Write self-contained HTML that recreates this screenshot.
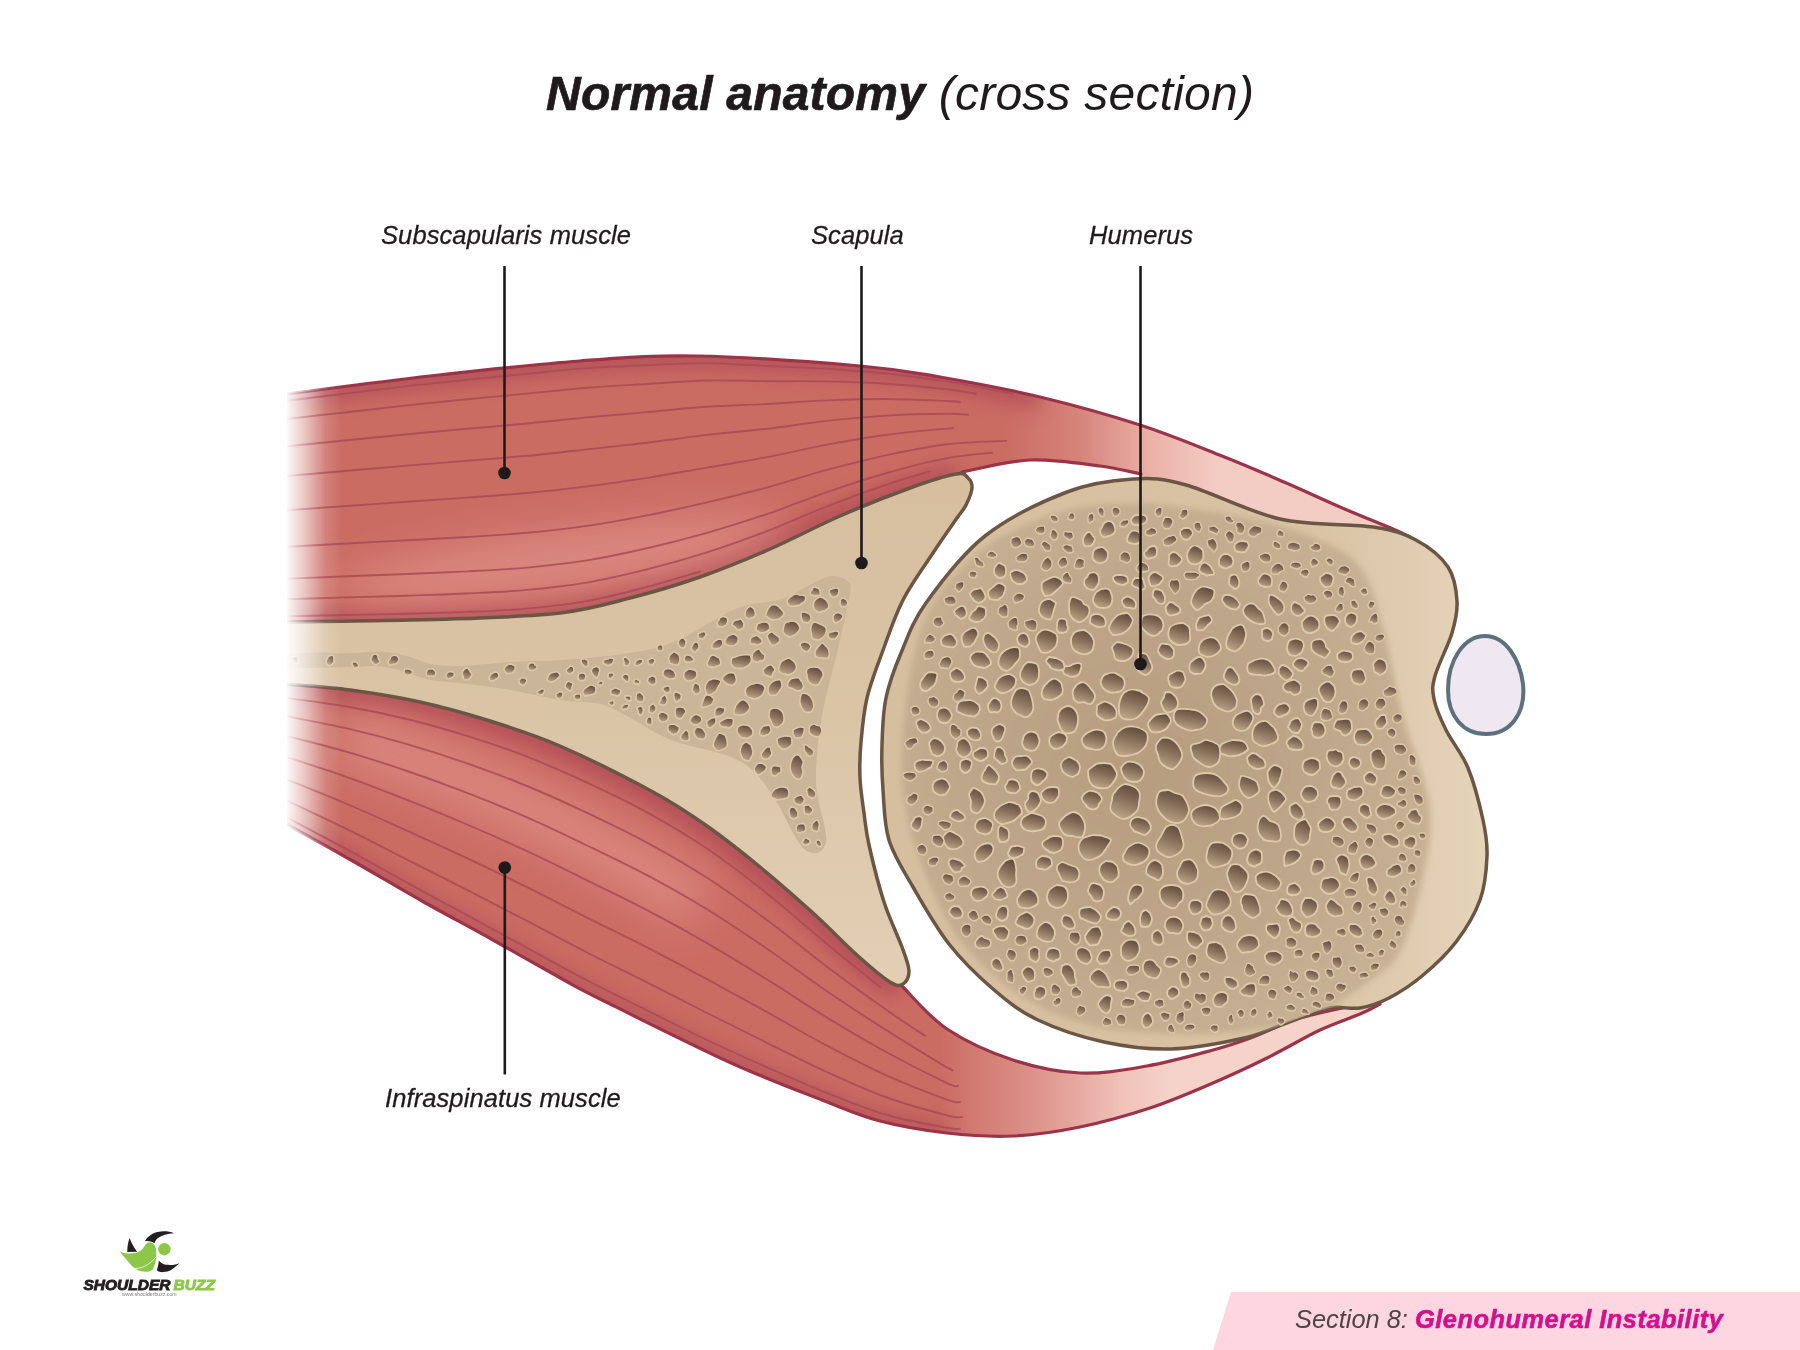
<!DOCTYPE html><html><head><meta charset="utf-8"><style>
html,body{margin:0;padding:0;background:#fff;width:1800px;height:1350px;overflow:hidden}
svg{display:block}
text{font-family:"Liberation Sans",sans-serif}
</style></head><body>
<svg width="1800" height="1350" viewBox="0 0 1800 1350">
<defs>
<linearGradient id="fade" x1="287" y1="0" x2="342" y2="0" gradientUnits="userSpaceOnUse">
<stop offset="0" stop-color="#fff" stop-opacity="0.04"/><stop offset="0.35" stop-color="#fff" stop-opacity="0.42"/><stop offset="0.7" stop-color="#fff" stop-opacity="0.85"/><stop offset="1" stop-color="#fff" stop-opacity="1"/></linearGradient>
<mask id="m" maskUnits="userSpaceOnUse" x="0" y="0" width="1800" height="1350"><rect x="287" y="0" width="1513" height="1350" fill="url(#fade)"/></mask>
<linearGradient id="gUp" x1="1005" y1="0" x2="1220" y2="0" gradientUnits="userSpaceOnUse">
<stop offset="0" stop-color="#cb6c63"/><stop offset="0.35" stop-color="#d6847b"/><stop offset="0.7" stop-color="#ebb4aa"/><stop offset="1" stop-color="#f3cdc4"/></linearGradient>
<linearGradient id="gLo" x1="940" y1="0" x2="1170" y2="0" gradientUnits="userSpaceOnUse">
<stop offset="0" stop-color="#cb6c63"/><stop offset="0.4" stop-color="#dc9189"/><stop offset="0.8" stop-color="#f1c3ba"/><stop offset="1" stop-color="#f5d2ca"/></linearGradient>
<linearGradient id="gScap" x1="0" y1="470" x2="0" y2="990" gradientUnits="userSpaceOnUse">
<stop offset="0" stop-color="#d6be9e"/><stop offset="0.45" stop-color="#dac4a6"/><stop offset="1" stop-color="#e2cfb5"/></linearGradient>
<linearGradient id="gHum" x1="900" y1="0" x2="1480" y2="0" gradientUnits="userSpaceOnUse">
<stop offset="0" stop-color="#d6bf9f"/><stop offset="0.72" stop-color="#d9c3a4"/><stop offset="1" stop-color="#e5d3ba"/></linearGradient>
<radialGradient id="gSp" cx="1140" cy="770" r="300" gradientUnits="userSpaceOnUse">
<stop offset="0" stop-color="#b69d80"/><stop offset="0.6" stop-color="#bea68a"/><stop offset="1" stop-color="#c7b194"/></radialGradient>
<linearGradient id="gH" x1="0.65" y1="0" x2="0.35" y2="1">
<stop offset="0" stop-color="#5f4a3a"/><stop offset="0.45" stop-color="#88705a"/><stop offset="1" stop-color="#bfa78a"/></linearGradient>
<filter id="b10" filterUnits="userSpaceOnUse" x="0" y="0" width="1800" height="1350"><feGaussianBlur stdDeviation="9"/></filter>
<filter id="b05" x="-2%" y="-2%" width="104%" height="104%"><feGaussianBlur stdDeviation="0.45"/></filter>
<filter id="b4" filterUnits="userSpaceOnUse" x="0" y="0" width="1800" height="1350"><feGaussianBlur stdDeviation="3"/></filter>
<filter id="b20" filterUnits="userSpaceOnUse" x="0" y="0" width="1800" height="1350"><feGaussianBlur stdDeviation="22"/></filter>
<clipPath id="cUp"><path d="M286.0,394.0 C310.0,391.0 381.0,381.5 430.0,376.0 C479.0,370.5 535.5,364.3 580.0,361.0 C624.5,357.7 650.3,355.2 697.0,356.0 C743.7,356.8 819.5,362.5 860.0,366.0 C900.5,369.5 910.0,371.8 940.0,377.0 C970.0,382.2 1006.7,389.0 1040.0,397.0 C1073.3,405.0 1109.7,415.2 1140.0,425.0 C1170.3,434.8 1198.0,446.5 1222.0,456.0 C1246.0,465.5 1263.2,473.0 1284.0,482.0 C1304.8,491.0 1328.8,502.2 1347.0,510.0 C1365.2,517.8 1382.5,524.5 1393.0,529.0 C1403.5,533.5 1407.2,535.7 1410.0,537.0 L1410.0,537.0 C1403.8,536.0 1394.7,533.3 1373.0,531.0 C1351.3,528.7 1311.2,529.8 1280.0,523.0 C1248.8,516.2 1209.2,497.2 1186.0,490.0 C1162.8,482.8 1148.5,481.7 1141.0,480.0 L1141.0,474.0 C1134.2,472.7 1118.5,468.3 1100.0,466.0 C1081.5,463.7 1053.0,459.0 1030.0,460.0 C1007.0,461.0 973.3,470.0 962.0,472.0 L956.0,474.0 C948.3,476.3 929.3,481.0 910.0,488.0 C890.7,495.0 863.3,505.8 840.0,516.0 C816.7,526.2 793.3,538.8 770.0,549.0 C746.7,559.2 723.3,568.8 700.0,577.0 C676.7,585.2 653.3,592.0 630.0,598.0 C606.7,604.0 590.0,609.5 560.0,613.0 C530.0,616.5 495.7,617.5 450.0,619.0 C404.3,620.5 313.3,621.5 286.0,622.0Z"/></clipPath>
<clipPath id="cLo"><path d="M286.0,684.0 C296.7,685.0 327.7,687.0 350.0,690.0 C372.3,693.0 396.7,696.8 420.0,702.0 C443.3,707.2 466.7,713.7 490.0,721.0 C513.3,728.3 532.8,734.2 560.0,746.0 C587.2,757.8 628.5,778.7 653.0,792.0 C677.5,805.3 689.2,813.5 707.0,826.0 C724.8,838.5 742.3,852.5 760.0,867.0 C777.7,881.5 796.7,898.2 813.0,913.0 C829.3,927.8 846.2,945.7 858.0,956.0 C869.8,966.3 876.7,970.0 884.0,975.0 C891.3,980.0 891.5,977.0 902.0,986.0 C912.5,995.0 928.5,1016.7 947.0,1029.0 C965.5,1041.3 990.8,1052.7 1013.0,1060.0 C1035.2,1067.3 1057.7,1072.0 1080.0,1073.0 C1102.3,1074.0 1124.8,1069.8 1147.0,1066.0 C1169.2,1062.2 1195.3,1054.8 1213.0,1050.0 C1230.7,1045.2 1238.5,1042.3 1253.0,1037.0 C1267.5,1031.7 1278.8,1024.2 1300.0,1018.0 C1321.2,1011.8 1366.7,1003.0 1380.0,1000.0 L1380.0,1004.0 C1376.7,1005.7 1370.0,1009.7 1360.0,1014.0 C1350.0,1018.3 1335.5,1022.7 1320.0,1030.0 C1304.5,1037.3 1284.8,1049.2 1267.0,1058.0 C1249.2,1066.8 1232.5,1074.7 1213.0,1083.0 C1193.5,1091.3 1172.2,1100.7 1150.0,1108.0 C1127.8,1115.3 1102.8,1122.3 1080.0,1127.0 C1057.2,1131.7 1035.2,1135.0 1013.0,1136.0 C990.8,1137.0 969.2,1135.5 947.0,1133.0 C924.8,1130.5 900.8,1126.5 880.0,1121.0 C859.2,1115.5 847.2,1109.8 822.0,1100.0 C796.8,1090.2 765.3,1078.5 729.0,1062.0 C692.7,1045.5 631.5,1014.7 604.0,1001.0 C576.5,987.3 582.5,990.2 564.0,980.0 C545.5,969.8 516.7,953.2 493.0,940.0 C469.3,926.8 445.7,914.3 422.0,901.0 C398.3,887.7 373.7,872.8 351.0,860.0 C328.3,847.2 296.8,830.0 286.0,824.0Z"/></clipPath>
<clipPath id="cHum"><path d="M1133.0,479.0 C1152.8,477.8 1161.5,478.3 1186.0,485.0 C1210.5,491.7 1248.8,512.0 1280.0,519.0 C1311.2,526.0 1350.3,523.5 1373.0,527.0 C1395.7,530.5 1403.5,533.3 1416.0,540.0 C1428.5,546.7 1441.2,556.8 1448.0,567.0 C1454.8,577.2 1456.3,590.0 1457.0,601.0 C1457.7,612.0 1455.7,620.5 1452.0,633.0 C1448.3,645.5 1438.0,665.0 1435.0,676.0 C1432.0,687.0 1432.2,690.0 1434.0,699.0 C1435.8,708.0 1440.3,718.5 1446.0,730.0 C1451.7,741.5 1461.8,753.0 1468.0,768.0 C1474.2,783.0 1479.8,805.3 1483.0,820.0 C1486.2,834.7 1487.5,842.7 1487.0,856.0 C1486.5,869.3 1485.2,885.7 1480.0,900.0 C1474.8,914.3 1465.7,929.3 1456.0,942.0 C1446.3,954.7 1433.2,966.7 1422.0,976.0 C1410.8,985.3 1399.3,992.7 1389.0,998.0 C1378.7,1003.3 1370.0,1006.3 1360.0,1008.0 C1350.0,1009.7 1340.8,1005.7 1329.0,1008.0 C1317.2,1010.3 1303.2,1017.0 1289.0,1022.0 C1274.8,1027.0 1263.7,1033.5 1244.0,1038.0 C1224.3,1042.5 1194.3,1048.3 1171.0,1049.0 C1147.7,1049.7 1126.2,1046.8 1104.0,1042.0 C1081.8,1037.2 1056.5,1028.8 1038.0,1020.0 C1019.5,1011.2 1007.8,1001.7 993.0,989.0 C978.2,976.3 962.3,961.0 949.0,944.0 C935.7,927.0 923.0,904.3 913.0,887.0 C903.0,869.7 894.0,856.2 889.0,840.0 C884.0,823.8 884.2,805.8 883.0,790.0 C881.8,774.2 881.5,760.3 882.0,745.0 C882.5,729.7 882.8,713.3 886.0,698.0 C889.2,682.7 894.3,668.8 901.0,653.0 C907.7,637.2 912.0,622.5 926.0,603.0 C940.0,583.5 961.5,554.5 985.0,536.0 C1008.5,517.5 1042.3,501.5 1067.0,492.0 C1091.7,482.5 1113.2,480.2 1133.0,479.0Z"/></clipPath>
<clipPath id="cScap"><path d="M286,622 C313.3,621.5 404.3,620.5 450.0,619.0 C495.7,617.5 530.0,616.5 560.0,613.0 C590.0,609.5 606.7,604.0 630.0,598.0 C653.3,592.0 676.7,585.2 700.0,577.0 C723.3,568.8 746.7,559.2 770.0,549.0 C793.3,538.8 816.7,526.2 840.0,516.0 C863.3,505.8 890.7,495.0 910.0,488.0 C929.3,481.0 946.3,475.7 956.0,474.0 C965.7,472.3 965.3,475.7 968.0,478.0 C970.7,480.3 972.3,483.5 972.0,488.0 C971.7,492.5 968.5,500.0 966.0,505.0 C963.5,510.0 962.5,510.0 957.0,518.0 C951.5,526.0 942.0,539.3 933.0,553.0 C924.0,566.7 911.5,583.3 903.0,600.0 C894.5,616.7 888.0,636.7 882.0,653.0 C876.0,669.3 870.5,683.2 867.0,698.0 C863.5,712.8 862.2,728.7 861.0,742.0 C859.8,755.3 859.5,766.2 860.0,778.0 C860.5,789.8 862.5,801.8 864.0,813.0 C865.5,824.2 865.7,830.2 869.0,845.0 C872.3,859.8 878.5,885.0 884.0,902.0 C889.5,919.0 897.8,935.5 902.0,947.0 C906.2,958.5 908.8,964.8 909.0,971.0 C909.2,977.2 906.2,982.2 903.0,984.0 C899.8,985.8 897.5,986.7 890.0,982.0 C882.5,977.3 870.8,967.5 858.0,956.0 C845.2,944.5 829.3,927.8 813.0,913.0 C796.7,898.2 777.7,881.5 760.0,867.0 C742.3,852.5 724.8,838.5 707.0,826.0 C689.2,813.5 677.5,805.3 653.0,792.0 C628.5,778.7 587.2,757.8 560.0,746.0 C532.8,734.2 513.3,728.3 490.0,721.0 C466.7,713.7 443.3,707.2 420.0,702.0 C396.7,696.8 372.3,693.0 350.0,690.0 C327.7,687.0 296.7,685.0 286.0,684.0Z"/></clipPath>
</defs>

<g mask="url(#m)">
<path d="M286.0,394.0 C310.0,391.0 381.0,381.5 430.0,376.0 C479.0,370.5 535.5,364.3 580.0,361.0 C624.5,357.7 650.3,355.2 697.0,356.0 C743.7,356.8 819.5,362.5 860.0,366.0 C900.5,369.5 910.0,371.8 940.0,377.0 C970.0,382.2 1006.7,389.0 1040.0,397.0 C1073.3,405.0 1109.7,415.2 1140.0,425.0 C1170.3,434.8 1198.0,446.5 1222.0,456.0 C1246.0,465.5 1263.2,473.0 1284.0,482.0 C1304.8,491.0 1328.8,502.2 1347.0,510.0 C1365.2,517.8 1382.5,524.5 1393.0,529.0 C1403.5,533.5 1407.2,535.7 1410.0,537.0 L1410.0,537.0 C1403.8,536.0 1394.7,533.3 1373.0,531.0 C1351.3,528.7 1311.2,529.8 1280.0,523.0 C1248.8,516.2 1209.2,497.2 1186.0,490.0 C1162.8,482.8 1148.5,481.7 1141.0,480.0 L1141.0,474.0 C1134.2,472.7 1118.5,468.3 1100.0,466.0 C1081.5,463.7 1053.0,459.0 1030.0,460.0 C1007.0,461.0 973.3,470.0 962.0,472.0 L956.0,474.0 C948.3,476.3 929.3,481.0 910.0,488.0 C890.7,495.0 863.3,505.8 840.0,516.0 C816.7,526.2 793.3,538.8 770.0,549.0 C746.7,559.2 723.3,568.8 700.0,577.0 C676.7,585.2 653.3,592.0 630.0,598.0 C606.7,604.0 590.0,609.5 560.0,613.0 C530.0,616.5 495.7,617.5 450.0,619.0 C404.3,620.5 313.3,621.5 286.0,622.0Z" fill="url(#gUp)"/>
<g clip-path="url(#cUp)">
<path d="M286,394 C310.0,391.0 381.0,381.5 430.0,376.0 C479.0,370.5 535.5,364.3 580.0,361.0 C624.5,357.7 650.3,355.2 697.0,356.0 C743.7,356.8 819.5,362.5 860.0,366.0 C900.5,369.5 910.0,371.8 940.0,377.0 C970.0,382.2 1023.3,393.7 1040.0,397.0" fill="none" stroke="#b24f58" stroke-width="26" filter="url(#b10)" opacity="0.8"/>
<path d="M956,475 C948.3,476.3 929.3,481.0 910.0,488.0 C890.7,495.0 863.3,505.8 840.0,516.0 C816.7,526.2 793.3,538.8 770.0,549.0 C746.7,559.2 723.3,568.8 700.0,577.0 C676.7,585.2 653.3,592.0 630.0,598.0 C606.7,604.0 590.0,609.5 560.0,613.0 C530.0,616.5 495.7,617.5 450.0,619.0 C404.3,620.5 313.3,621.5 286.0,622.0" fill="none" stroke="#b04c57" stroke-width="26" filter="url(#b10)" opacity="0.75"/>
<ellipse cx="560" cy="560" rx="230" ry="28" transform="rotate(-8 560 560)" fill="#dd8f87" filter="url(#b20)" opacity="0.9"/>
</g>
<path d="M286.0,684.0 C296.7,685.0 327.7,687.0 350.0,690.0 C372.3,693.0 396.7,696.8 420.0,702.0 C443.3,707.2 466.7,713.7 490.0,721.0 C513.3,728.3 532.8,734.2 560.0,746.0 C587.2,757.8 628.5,778.7 653.0,792.0 C677.5,805.3 689.2,813.5 707.0,826.0 C724.8,838.5 742.3,852.5 760.0,867.0 C777.7,881.5 796.7,898.2 813.0,913.0 C829.3,927.8 846.2,945.7 858.0,956.0 C869.8,966.3 876.7,970.0 884.0,975.0 C891.3,980.0 891.5,977.0 902.0,986.0 C912.5,995.0 928.5,1016.7 947.0,1029.0 C965.5,1041.3 990.8,1052.7 1013.0,1060.0 C1035.2,1067.3 1057.7,1072.0 1080.0,1073.0 C1102.3,1074.0 1124.8,1069.8 1147.0,1066.0 C1169.2,1062.2 1195.3,1054.8 1213.0,1050.0 C1230.7,1045.2 1238.5,1042.3 1253.0,1037.0 C1267.5,1031.7 1278.8,1024.2 1300.0,1018.0 C1321.2,1011.8 1366.7,1003.0 1380.0,1000.0 L1380.0,1004.0 C1376.7,1005.7 1370.0,1009.7 1360.0,1014.0 C1350.0,1018.3 1335.5,1022.7 1320.0,1030.0 C1304.5,1037.3 1284.8,1049.2 1267.0,1058.0 C1249.2,1066.8 1232.5,1074.7 1213.0,1083.0 C1193.5,1091.3 1172.2,1100.7 1150.0,1108.0 C1127.8,1115.3 1102.8,1122.3 1080.0,1127.0 C1057.2,1131.7 1035.2,1135.0 1013.0,1136.0 C990.8,1137.0 969.2,1135.5 947.0,1133.0 C924.8,1130.5 900.8,1126.5 880.0,1121.0 C859.2,1115.5 847.2,1109.8 822.0,1100.0 C796.8,1090.2 765.3,1078.5 729.0,1062.0 C692.7,1045.5 631.5,1014.7 604.0,1001.0 C576.5,987.3 582.5,990.2 564.0,980.0 C545.5,969.8 516.7,953.2 493.0,940.0 C469.3,926.8 445.7,914.3 422.0,901.0 C398.3,887.7 373.7,872.8 351.0,860.0 C328.3,847.2 296.8,830.0 286.0,824.0Z" fill="url(#gLo)"/>
<g clip-path="url(#cLo)">
<path d="M286,684 C296.7,685.0 327.7,687.0 350.0,690.0 C372.3,693.0 396.7,696.8 420.0,702.0 C443.3,707.2 466.7,713.7 490.0,721.0 C513.3,728.3 532.8,734.2 560.0,746.0 C587.2,757.8 628.5,778.7 653.0,792.0 C677.5,805.3 689.2,813.5 707.0,826.0 C724.8,838.5 742.3,852.5 760.0,867.0 C777.7,881.5 796.7,898.2 813.0,913.0 C829.3,927.8 846.2,945.7 858.0,956.0 C869.8,966.3 876.7,970.0 884.0,975.0 C891.3,980.0 899.0,984.2 902.0,986.0" fill="none" stroke="#b04c57" stroke-width="30" filter="url(#b10)" opacity="0.8"/>
<path d="M947,1133 C935.8,1131.0 900.8,1126.5 880.0,1121.0 C859.2,1115.5 847.2,1109.8 822.0,1100.0 C796.8,1090.2 765.3,1078.5 729.0,1062.0 C692.7,1045.5 631.5,1014.7 604.0,1001.0 C576.5,987.3 582.5,990.2 564.0,980.0 C545.5,969.8 516.7,953.2 493.0,940.0 C469.3,926.8 445.7,914.3 422.0,901.0 C398.3,887.7 373.7,872.8 351.0,860.0 C328.3,847.2 296.8,830.0 286.0,824.0" fill="none" stroke="#b24f58" stroke-width="22" filter="url(#b10)" opacity="0.7"/>
<path d="M340,735 C450,770 570,825 700,905" fill="none" stroke="#dc8c84" stroke-width="55" filter="url(#b20)" opacity="0.85"/>
</g>
</g>
<g mask="url(#m)" fill="none" stroke="#a94b56" stroke-width="1.9" stroke-linecap="round" opacity="0.85">
<path d="M287.0,400.7 C297.0,399.5 327.0,395.8 347.0,393.4 C367.0,391.0 387.0,388.4 407.0,386.1 C427.0,383.8 447.0,381.7 467.0,379.7 C487.0,377.6 507.0,375.7 527.0,373.8 C547.0,371.8 567.0,369.5 587.0,368.1 C607.0,366.7 627.0,366.0 647.0,365.2 C667.0,364.4 687.0,363.0 707.0,363.1 C727.0,363.3 747.0,365.1 767.0,366.0 C787.0,366.9 807.0,367.5 827.0,368.7 C847.0,370.0 867.0,371.4 887.0,373.5 C907.0,375.6 927.0,378.2 947.0,381.4 C967.0,384.5 996.5,390.7 1007.0,392.7 C1017.5,394.6 1009.5,393.1 1010.0,393.2"/>
<path d="M287.0,419.0 C297.0,417.8 327.0,414.4 347.0,412.2 C367.0,409.9 387.0,407.5 407.0,405.4 C427.0,403.2 447.0,401.3 467.0,399.3 C487.0,397.4 507.0,395.6 527.0,393.6 C547.0,391.7 567.0,389.4 587.0,387.8 C607.0,386.2 627.0,385.2 647.0,384.0 C667.0,382.7 687.0,381.0 707.0,380.5 C727.0,380.1 747.0,381.0 767.0,381.2 C787.0,381.3 807.0,380.9 827.0,381.4 C847.0,381.8 867.0,382.4 887.0,383.7 C907.0,385.0 932.2,387.6 947.0,389.2 C961.8,390.9 971.2,393.0 976.0,393.7"/>
<path d="M287.0,446.3 C297.0,445.3 327.0,442.3 347.0,440.3 C367.0,438.3 387.0,436.2 407.0,434.3 C427.0,432.4 447.0,430.6 467.0,428.8 C487.0,427.0 507.0,425.4 527.0,423.5 C547.0,421.6 567.0,419.3 587.0,417.4 C607.0,415.5 627.0,413.9 647.0,412.1 C667.0,410.3 687.0,408.0 707.0,406.7 C727.0,405.3 747.0,405.0 767.0,404.0 C787.0,402.9 807.0,401.2 827.0,400.4 C847.0,399.5 867.0,398.9 887.0,399.0 C907.0,399.1 934.8,400.5 947.0,401.0 C959.2,401.6 957.8,402.0 960.0,402.2"/>
<path d="M287.0,476.0 C297.0,475.1 327.0,472.5 347.0,470.8 C367.0,469.1 387.0,467.3 407.0,465.6 C427.0,463.9 447.0,462.4 467.0,460.8 C487.0,459.1 507.0,457.6 527.0,455.8 C547.0,453.9 567.0,451.6 587.0,449.4 C607.0,447.3 627.0,445.1 647.0,442.7 C667.0,440.2 687.0,437.3 707.0,434.9 C727.0,432.6 747.0,431.0 767.0,428.7 C787.0,426.3 807.0,423.1 827.0,420.9 C847.0,418.7 867.0,416.8 887.0,415.6 C907.0,414.4 933.5,413.9 947.0,413.8 C960.5,413.7 964.5,414.6 968.0,414.8"/>
<path d="M287.0,510.2 C297.0,509.5 327.0,507.4 347.0,506.0 C367.0,504.6 387.0,503.1 407.0,501.7 C427.0,500.4 447.0,499.1 467.0,497.6 C487.0,496.2 507.0,494.9 527.0,493.0 C547.0,491.2 567.0,489.0 587.0,486.4 C607.0,483.9 627.0,481.0 647.0,477.9 C667.0,474.7 687.0,471.0 707.0,467.6 C727.0,464.1 747.0,461.0 767.0,457.1 C787.0,453.3 807.0,448.4 827.0,444.6 C847.0,440.9 867.0,437.4 887.0,434.7 C907.0,432.1 936.2,429.6 947.0,428.6 C957.8,427.5 951.2,428.3 952.0,428.3"/>
<path d="M287.0,546.7 C297.0,546.2 327.0,544.6 347.0,543.5 C367.0,542.4 387.0,541.4 407.0,540.3 C427.0,539.2 447.0,538.2 467.0,537.0 C487.0,535.7 507.0,534.6 527.0,532.8 C547.0,530.9 567.0,528.8 587.0,525.9 C607.0,523.0 627.0,519.3 647.0,515.4 C667.0,511.5 687.0,507.0 707.0,502.4 C727.0,497.7 747.0,492.9 767.0,487.5 C787.0,482.1 807.0,475.3 827.0,469.9 C847.0,464.5 867.0,459.4 887.0,455.1 C907.0,450.9 927.2,446.7 947.0,444.3 C966.8,441.9 996.2,441.5 1006.0,440.9"/>
<path d="M287.0,578.6 C297.0,578.3 327.0,577.1 347.0,576.3 C367.0,575.6 387.0,574.8 407.0,574.0 C427.0,573.2 447.0,572.4 467.0,571.4 C487.0,570.3 507.0,569.4 527.0,567.6 C547.0,565.8 567.0,563.6 587.0,560.4 C607.0,557.2 627.0,552.9 647.0,548.3 C667.0,543.7 687.0,538.6 707.0,532.9 C727.0,527.2 747.0,520.9 767.0,514.1 C787.0,507.3 807.0,498.9 827.0,492.1 C847.0,485.2 867.0,478.6 887.0,473.0 C907.0,467.3 929.5,461.4 947.0,458.1 C964.5,454.7 984.5,453.7 992.0,452.8"/>
<path d="M287.0,599.2 C297.0,598.9 327.0,598.0 347.0,597.4 C367.0,596.9 387.0,596.4 407.0,595.7 C427.0,595.0 447.0,594.5 467.0,593.5 C487.0,592.5 507.0,591.8 527.0,589.9 C547.0,588.1 567.0,586.0 587.0,582.6 C607.0,579.1 627.0,574.4 647.0,569.4 C667.0,564.4 687.0,558.8 707.0,552.4 C727.0,546.1 747.0,538.9 767.0,531.2 C787.0,523.5 807.0,514.1 827.0,506.3 C847.0,498.5 869.8,490.3 887.0,484.5 C904.2,478.6 922.8,473.5 930.0,471.3"/>
<path d="M287.0,616.3 C297.0,616.1 327.0,615.4 347.0,615.0 C367.0,614.6 387.0,614.3 407.0,613.8 C427.0,613.2 447.0,612.8 467.0,611.9 C487.0,611.1 507.0,610.4 527.0,608.6 C547.0,606.8 567.0,604.6 587.0,601.1 C607.0,597.5 628.2,592.0 647.0,587.0 C665.8,582.1 691.2,574.1 700.0,571.5"/>
</g>
<g mask="url(#m)" fill="none" stroke="#a94b56" stroke-width="1.9" stroke-linecap="round" opacity="0.85">
<path d="M287.0,698.1 C297.0,699.5 327.0,703.0 347.0,706.5 C367.0,710.0 387.0,714.1 407.0,719.0 C427.0,723.9 447.0,729.6 467.0,735.9 C487.0,742.1 507.0,748.9 527.0,756.7 C547.0,764.5 567.0,773.4 587.0,782.6 C607.0,791.9 627.0,801.3 647.0,812.3 C667.0,823.3 687.0,835.0 707.0,848.5 C727.0,862.1 747.0,877.6 767.0,893.5 C787.0,909.4 808.2,928.3 827.0,943.9 C845.8,959.5 871.2,979.8 880.0,987.0"/>
<path d="M287.0,716.4 C297.0,718.4 327.0,723.8 347.0,728.4 C367.0,733.0 387.0,738.2 407.0,744.1 C427.0,749.9 447.0,756.3 467.0,763.3 C487.0,770.3 507.0,777.7 527.0,786.0 C547.0,794.2 567.0,803.4 587.0,812.9 C607.0,822.3 627.0,831.8 647.0,842.6 C667.0,853.4 687.0,864.9 707.0,877.8 C727.0,890.7 747.0,905.3 767.0,920.1 C787.0,934.9 807.0,951.7 827.0,966.7 C847.0,981.8 870.7,998.8 887.0,1010.3 C903.3,1021.8 918.7,1031.6 925.0,1035.8"/>
<path d="M287.0,736.1 C297.0,738.7 327.0,746.1 347.0,751.9 C367.0,757.7 387.0,764.2 407.0,771.0 C427.0,777.8 447.0,785.1 467.0,792.8 C487.0,800.5 507.0,808.7 527.0,817.4 C547.0,826.2 567.0,835.8 587.0,845.5 C607.0,855.1 627.0,864.6 647.0,875.2 C667.0,885.9 687.0,897.1 707.0,909.3 C727.0,921.6 747.0,935.1 767.0,948.7 C787.0,962.4 807.0,977.6 827.0,991.3 C847.0,1004.9 867.0,1017.9 887.0,1030.6 C907.0,1043.3 936.5,1061.2 947.0,1067.5 C957.5,1073.8 949.5,1068.3 950.0,1068.4"/>
<path d="M287.0,757.1 C297.0,760.5 327.0,770.0 347.0,777.1 C367.0,784.2 387.0,792.0 407.0,799.9 C427.0,807.8 447.0,815.9 467.0,824.5 C487.0,833.0 507.0,841.9 527.0,851.2 C547.0,860.5 567.0,870.5 587.0,880.4 C607.0,890.2 627.0,899.7 647.0,910.2 C667.0,920.6 687.0,931.6 707.0,943.1 C727.0,954.7 747.0,967.0 767.0,979.4 C787.0,991.8 807.0,1005.4 827.0,1017.6 C847.0,1029.8 867.0,1041.5 887.0,1052.5 C907.0,1063.4 935.2,1077.5 947.0,1083.1 C958.8,1088.6 956.2,1085.4 958.0,1085.8"/>
<path d="M287.0,779.6 C297.0,783.7 327.0,795.5 347.0,804.0 C367.0,812.5 387.0,821.7 407.0,830.7 C427.0,839.8 447.0,848.8 467.0,858.2 C487.0,867.6 507.0,877.3 527.0,887.2 C547.0,897.1 567.0,907.6 587.0,917.6 C607.0,927.6 627.0,937.2 647.0,947.4 C667.0,957.7 687.0,968.4 707.0,979.2 C727.0,990.0 747.0,1001.0 767.0,1012.1 C787.0,1023.2 807.0,1035.1 827.0,1045.7 C847.0,1056.3 867.0,1066.7 887.0,1075.7 C907.0,1084.7 934.8,1095.3 947.0,1099.7 C959.2,1104.1 957.8,1101.7 960.0,1102.1"/>
<path d="M287.0,800.7 C297.0,805.4 327.0,819.4 347.0,829.2 C367.0,839.0 387.0,849.5 407.0,859.6 C427.0,869.7 447.0,879.6 467.0,889.9 C487.0,900.1 507.0,910.5 527.0,920.9 C547.0,931.4 567.0,942.3 587.0,952.5 C607.0,962.8 627.0,972.3 647.0,982.4 C667.0,992.5 687.0,1002.9 707.0,1013.0 C727.0,1023.0 747.0,1032.9 767.0,1042.8 C787.0,1052.6 807.0,1062.9 827.0,1072.0 C847.0,1081.1 867.0,1090.3 887.0,1097.5 C907.0,1104.8 934.5,1112.1 947.0,1115.3 C959.5,1118.6 959.5,1116.8 962.0,1117.1"/>
<path d="M287.0,817.5 C297.0,822.8 327.0,838.5 347.0,849.4 C367.0,860.2 387.0,871.7 407.0,882.7 C427.0,893.7 447.0,904.3 467.0,915.2 C487.0,926.0 507.0,937.0 527.0,947.9 C547.0,958.8 567.0,970.0 587.0,980.4 C607.0,990.8 627.0,1000.4 647.0,1010.3 C667.0,1020.3 687.0,1030.5 707.0,1040.0 C727.0,1049.5 747.0,1058.5 767.0,1067.3 C787.0,1076.1 807.0,1085.1 827.0,1093.0 C847.0,1101.0 867.0,1109.2 887.0,1115.0 C907.0,1120.8 934.8,1125.5 947.0,1127.8 C959.2,1130.1 957.8,1128.5 960.0,1128.7"/>
</g>
<g mask="url(#m)" fill="none" stroke="#9b3449" stroke-width="3.2" stroke-linecap="round">
<path d="M286,394 C310.0,391.0 381.0,381.5 430.0,376.0 C479.0,370.5 535.5,364.3 580.0,361.0 C624.5,357.7 650.3,355.2 697.0,356.0 C743.7,356.8 819.5,362.5 860.0,366.0 C900.5,369.5 910.0,371.8 940.0,377.0 C970.0,382.2 1006.7,389.0 1040.0,397.0 C1073.3,405.0 1109.7,415.2 1140.0,425.0 C1170.3,434.8 1198.0,446.5 1222.0,456.0 C1246.0,465.5 1263.2,473.0 1284.0,482.0 C1304.8,491.0 1328.8,502.2 1347.0,510.0 C1365.2,517.8 1382.5,524.5 1393.0,529.0 C1403.5,533.5 1407.2,535.7 1410.0,537.0"/>
<path d="M1141,474 C1134.2,472.7 1118.5,468.3 1100.0,466.0 C1081.5,463.7 1053.0,459.0 1030.0,460.0 C1007.0,461.0 973.3,470.0 962.0,472.0"/>
<path d="M902,986 C909.5,993.2 928.5,1016.7 947.0,1029.0 C965.5,1041.3 990.8,1052.7 1013.0,1060.0 C1035.2,1067.3 1057.7,1072.0 1080.0,1073.0 C1102.3,1074.0 1124.8,1069.8 1147.0,1066.0 C1169.2,1062.2 1195.3,1054.8 1213.0,1050.0 C1230.7,1045.2 1238.5,1042.3 1253.0,1037.0 C1267.5,1031.7 1278.8,1024.2 1300.0,1018.0 C1321.2,1011.8 1366.7,1003.0 1380.0,1000.0"/>
<path d="M1380,1004 C1376.7,1005.7 1370.0,1009.7 1360.0,1014.0 C1350.0,1018.3 1335.5,1022.7 1320.0,1030.0 C1304.5,1037.3 1284.8,1049.2 1267.0,1058.0 C1249.2,1066.8 1232.5,1074.7 1213.0,1083.0 C1193.5,1091.3 1172.2,1100.7 1150.0,1108.0 C1127.8,1115.3 1102.8,1122.3 1080.0,1127.0 C1057.2,1131.7 1035.2,1135.0 1013.0,1136.0 C990.8,1137.0 969.2,1135.5 947.0,1133.0 C924.8,1130.5 900.8,1126.5 880.0,1121.0 C859.2,1115.5 847.2,1109.8 822.0,1100.0 C796.8,1090.2 765.3,1078.5 729.0,1062.0 C692.7,1045.5 631.5,1014.7 604.0,1001.0 C576.5,987.3 582.5,990.2 564.0,980.0 C545.5,969.8 516.7,953.2 493.0,940.0 C469.3,926.8 445.7,914.3 422.0,901.0 C398.3,887.7 373.7,872.8 351.0,860.0 C328.3,847.2 296.8,830.0 286.0,824.0"/>
</g>
<g mask="url(#m)">
<path d="M286,622 C313.3,621.5 404.3,620.5 450.0,619.0 C495.7,617.5 530.0,616.5 560.0,613.0 C590.0,609.5 606.7,604.0 630.0,598.0 C653.3,592.0 676.7,585.2 700.0,577.0 C723.3,568.8 746.7,559.2 770.0,549.0 C793.3,538.8 816.7,526.2 840.0,516.0 C863.3,505.8 890.7,495.0 910.0,488.0 C929.3,481.0 946.3,475.7 956.0,474.0 C965.7,472.3 965.3,475.7 968.0,478.0 C970.7,480.3 972.3,483.5 972.0,488.0 C971.7,492.5 968.5,500.0 966.0,505.0 C963.5,510.0 962.5,510.0 957.0,518.0 C951.5,526.0 942.0,539.3 933.0,553.0 C924.0,566.7 911.5,583.3 903.0,600.0 C894.5,616.7 888.0,636.7 882.0,653.0 C876.0,669.3 870.5,683.2 867.0,698.0 C863.5,712.8 862.2,728.7 861.0,742.0 C859.8,755.3 859.5,766.2 860.0,778.0 C860.5,789.8 862.5,801.8 864.0,813.0 C865.5,824.2 865.7,830.2 869.0,845.0 C872.3,859.8 878.5,885.0 884.0,902.0 C889.5,919.0 897.8,935.5 902.0,947.0 C906.2,958.5 908.8,964.8 909.0,971.0 C909.2,977.2 906.2,982.2 903.0,984.0 C899.8,985.8 897.5,986.7 890.0,982.0 C882.5,977.3 870.8,967.5 858.0,956.0 C845.2,944.5 829.3,927.8 813.0,913.0 C796.7,898.2 777.7,881.5 760.0,867.0 C742.3,852.5 724.8,838.5 707.0,826.0 C689.2,813.5 677.5,805.3 653.0,792.0 C628.5,778.7 587.2,757.8 560.0,746.0 C532.8,734.2 513.3,728.3 490.0,721.0 C466.7,713.7 443.3,707.2 420.0,702.0 C396.7,696.8 372.3,693.0 350.0,690.0 C327.7,687.0 296.7,685.0 286.0,684.0Z" fill="url(#gScap)"/>
<path d="M287.0,654.0 C297.5,651.7 333.7,653.3 350.0,653.0 C366.3,652.7 375.0,651.3 385.0,652.0 C395.0,652.7 402.3,655.0 410.0,657.0 C417.7,659.0 422.7,662.5 431.0,664.0 C439.3,665.5 446.7,666.3 460.0,666.0 C473.3,665.7 494.3,663.0 511.0,662.0 C527.7,661.0 542.7,661.2 560.0,660.0 C577.3,658.8 596.5,657.8 615.0,655.0 C633.5,652.2 650.5,650.8 671.0,643.0 C691.5,635.2 719.5,615.3 738.0,608.0 C756.5,600.7 767.2,604.2 782.0,599.0 C796.8,593.8 816.2,580.0 827.0,577.0 C837.8,574.0 843.2,578.3 847.0,581.0 C850.8,583.7 851.5,581.7 850.0,593.0 C848.5,604.3 842.7,628.5 838.0,649.0 C833.3,669.5 825.7,693.8 822.0,716.0 C818.3,738.2 815.3,761.0 816.0,782.0 C816.7,803.0 828.0,830.8 826.0,842.0 C824.0,853.2 813.2,857.2 804.0,849.0 C794.8,840.8 782.0,807.8 771.0,793.0 C760.0,778.2 754.7,768.8 738.0,760.0 C721.3,751.2 689.5,747.3 671.0,740.0 C652.5,732.7 638.8,722.0 627.0,716.0 C615.2,710.0 611.2,706.7 600.0,704.0 C588.8,701.3 574.8,702.3 560.0,700.0 C545.2,697.7 527.7,692.8 511.0,690.0 C494.3,687.2 473.3,684.7 460.0,683.0 C446.7,681.3 443.5,682.7 431.0,680.0 C418.5,677.3 398.5,669.2 385.0,667.0 C371.5,664.8 366.3,667.0 350.0,667.0 C333.7,667.0 297.5,669.2 287.0,667.0 C276.5,664.8 276.5,656.3 287.0,654.0Z" fill="#cab598"/>
<g fill="url(#gH)" stroke="#dcc9a9" stroke-width="1.6" filter="url(#b05)">
<path d="M811,712C809 712 807 713 805 712C803 711 802 708 801 706C800 704 799 702 800 700C800 697 801 694 803 693C805 693 808 694 810 696C811 697 812 700 813 701C813 703 814 705 814 707C813 709 812 711 811 712Z"/>
<path d="M755,772C754 771 754 769 754 768C755 767 756 765 757 764C758 763 760 763 762 763C763 764 766 765 766 766C767 767 766 770 765 771C764 772 763 772 762 773C761 774 760 775 758 775C757 775 756 773 755 772Z"/>
<path d="M744,668C741 669 737 668 735 668C733 667 732 665 731 664C731 662 731 659 732 658C733 657 736 657 738 656C739 656 740 655 742 655C744 655 748 654 750 655C751 656 752 660 751 662C750 665 746 667 744 668Z"/>
<path d="M764,759C763 759 761 757 761 755C761 753 763 751 764 750C765 748 766 748 767 747C768 747 770 747 770 747C771 748 771 749 771 750C771 751 772 752 772 754C771 755 770 757 769 758C768 759 765 760 764 759Z"/>
<path d="M624,680C624 679 623 679 623 679C623 678 622 677 622 676C623 675 624 675 625 674C626 674 627 674 628 675C628 675 629 676 629 677C629 678 629 680 629 680C629 681 627 682 626 682C626 682 625 680 624 680Z"/>
<path d="M794,801C793 801 794 799 794 798C795 798 796 797 797 796C798 796 800 795 801 795C802 796 803 796 803 797C804 798 805 800 804 801C804 802 802 804 801 805C799 805 797 804 796 804C795 803 794 802 794 801Z"/>
<path d="M812,638C811 637 812 633 811 632C811 630 810 629 811 627C811 626 812 623 814 622C816 622 818 623 820 624C822 625 825 626 826 628C827 630 826 633 825 635C824 637 821 639 819 640C817 640 813 639 812 638Z"/>
<path d="M778,745C777 743 777 740 777 739C778 738 780 737 781 737C782 737 783 736 785 736C786 736 790 736 791 737C792 738 792 742 792 744C791 746 789 747 788 748C786 749 784 750 782 749C781 748 779 746 778 745Z"/>
<path d="M800,779C799 780 796 779 794 777C792 775 791 772 790 769C790 765 791 761 792 759C793 757 796 754 798 755C800 755 802 759 803 761C804 763 802 766 802 767C802 769 803 770 803 772C803 773 802 778 800 779Z"/>
<path d="M796,818C795 818 795 819 793 819C792 818 790 818 790 816C789 815 789 813 789 811C789 810 790 808 791 807C792 807 794 807 795 808C796 809 797 811 798 812C798 814 798 815 798 816C798 817 797 817 796 818Z"/>
<path d="M697,738C696 737 695 735 694 733C694 732 695 729 696 728C697 727 699 727 701 728C703 728 704 731 705 732C706 733 706 735 706 736C705 738 705 738 704 739C703 739 702 740 701 739C700 739 698 739 697 738Z"/>
<path d="M623,710C623 709 621 709 621 708C621 707 623 706 623 705C624 705 625 704 626 704C627 704 628 704 629 705C629 706 628 707 628 708C628 708 627 709 627 709C626 709 626 709 625 709C625 709 624 710 623 710Z"/>
<path d="M680,719C679 719 677 718 676 717C675 716 675 714 675 712C675 711 675 709 676 708C676 707 679 707 680 707C681 707 683 707 684 708C685 709 686 711 686 712C686 713 684 714 684 715C683 717 682 719 680 719Z"/>
<path d="M803,650C802 650 801 648 801 647C800 646 800 644 800 644C801 643 803 642 804 642C805 642 806 642 808 643C809 643 810 645 811 646C811 647 810 648 810 649C809 650 808 652 807 652C806 652 804 651 803 650Z"/>
<path d="M785,674C783 674 780 673 779 671C778 669 780 664 781 662C783 660 786 659 788 658C789 658 791 659 792 660C793 661 794 661 795 663C796 664 797 668 796 669C796 671 793 673 791 674C789 675 787 675 785 674Z"/>
<path d="M639,714C638 714 638 713 638 712C638 712 638 712 638 711C638 710 637 709 637 708C638 707 640 706 641 706C641 706 642 707 643 708C643 709 644 711 643 712C643 713 642 715 641 715C640 716 639 715 639 714Z"/>
<path d="M610,665C609 666 607 665 606 665C605 664 604 664 603 663C603 662 603 660 604 660C605 659 607 659 608 659C609 659 609 658 610 658C611 658 613 658 614 659C614 660 613 662 613 663C612 664 611 665 610 665Z"/>
<path d="M762,642C762 644 758 645 757 645C756 645 755 644 754 644C753 644 752 645 751 644C750 644 750 642 750 641C750 640 750 639 751 638C752 637 753 636 755 636C756 635 758 636 759 637C761 638 763 641 762 642Z"/>
<path d="M718,687C717 689 717 691 715 692C713 694 709 695 707 695C706 694 705 689 705 687C705 684 707 683 708 681C709 680 710 680 712 679C713 679 714 678 716 679C717 679 720 680 721 681C721 683 719 685 718 687Z"/>
<path d="M790,606C788 605 787 602 787 600C788 599 791 596 793 595C795 594 798 594 799 595C801 595 804 595 805 596C806 597 806 599 805 601C804 602 801 604 800 605C798 605 797 606 795 606C794 606 791 607 790 606Z"/>
<path d="M783,799C781 799 779 800 777 800C775 799 771 797 771 796C770 794 773 791 775 789C777 788 779 787 781 787C783 787 785 787 787 788C788 789 789 791 789 793C789 794 789 796 788 797C787 799 785 798 783 799Z"/>
<path d="M749,761C747 761 745 761 743 759C742 758 741 755 740 752C740 750 741 747 742 745C743 743 745 742 747 742C748 743 750 744 751 745C752 747 752 749 753 751C753 753 753 754 752 756C751 758 750 760 749 761Z"/>
<path d="M773,673C773 674 772 676 772 677C771 677 769 676 768 676C766 676 765 675 764 674C763 673 763 671 763 670C763 669 765 668 766 667C767 666 770 664 771 665C772 665 774 668 775 669C775 670 774 672 773 673Z"/>
<path d="M724,713C723 714 721 716 720 716C718 717 715 717 715 716C714 715 715 712 715 710C716 709 716 708 717 708C718 707 719 707 719 707C720 707 720 707 721 707C722 708 724 708 725 708C725 709 725 712 724 713Z"/>
<path d="M743,628C742 629 739 630 738 630C737 630 736 628 735 627C734 626 732 626 732 625C732 624 733 622 734 621C735 620 736 620 737 620C738 620 740 619 741 619C742 620 743 622 744 623C744 625 744 627 743 628Z"/>
<path d="M595,693C594 694 592 695 590 695C588 695 586 696 585 696C584 695 582 692 583 691C583 689 586 688 587 687C588 686 589 685 591 685C592 685 593 685 594 686C595 686 596 687 596 689C596 690 596 692 595 693Z"/>
<path d="M472,675C471 676 470 678 469 679C468 680 466 680 465 680C464 680 463 678 463 676C462 675 462 672 463 671C464 669 466 668 467 668C468 668 469 670 470 671C470 672 470 672 471 673C471 673 472 674 472 675Z"/>
<path d="M699,648C698 649 698 650 697 650C697 651 696 652 695 652C694 652 692 651 692 650C691 649 691 647 692 646C692 645 693 644 694 643C695 642 697 642 698 643C698 643 699 645 699 646C699 647 699 648 699 648Z"/>
<path d="M746,695C745 693 745 690 746 688C747 687 750 684 753 684C755 683 759 683 761 684C763 684 765 687 765 688C765 690 764 692 763 694C762 696 760 697 758 698C756 699 753 699 751 698C749 698 747 697 746 695Z"/>
<path d="M766,632C764 633 762 633 760 633C759 632 757 631 756 630C756 629 756 627 757 625C757 624 759 623 760 623C761 622 762 622 764 622C765 622 767 622 768 623C769 624 770 626 770 628C770 629 768 631 766 632Z"/>
<path d="M659,703C659 702 660 701 661 700C661 699 661 699 661 698C662 697 664 695 665 695C666 696 667 698 667 699C668 700 667 701 667 702C667 703 666 704 665 705C664 705 663 705 662 705C661 705 659 704 659 703Z"/>
<path d="M611,694C611 693 610 692 611 691C611 690 612 689 613 689C614 688 615 688 615 688C616 688 617 688 618 689C619 689 621 690 621 692C621 693 619 695 618 696C617 696 615 695 614 695C613 695 612 695 611 694Z"/>
<path d="M672,734C671 734 670 733 670 732C669 732 668 731 668 729C667 728 668 726 669 725C670 724 673 724 674 724C676 725 678 726 679 727C680 728 679 731 678 732C678 733 676 734 675 734C674 735 673 735 672 734Z"/>
<path d="M680,660C680 661 679 664 678 665C676 665 673 665 672 664C670 664 669 662 669 660C668 659 669 658 669 657C669 657 669 656 670 655C671 654 673 652 674 652C676 652 678 654 679 655C680 657 680 658 680 660Z"/>
<path d="M815,831C813 831 812 830 812 829C811 828 812 826 812 824C813 823 814 822 815 821C816 820 817 820 818 820C818 821 818 822 819 823C819 824 820 825 819 826C819 828 819 830 818 831C817 832 816 832 815 831Z"/>
<path d="M496,679C495 680 493 681 492 681C491 681 489 680 489 679C489 678 489 677 490 676C490 675 491 675 491 674C492 674 493 673 493 673C494 672 496 672 497 672C498 673 499 674 499 676C499 677 497 679 496 679Z"/>
<path d="M830,594C830 593 829 593 829 592C829 591 830 589 832 589C833 588 835 588 837 588C838 588 839 590 839 591C839 592 838 594 838 595C837 596 836 597 834 597C833 598 831 597 831 596C830 596 831 595 830 594Z"/>
<path d="M707,664C707 662 708 661 709 659C709 658 710 656 712 655C713 655 716 656 717 657C719 657 720 659 720 660C721 661 721 664 720 665C719 666 716 666 715 667C713 667 711 668 710 667C708 667 707 665 707 664Z"/>
<path d="M547,680C547 679 547 678 548 677C548 675 550 674 551 673C553 673 556 671 557 672C558 672 560 674 560 675C560 677 558 678 557 679C556 680 556 681 554 681C553 682 552 682 551 682C549 682 548 681 547 680Z"/>
<path d="M771,721C770 719 769 718 769 716C769 714 769 710 771 709C773 708 777 708 779 709C781 710 782 711 783 713C784 715 784 717 784 719C784 721 783 724 781 725C780 727 776 728 774 727C772 726 772 723 771 721Z"/>
<path d="M328,665C327 665 326 663 326 662C326 661 326 660 327 659C327 658 328 657 329 656C330 656 331 655 332 655C333 655 334 657 334 658C334 659 334 661 334 662C333 663 332 665 331 665C330 666 329 666 328 665Z"/>
<path d="M693,680C691 681 689 681 687 681C686 681 685 679 684 678C684 677 683 675 684 674C684 673 685 671 687 670C688 669 690 669 691 669C693 670 695 670 696 671C697 672 697 674 697 676C696 677 695 679 693 680Z"/>
<path d="M592,673C591 672 591 670 592 669C592 668 594 667 595 667C596 666 598 667 599 668C600 669 600 671 599 673C599 674 599 675 598 676C598 677 597 678 596 678C595 678 595 676 594 676C593 675 592 674 592 673Z"/>
<path d="M789,637C787 636 784 634 783 632C783 630 783 628 784 626C784 624 786 622 788 622C790 621 794 621 796 622C798 623 800 627 800 628C800 630 798 632 797 633C796 634 796 635 794 635C793 636 791 637 789 637Z"/>
<path d="M781,772C781 773 779 773 778 774C777 774 777 776 776 776C775 776 773 776 772 775C771 774 771 772 771 770C771 769 772 766 773 766C774 765 776 766 777 766C779 766 780 767 781 767C781 768 781 771 781 772Z"/>
<path d="M727,645C726 645 724 643 725 641C725 640 727 637 728 636C730 635 732 634 734 634C736 635 737 636 738 637C738 638 739 640 738 641C738 642 737 644 735 645C734 646 733 646 731 646C730 646 728 646 727 645Z"/>
<path d="M408,675C407 675 405 675 405 674C404 674 404 672 404 672C404 671 404 670 405 669C406 669 407 669 408 669C409 669 410 669 411 670C411 670 413 671 413 671C413 672 412 673 412 674C411 674 410 675 408 675Z"/>
<path d="M809,682C807 680 807 677 807 675C806 673 806 671 807 669C808 668 811 667 813 667C815 667 818 667 819 668C821 669 823 672 823 674C824 676 822 678 821 680C820 682 819 685 817 685C815 686 811 684 809 682Z"/>
<path d="M769,641C768 639 767 637 767 636C768 634 770 632 772 632C773 632 775 635 776 635C777 636 778 636 779 637C779 638 780 639 780 640C780 642 778 643 777 644C776 645 773 646 772 645C770 645 770 642 769 641Z"/>
<path d="M841,620C840 621 839 622 838 622C837 623 835 623 834 622C834 622 833 620 833 619C833 618 833 617 833 616C834 615 835 613 836 613C837 612 839 613 840 613C841 614 843 614 843 616C843 617 842 619 841 620Z"/>
<path d="M353,666C352 665 352 664 352 664C352 663 353 662 353 662C354 662 355 662 356 662C357 663 358 663 358 664C359 664 359 666 358 667C358 667 357 668 356 668C355 668 354 668 354 668C353 668 353 667 353 666Z"/>
<path d="M572,687C572 688 572 689 572 690C571 690 570 691 570 691C569 691 568 690 568 690C567 689 566 688 565 687C565 685 566 683 567 682C568 681 569 681 570 682C571 682 572 683 573 683C573 684 573 686 572 687Z"/>
<path d="M519,683C519 682 519 680 519 680C520 679 521 678 522 678C522 678 524 677 524 678C525 678 526 679 527 680C527 681 526 682 526 683C526 684 525 684 524 685C524 685 523 686 522 685C521 685 520 684 519 683Z"/>
<path d="M639,702C638 702 637 701 636 700C636 699 636 698 636 697C636 695 637 693 638 693C639 692 641 693 642 694C643 695 644 696 644 697C644 698 644 700 644 700C644 701 642 702 641 702C640 702 639 702 639 702Z"/>
<path d="M766,616C765 614 767 611 768 609C769 607 771 605 772 605C774 604 776 605 778 606C779 607 780 608 781 609C782 610 784 613 784 614C783 616 781 618 779 619C777 620 774 620 772 620C770 619 767 617 766 616Z"/>
<path d="M793,689C792 688 789 688 788 687C787 685 788 682 789 681C790 679 792 678 794 678C796 677 798 678 799 678C800 679 801 681 802 682C803 684 804 687 803 688C803 690 799 691 798 691C796 691 795 690 793 689Z"/>
<path d="M806,753C805 752 804 751 804 749C804 748 804 745 805 745C806 744 808 746 809 747C810 747 811 748 812 749C813 750 814 751 814 752C814 753 813 755 813 755C812 756 810 757 809 756C808 756 806 754 806 753Z"/>
<path d="M814,609C813 607 813 604 814 602C815 600 818 597 820 597C822 597 825 599 826 600C828 602 829 604 829 606C829 607 828 609 826 610C825 611 824 611 823 611C821 612 820 613 818 612C817 612 815 610 814 609Z"/>
<path d="M712,648C711 647 712 644 713 643C714 642 714 642 715 641C716 641 717 640 718 639C719 639 721 639 722 640C722 640 723 642 723 644C723 645 721 647 720 648C719 648 717 649 715 649C714 649 712 648 712 648Z"/>
<path d="M822,845C821 846 820 847 819 847C819 847 818 846 817 845C817 844 816 844 816 843C816 842 816 842 816 841C816 840 817 840 818 840C818 840 820 840 820 841C821 841 821 842 821 843C822 844 822 845 822 845Z"/>
<path d="M698,638C698 637 698 636 698 635C698 634 699 633 700 633C700 632 701 632 702 632C703 632 704 631 705 632C705 632 706 633 706 634C706 635 705 637 704 638C704 639 702 639 701 639C700 639 699 638 698 638Z"/>
<path d="M295,663C294 663 294 662 293 662C293 661 293 660 292 660C292 659 292 658 293 657C294 657 295 656 296 656C297 656 297 657 298 658C298 659 298 659 298 660C298 661 299 662 298 663C298 663 296 664 295 663Z"/>
<path d="M639,665C638 666 637 666 637 666C636 666 635 666 635 665C634 664 634 663 635 663C635 662 636 661 637 660C638 660 639 659 640 659C641 659 643 660 643 661C643 662 642 663 641 664C640 664 640 665 639 665Z"/>
<path d="M570,674C569 674 568 674 567 673C567 673 566 671 566 670C566 670 567 669 568 668C569 668 569 667 570 666C571 666 572 666 573 667C574 668 574 669 574 670C574 671 574 672 573 672C572 673 571 674 570 674Z"/>
<path d="M679,700C679 701 677 702 676 702C675 701 674 699 674 697C673 696 674 694 674 693C675 692 676 692 677 692C677 692 678 693 679 693C680 694 681 694 681 695C682 696 681 697 681 698C681 699 680 700 679 700Z"/>
<path d="M822,658C820 658 818 658 816 657C815 656 815 653 815 651C816 650 817 648 818 647C819 646 821 643 822 643C824 643 825 646 827 647C828 648 829 650 829 652C830 654 829 657 828 658C826 659 824 658 822 658Z"/>
<path d="M744,738C742 738 740 737 739 735C738 734 737 733 737 731C737 730 737 728 738 727C739 726 743 724 745 725C747 725 750 726 751 728C753 729 753 731 753 733C753 734 752 736 750 737C749 738 746 739 744 738Z"/>
<path d="M701,706C701 705 702 703 703 701C703 700 703 699 704 698C704 697 706 695 707 695C708 695 710 695 711 696C712 697 714 698 714 699C714 701 712 704 711 705C709 706 707 707 705 707C704 708 701 707 701 706Z"/>
<path d="M716,750C715 749 714 747 713 746C713 744 714 741 715 739C716 737 718 734 719 733C721 733 723 734 725 735C726 736 726 738 727 740C727 742 728 745 727 746C726 748 723 750 721 750C720 751 717 751 716 750Z"/>
<path d="M656,679C656 680 656 682 656 683C655 684 653 685 652 685C650 685 649 683 648 682C647 681 647 680 648 679C648 678 649 677 650 677C651 676 651 676 652 676C653 676 654 676 655 677C655 677 656 678 656 679Z"/>
<path d="M650,665C649 665 649 664 648 663C648 662 648 661 648 660C649 660 649 659 650 659C651 659 652 658 652 658C653 658 654 659 655 660C655 660 655 662 654 663C654 663 653 664 653 665C652 665 651 665 650 665Z"/>
<path d="M635,684C634 683 634 682 634 682C634 681 634 680 634 680C635 679 636 679 636 679C637 679 638 679 638 680C639 680 640 681 640 682C640 682 640 683 639 684C639 684 638 684 637 684C637 684 635 684 635 684Z"/>
<path d="M656,710C655 712 654 712 653 713C653 713 652 713 651 713C650 713 649 712 649 712C649 711 649 710 649 709C649 708 649 707 650 706C651 705 652 704 653 704C654 704 655 706 656 707C656 708 656 709 656 710Z"/>
<path d="M802,832C801 832 801 833 800 833C799 832 797 833 797 832C796 831 796 828 796 827C797 826 798 824 799 824C801 824 803 823 804 824C805 825 806 827 806 829C806 830 805 831 804 832C803 832 803 832 802 832Z"/>
<path d="M793,734C793 732 793 731 793 730C794 729 796 728 797 728C798 727 799 727 800 727C802 727 804 727 804 728C805 729 804 731 804 732C803 734 803 736 802 737C800 738 797 738 795 738C794 737 794 735 793 734Z"/>
<path d="M675,678C674 679 672 679 671 679C669 680 668 679 667 678C666 678 665 677 664 676C663 675 662 674 663 673C663 671 664 670 665 669C667 669 669 668 671 669C672 670 675 671 675 673C676 674 676 677 675 678Z"/>
<path d="M770,695C768 694 768 691 768 689C768 687 770 684 771 683C773 681 775 680 777 680C779 679 781 680 781 681C782 683 782 685 782 686C782 687 781 689 780 690C779 692 778 694 776 695C774 695 771 696 770 695Z"/>
<path d="M745,714C743 715 741 715 739 715C737 715 734 715 734 713C733 712 734 710 735 708C735 707 736 705 737 704C738 702 741 700 742 700C744 699 746 701 747 702C749 704 750 706 750 708C749 710 747 713 745 714Z"/>
<path d="M625,698C625 698 625 697 625 696C626 696 627 696 627 696C628 696 628 696 629 696C630 696 631 697 631 697C631 698 631 700 631 700C630 701 629 701 628 701C628 700 627 700 627 700C626 699 625 699 625 698Z"/>
<path d="M722,627C721 627 719 627 718 626C718 626 717 624 717 623C717 622 718 621 719 620C719 619 720 617 722 617C723 616 726 617 727 618C728 619 728 622 727 623C727 625 725 626 724 626C723 627 723 627 722 627Z"/>
<path d="M446,676C446 675 446 674 447 673C447 673 448 672 449 672C450 671 451 672 452 672C453 672 454 673 454 673C455 674 454 675 454 676C453 677 452 678 451 678C450 679 448 679 448 679C447 679 446 677 446 676Z"/>
<path d="M428,676C427 676 426 675 426 674C426 673 426 672 427 671C427 670 428 669 429 669C431 669 432 669 433 669C434 670 436 672 436 673C436 674 435 676 434 676C433 677 432 676 431 676C430 676 429 677 428 676Z"/>
<path d="M371,661C371 660 371 659 371 658C372 657 372 655 373 655C374 654 376 654 377 655C378 655 378 657 378 658C379 660 380 661 380 662C379 663 377 665 376 665C375 665 374 664 373 663C372 662 371 661 371 661Z"/>
<path d="M627,666C626 666 625 666 624 665C624 664 624 663 624 662C624 661 623 660 623 659C623 658 625 657 625 657C626 657 627 658 628 659C629 660 630 661 630 662C630 663 629 664 629 665C628 666 627 666 627 666Z"/>
<path d="M808,796C807 795 807 794 807 792C807 791 806 790 807 789C808 788 809 787 810 787C812 788 813 789 814 790C815 791 816 793 816 794C816 795 816 796 815 797C814 798 813 799 812 798C811 798 809 797 808 796Z"/>
<path d="M649,725C648 725 648 725 647 724C646 723 646 722 646 722C646 721 646 720 647 719C647 718 648 717 649 717C650 716 651 718 652 718C652 719 652 720 652 721C652 722 653 724 652 724C652 725 650 725 649 725Z"/>
<path d="M727,684C725 683 723 681 722 679C722 678 724 676 725 675C726 674 727 674 728 673C730 673 732 672 734 673C735 674 736 676 736 678C737 679 736 681 736 682C735 683 734 685 733 685C731 686 729 685 727 684Z"/>
<path d="M611,679C610 679 609 679 608 678C608 678 608 677 608 676C608 675 608 675 608 674C608 674 609 673 610 673C610 673 612 672 612 673C613 673 614 674 614 675C614 675 613 676 613 677C612 677 612 678 611 679Z"/>
<path d="M528,666C528 665 529 664 530 663C531 663 533 663 534 663C535 664 535 664 535 665C536 665 537 665 537 666C537 667 537 667 537 668C536 669 535 670 534 670C533 671 530 670 529 670C528 669 528 667 528 666Z"/>
<path d="M766,735C765 736 765 736 764 736C762 736 760 735 760 735C759 734 760 732 760 730C761 729 762 727 763 726C765 726 768 725 769 725C770 726 771 729 771 731C771 732 769 733 769 734C768 735 767 735 766 735Z"/>
<path d="M806,814C805 814 804 812 804 811C804 809 804 808 804 806C805 805 807 805 808 805C809 805 810 806 811 807C811 808 812 808 813 809C813 809 813 811 812 812C812 813 811 813 810 814C809 814 807 815 806 814Z"/>
<path d="M556,697C556 696 556 695 556 694C557 693 558 693 559 692C560 692 561 692 562 692C562 693 563 693 563 694C564 694 563 695 563 695C562 696 562 697 562 698C561 698 559 699 559 699C558 699 557 698 556 697Z"/>
<path d="M683,648C682 648 681 648 680 647C679 646 678 645 678 643C678 642 679 640 680 639C681 638 682 638 683 638C684 638 685 640 686 641C686 641 686 643 686 643C686 644 686 645 685 646C685 647 684 648 683 648Z"/>
<path d="M692,690C692 689 693 687 693 686C694 685 694 683 695 683C696 683 698 684 699 685C699 685 700 687 700 688C700 689 701 691 700 692C700 693 699 693 698 694C697 694 696 694 695 694C694 693 693 691 692 690Z"/>
<path d="M609,704C608 703 609 702 609 702C609 701 610 701 611 701C612 701 613 700 613 700C614 701 614 702 614 702C615 703 614 704 614 704C613 705 613 705 612 706C611 706 611 705 610 705C610 704 609 704 609 704Z"/>
<path d="M543,694C542 695 541 695 540 695C539 695 538 694 538 694C537 693 537 691 538 691C538 690 539 690 540 690C540 689 541 689 541 689C542 689 544 689 544 689C545 690 544 692 544 692C544 693 543 694 543 694Z"/>
<path d="M764,660C763 661 761 661 760 661C758 662 757 663 756 662C754 662 753 661 752 659C752 658 752 654 753 653C754 651 757 649 759 649C760 649 761 652 762 653C763 654 764 654 765 655C765 657 765 659 764 660Z"/>
<path d="M716,722C716 723 715 724 714 725C713 726 712 728 710 728C709 728 707 727 707 725C706 724 707 722 707 721C708 720 709 720 710 719C711 719 711 718 712 718C713 718 715 717 716 718C716 718 716 721 716 722Z"/>
<path d="M831,639C830 639 829 638 828 637C828 636 828 634 829 633C829 632 831 632 832 632C834 631 834 631 836 631C837 631 839 632 839 633C839 634 838 636 837 637C837 638 835 639 834 639C833 639 832 640 831 639Z"/>
<path d="M751,618C750 619 748 619 747 618C746 618 745 616 745 614C745 613 745 612 746 610C747 609 748 607 749 607C750 606 752 607 753 608C755 609 755 611 755 612C756 613 755 615 755 616C754 617 753 618 751 618Z"/>
<path d="M682,740C681 739 680 737 681 736C681 734 682 734 683 733C684 732 685 730 686 730C687 730 688 732 689 733C689 734 689 735 689 736C689 737 690 738 689 739C689 740 688 741 686 741C685 741 683 741 682 740Z"/>
<path d="M504,669C504 668 505 667 506 666C507 665 508 665 509 664C511 664 512 664 513 665C514 665 515 666 515 666C515 667 516 668 515 669C515 671 513 672 512 673C510 673 507 674 506 673C505 672 504 671 504 669Z"/>
<path d="M577,700C576 700 575 700 575 699C574 699 574 698 574 697C574 697 574 696 574 695C575 695 576 694 577 694C577 694 579 694 580 694C581 695 581 696 581 697C581 697 581 699 580 699C579 700 578 700 577 700Z"/>
<path d="M697,725C695 725 693 725 692 724C691 723 690 722 690 721C689 720 691 719 691 718C692 717 692 716 693 716C694 715 696 714 698 715C699 715 700 716 701 717C702 718 702 720 702 721C701 723 698 724 697 725Z"/>
<path d="M579,680C578 679 577 678 578 677C578 676 578 675 579 674C580 673 581 673 582 673C583 673 584 673 585 674C585 674 586 675 586 676C586 677 585 679 585 680C584 680 582 681 581 681C580 681 579 680 579 680Z"/>
<path d="M693,661C692 662 691 662 690 662C689 662 687 663 686 662C685 662 684 660 684 659C684 658 685 657 685 656C686 656 686 655 687 655C688 655 690 655 691 656C692 657 693 658 694 659C694 660 693 661 693 661Z"/>
<path d="M601,685C601 686 599 686 599 685C598 685 597 684 598 683C598 683 598 682 599 682C599 681 600 681 601 681C602 681 602 681 603 682C603 682 603 682 603 683C603 683 603 684 603 684C603 685 602 685 601 685Z"/>
<path d="M663,690C662 689 663 688 664 687C665 687 666 686 667 686C668 686 669 686 670 687C670 687 670 688 670 689C671 690 670 691 670 692C669 692 668 693 667 693C666 693 665 692 665 692C664 691 663 690 663 690Z"/>
<path d="M661,722C660 721 659 720 659 719C658 718 658 716 658 715C659 714 660 713 661 712C662 712 664 712 665 713C666 713 667 714 668 715C668 716 669 718 668 719C668 720 666 721 665 722C664 722 663 722 661 722Z"/>
<path d="M815,596C814 596 812 595 811 595C810 594 810 593 810 592C810 591 811 591 812 590C812 589 813 587 814 587C815 587 817 588 818 588C819 589 820 590 820 591C820 592 821 594 820 595C819 595 816 596 815 596Z"/>
<path d="M802,843C802 842 803 841 803 841C804 840 804 838 805 838C806 838 808 838 808 839C809 839 810 840 810 841C810 842 810 843 810 843C809 844 808 844 807 845C806 845 805 845 804 845C803 844 803 844 802 843Z"/>
<path d="M388,662C388 661 389 660 390 659C390 658 391 656 392 656C393 655 396 655 397 656C398 657 399 658 399 659C399 661 398 662 397 663C397 664 395 664 394 664C393 665 391 665 390 665C389 665 388 663 388 662Z"/>
<path d="M822,731C822 733 820 736 818 737C816 737 813 736 812 735C810 734 809 732 809 730C809 729 809 727 810 726C811 725 813 724 814 724C815 724 816 725 816 725C817 726 819 725 820 726C821 727 822 730 822 731Z"/>
<path d="M811,619C811 620 809 622 808 623C807 623 804 622 803 622C802 621 802 619 801 617C801 616 801 615 801 614C801 613 802 612 803 612C804 612 806 612 807 613C808 613 810 614 810 615C811 616 811 618 811 619Z"/>
<path d="M726,727C724 727 723 727 722 727C721 726 719 724 719 723C719 722 721 721 723 720C724 719 725 719 727 718C728 718 732 718 733 719C734 720 733 723 733 725C732 726 731 727 729 728C728 728 727 728 726 727Z"/>
<path d="M663,649C663 650 662 651 661 651C661 651 660 651 659 651C659 651 658 651 657 650C657 649 656 647 657 647C657 646 659 645 659 645C660 644 661 645 662 645C662 646 663 646 663 647C663 648 663 649 663 649Z"/>
<path d="M845,607C845 607 844 607 843 607C842 607 841 607 841 606C840 605 840 604 840 603C840 601 840 600 841 599C842 598 844 598 845 599C846 599 847 601 848 602C848 603 848 604 847 605C847 606 846 606 845 607Z"/>
<path d="M588,665C588 666 587 667 586 667C585 667 584 666 583 665C582 664 581 662 581 661C581 660 582 659 583 659C583 658 585 659 585 659C586 659 587 660 588 661C588 661 588 662 588 663C588 664 589 664 588 665Z"/>
</g>
<path d="M286,622 C313.3,621.5 404.3,620.5 450.0,619.0 C495.7,617.5 530.0,616.5 560.0,613.0 C590.0,609.5 606.7,604.0 630.0,598.0 C653.3,592.0 676.7,585.2 700.0,577.0 C723.3,568.8 746.7,559.2 770.0,549.0 C793.3,538.8 816.7,526.2 840.0,516.0 C863.3,505.8 890.7,495.0 910.0,488.0 C929.3,481.0 946.3,475.7 956.0,474.0 C965.7,472.3 965.3,475.7 968.0,478.0 C970.7,480.3 972.3,483.5 972.0,488.0 C971.7,492.5 968.5,500.0 966.0,505.0 C963.5,510.0 962.5,510.0 957.0,518.0 C951.5,526.0 942.0,539.3 933.0,553.0 C924.0,566.7 911.5,583.3 903.0,600.0 C894.5,616.7 888.0,636.7 882.0,653.0 C876.0,669.3 870.5,683.2 867.0,698.0 C863.5,712.8 862.2,728.7 861.0,742.0 C859.8,755.3 859.5,766.2 860.0,778.0 C860.5,789.8 862.5,801.8 864.0,813.0 C865.5,824.2 865.7,830.2 869.0,845.0 C872.3,859.8 878.5,885.0 884.0,902.0 C889.5,919.0 897.8,935.5 902.0,947.0 C906.2,958.5 908.8,964.8 909.0,971.0 C909.2,977.2 906.2,982.2 903.0,984.0 C899.8,985.8 897.5,986.7 890.0,982.0 C882.5,977.3 870.8,967.5 858.0,956.0 C845.2,944.5 829.3,927.8 813.0,913.0 C796.7,898.2 777.7,881.5 760.0,867.0 C742.3,852.5 724.8,838.5 707.0,826.0 C689.2,813.5 677.5,805.3 653.0,792.0 C628.5,778.7 587.2,757.8 560.0,746.0 C532.8,734.2 513.3,728.3 490.0,721.0 C466.7,713.7 443.3,707.2 420.0,702.0 C396.7,696.8 372.3,693.0 350.0,690.0 C327.7,687.0 296.7,685.0 286.0,684.0" fill="none" stroke="#6b5545" stroke-width="3.5"/>
</g>
<path d="M1133.0,479.0 C1152.8,477.8 1161.5,478.3 1186.0,485.0 C1210.5,491.7 1248.8,512.0 1280.0,519.0 C1311.2,526.0 1350.3,523.5 1373.0,527.0 C1395.7,530.5 1403.5,533.3 1416.0,540.0 C1428.5,546.7 1441.2,556.8 1448.0,567.0 C1454.8,577.2 1456.3,590.0 1457.0,601.0 C1457.7,612.0 1455.7,620.5 1452.0,633.0 C1448.3,645.5 1438.0,665.0 1435.0,676.0 C1432.0,687.0 1432.2,690.0 1434.0,699.0 C1435.8,708.0 1440.3,718.5 1446.0,730.0 C1451.7,741.5 1461.8,753.0 1468.0,768.0 C1474.2,783.0 1479.8,805.3 1483.0,820.0 C1486.2,834.7 1487.5,842.7 1487.0,856.0 C1486.5,869.3 1485.2,885.7 1480.0,900.0 C1474.8,914.3 1465.7,929.3 1456.0,942.0 C1446.3,954.7 1433.2,966.7 1422.0,976.0 C1410.8,985.3 1399.3,992.7 1389.0,998.0 C1378.7,1003.3 1370.0,1006.3 1360.0,1008.0 C1350.0,1009.7 1340.8,1005.7 1329.0,1008.0 C1317.2,1010.3 1303.2,1017.0 1289.0,1022.0 C1274.8,1027.0 1263.7,1033.5 1244.0,1038.0 C1224.3,1042.5 1194.3,1048.3 1171.0,1049.0 C1147.7,1049.7 1126.2,1046.8 1104.0,1042.0 C1081.8,1037.2 1056.5,1028.8 1038.0,1020.0 C1019.5,1011.2 1007.8,1001.7 993.0,989.0 C978.2,976.3 962.3,961.0 949.0,944.0 C935.7,927.0 923.0,904.3 913.0,887.0 C903.0,869.7 894.0,856.2 889.0,840.0 C884.0,823.8 884.2,805.8 883.0,790.0 C881.8,774.2 881.5,760.3 882.0,745.0 C882.5,729.7 882.8,713.3 886.0,698.0 C889.2,682.7 894.3,668.8 901.0,653.0 C907.7,637.2 912.0,622.5 926.0,603.0 C940.0,583.5 961.5,554.5 985.0,536.0 C1008.5,517.5 1042.3,501.5 1067.0,492.0 C1091.7,482.5 1113.2,480.2 1133.0,479.0Z" fill="url(#gHum)"/>
<path d="M1133.0,479.0 C1152.8,477.8 1161.5,478.3 1186.0,485.0 C1210.5,491.7 1248.8,512.0 1280.0,519.0 C1311.2,526.0 1350.3,523.5 1373.0,527.0 C1395.7,530.5 1403.5,533.3 1416.0,540.0 C1428.5,546.7 1441.2,556.8 1448.0,567.0 C1454.8,577.2 1456.3,590.0 1457.0,601.0 C1457.7,612.0 1455.7,620.5 1452.0,633.0 C1448.3,645.5 1438.0,665.0 1435.0,676.0 C1432.0,687.0 1432.2,690.0 1434.0,699.0 C1435.8,708.0 1440.3,718.5 1446.0,730.0 C1451.7,741.5 1461.8,753.0 1468.0,768.0 C1474.2,783.0 1479.8,805.3 1483.0,820.0 C1486.2,834.7 1487.5,842.7 1487.0,856.0 C1486.5,869.3 1485.2,885.7 1480.0,900.0 C1474.8,914.3 1465.7,929.3 1456.0,942.0 C1446.3,954.7 1433.2,966.7 1422.0,976.0 C1410.8,985.3 1399.3,992.7 1389.0,998.0 C1378.7,1003.3 1370.0,1006.3 1360.0,1008.0 C1350.0,1009.7 1340.8,1005.7 1329.0,1008.0 C1317.2,1010.3 1303.2,1017.0 1289.0,1022.0 C1274.8,1027.0 1263.7,1033.5 1244.0,1038.0 C1224.3,1042.5 1194.3,1048.3 1171.0,1049.0 C1147.7,1049.7 1126.2,1046.8 1104.0,1042.0 C1081.8,1037.2 1056.5,1028.8 1038.0,1020.0 C1019.5,1011.2 1007.8,1001.7 993.0,989.0 C978.2,976.3 962.3,961.0 949.0,944.0 C935.7,927.0 923.0,904.3 913.0,887.0 C903.0,869.7 894.0,856.2 889.0,840.0 C884.0,823.8 884.2,805.8 883.0,790.0 C881.8,774.2 881.5,760.3 882.0,745.0 C882.5,729.7 882.8,713.3 886.0,698.0 C889.2,682.7 894.3,668.8 901.0,653.0 C907.7,637.2 912.0,622.5 926.0,603.0 C940.0,583.5 961.5,554.5 985.0,536.0 C1008.5,517.5 1042.3,501.5 1067.0,492.0 C1091.7,482.5 1113.2,480.2 1133.0,479.0Z" fill="none" stroke="#6b5545" stroke-width="3.5"/>
<g clip-path="url(#cHum)"><path d="M905.0,713.0 C908.7,684.7 913.3,646.3 925.0,620.0 C936.7,593.7 954.2,572.5 975.0,555.0 C995.8,537.5 1024.0,523.7 1050.0,515.0 C1076.0,506.3 1101.0,503.0 1131.0,503.0 C1161.0,503.0 1199.8,509.3 1230.0,515.0 C1260.2,520.7 1290.2,528.2 1312.0,537.0 C1333.8,545.8 1349.0,552.2 1361.0,568.0 C1373.0,583.8 1377.2,607.8 1384.0,632.0 C1390.8,656.2 1394.5,684.5 1402.0,713.0 C1409.5,741.5 1425.2,777.3 1429.0,803.0 C1432.8,828.7 1429.5,842.8 1425.0,867.0 C1420.5,891.2 1411.0,929.2 1402.0,948.0 C1393.0,966.8 1386.0,968.7 1371.0,980.0 C1356.0,991.3 1332.2,1007.7 1312.0,1016.0 C1291.8,1024.3 1272.7,1027.0 1250.0,1030.0 C1227.3,1033.0 1202.7,1034.8 1176.0,1034.0 C1149.3,1033.2 1116.0,1031.5 1090.0,1025.0 C1064.0,1018.5 1041.7,1009.2 1020.0,995.0 C998.3,980.8 976.7,962.5 960.0,940.0 C943.3,917.5 929.5,885.0 920.0,860.0 C910.5,835.0 905.5,814.5 903.0,790.0 C900.5,765.5 901.3,741.3 905.0,713.0Z" fill="url(#gSp)" filter="url(#b4)"/></g>
<g fill="url(#gH)" stroke="#dcc9a9" stroke-width="1.8" filter="url(#b05)">
<path d="M1114,533C1113 535 1111 535 1109 536C1107 536 1105 538 1103 537C1102 536 1100 533 1100 532C1100 530 1101 528 1102 527C1103 525 1104 522 1106 522C1107 521 1110 521 1112 522C1113 523 1115 526 1115 528C1116 529 1115 532 1114 533Z"/>
<path d="M1377,815C1376 813 1375 810 1377 808C1378 806 1382 804 1385 804C1388 804 1391 805 1393 807C1395 808 1396 810 1396 812C1396 813 1394 815 1392 816C1391 817 1389 818 1387 818C1386 819 1383 819 1382 819C1380 818 1378 817 1377 815Z"/>
<path d="M930,730C929 731 928 732 927 732C925 733 922 733 920 731C919 730 917 728 917 726C916 725 916 722 917 721C918 720 920 719 921 719C923 720 925 721 927 722C928 723 930 724 930 726C931 727 931 729 930 730Z"/>
<path d="M1172,525C1171 526 1171 527 1170 528C1169 529 1166 529 1165 529C1164 528 1162 526 1162 525C1162 524 1162 522 1163 521C1164 520 1164 518 1165 517C1167 517 1169 517 1171 518C1172 519 1173 521 1173 522C1173 523 1172 524 1172 525Z" stroke-width="1.3"/>
<path d="M1221,648C1221 650 1217 654 1215 655C1212 657 1209 657 1207 657C1204 656 1202 655 1200 654C1199 652 1198 649 1199 647C1199 645 1200 643 1201 642C1202 640 1204 639 1207 638C1209 637 1214 637 1216 639C1218 640 1221 645 1221 648Z"/>
<path d="M1405,777C1404 778 1403 778 1402 779C1401 779 1400 780 1399 780C1398 780 1397 778 1397 777C1397 776 1398 775 1398 774C1399 773 1399 771 1400 770C1401 770 1403 769 1404 770C1405 770 1407 772 1407 774C1407 775 1406 776 1405 777Z" stroke-width="1.3"/>
<path d="M1023,682C1022 680 1020 678 1020 676C1020 674 1020 671 1022 669C1023 666 1026 663 1028 662C1031 662 1035 663 1037 664C1039 666 1039 670 1039 673C1039 676 1039 679 1037 681C1036 683 1032 685 1029 685C1027 685 1025 683 1023 682Z"/>
<path d="M1163,627C1163 629 1162 631 1160 632C1159 634 1156 636 1154 636C1152 636 1149 635 1147 633C1145 631 1142 629 1141 626C1141 623 1141 618 1143 616C1146 614 1152 614 1155 615C1158 615 1161 618 1162 620C1163 622 1164 625 1163 627Z"/>
<path d="M913,715C912 714 911 713 911 711C911 710 911 709 911 708C912 707 913 706 915 706C916 706 917 707 918 707C919 708 920 709 920 710C920 712 920 713 919 714C918 714 917 715 916 715C915 716 913 715 913 715Z" stroke-width="1.3"/>
<path d="M1100,856C1097 858 1090 861 1087 860C1083 859 1080 854 1079 851C1078 847 1079 842 1082 839C1084 837 1090 836 1093 835C1097 835 1100 835 1102 836C1105 837 1110 838 1111 840C1111 843 1107 846 1106 849C1104 851 1103 854 1100 856Z"/>
<path d="M1176,1021C1175 1020 1176 1019 1176 1017C1176 1016 1177 1015 1177 1014C1178 1013 1179 1012 1181 1012C1182 1011 1184 1012 1184 1013C1185 1014 1184 1016 1184 1017C1184 1018 1185 1020 1184 1021C1183 1022 1181 1024 1180 1024C1178 1024 1177 1022 1176 1021Z" stroke-width="1.3"/>
<path d="M1359,710C1358 709 1358 708 1358 707C1358 705 1358 704 1359 702C1359 701 1361 700 1362 699C1363 699 1365 698 1366 699C1367 700 1369 701 1369 703C1369 704 1368 707 1367 708C1366 709 1364 710 1363 711C1362 711 1360 710 1359 710Z" stroke-width="1.3"/>
<path d="M1221,866C1218 867 1215 868 1213 867C1210 866 1208 864 1207 861C1206 859 1206 856 1207 853C1207 850 1209 845 1212 843C1214 842 1220 842 1223 843C1227 845 1231 848 1232 851C1233 855 1231 860 1229 862C1228 865 1223 865 1221 866Z"/>
<path d="M1337,612C1336 612 1335 610 1335 609C1336 608 1336 607 1337 606C1338 605 1339 603 1340 603C1341 603 1342 603 1343 604C1343 604 1343 605 1343 606C1344 607 1343 609 1343 610C1342 611 1341 611 1340 612C1339 612 1337 613 1337 612Z" stroke-width="1.3"/>
<path d="M1346,782C1346 784 1343 787 1342 788C1340 789 1338 789 1336 788C1334 788 1332 787 1331 785C1330 784 1331 780 1332 778C1332 776 1334 774 1335 773C1336 772 1339 771 1340 772C1341 772 1342 774 1343 776C1344 777 1346 780 1346 782Z"/>
<path d="M1093,649C1092 651 1089 654 1086 654C1083 655 1077 653 1075 651C1072 649 1071 644 1071 640C1071 637 1073 634 1075 632C1077 631 1080 630 1083 630C1085 630 1088 632 1090 634C1092 636 1093 638 1094 641C1094 643 1094 646 1093 649Z"/>
<path d="M1222,963C1220 964 1217 962 1215 961C1213 960 1208 958 1207 955C1206 953 1207 947 1208 944C1210 942 1214 942 1216 942C1218 943 1220 944 1222 945C1223 947 1224 948 1225 950C1226 953 1227 956 1227 958C1226 960 1224 963 1222 963Z"/>
<path d="M1219,752C1218 750 1220 746 1222 744C1225 742 1229 741 1233 740C1236 740 1242 740 1244 742C1246 743 1248 747 1248 749C1247 751 1244 753 1241 754C1239 756 1237 755 1235 756C1232 756 1230 757 1228 756C1225 755 1220 754 1219 752Z"/>
<path d="M1099,563C1097 563 1094 561 1093 559C1092 557 1093 552 1094 550C1096 548 1100 547 1102 547C1104 547 1106 550 1107 551C1108 552 1108 554 1108 555C1108 556 1108 558 1107 559C1107 560 1106 561 1104 562C1103 562 1101 564 1099 563Z"/>
<path d="M1274,788C1273 788 1271 785 1270 784C1269 782 1268 781 1268 778C1268 776 1267 773 1268 771C1269 769 1272 766 1274 765C1276 765 1281 767 1282 769C1283 771 1281 776 1280 779C1280 781 1279 782 1278 784C1277 785 1275 788 1274 788Z"/>
<path d="M1291,567C1290 566 1290 565 1291 564C1291 563 1293 562 1294 562C1295 562 1296 562 1297 562C1298 562 1299 563 1300 563C1301 564 1302 566 1301 567C1300 568 1298 569 1297 569C1295 569 1294 568 1293 568C1292 567 1291 567 1291 567Z" stroke-width="1.3"/>
<path d="M1228,790C1228 793 1224 795 1221 796C1218 797 1214 796 1209 795C1205 794 1197 792 1195 789C1192 786 1193 779 1195 776C1197 774 1203 773 1207 773C1211 773 1215 774 1218 776C1220 777 1222 780 1224 782C1226 784 1229 788 1228 790Z"/>
<path d="M1157,807C1155 802 1157 795 1159 792C1161 790 1166 790 1168 790C1171 790 1172 792 1175 793C1177 794 1180 793 1183 796C1185 799 1189 806 1189 810C1189 814 1185 821 1181 822C1178 824 1171 823 1167 820C1163 817 1158 811 1157 807Z"/>
<path d="M1052,564C1052 565 1052 567 1051 568C1050 569 1048 571 1046 571C1045 571 1042 569 1041 568C1040 567 1042 564 1042 563C1043 561 1044 561 1044 560C1045 559 1047 557 1048 557C1049 557 1050 559 1051 560C1052 561 1052 562 1052 564Z" stroke-width="1.3"/>
<path d="M1227,648C1226 646 1226 642 1227 639C1227 637 1228 636 1229 634C1231 632 1231 629 1233 628C1235 626 1240 624 1242 625C1244 626 1246 631 1246 634C1246 637 1245 640 1244 643C1242 646 1239 650 1236 651C1234 652 1229 650 1227 648Z"/>
<path d="M950,817C950 815 951 813 952 812C953 811 955 810 957 810C958 810 959 811 960 812C961 813 962 813 963 814C964 815 966 817 965 818C965 819 962 821 960 821C958 822 956 821 954 820C952 819 951 818 950 817Z"/>
<path d="M1039,958C1039 959 1037 962 1036 962C1034 962 1032 960 1030 959C1029 957 1029 955 1029 953C1029 952 1029 950 1030 949C1031 948 1033 947 1035 947C1036 947 1039 949 1039 950C1040 951 1039 953 1039 954C1039 956 1040 957 1039 958Z"/>
<path d="M932,687C931 688 929 690 927 691C926 691 923 691 922 690C921 689 920 687 920 685C920 683 921 680 923 678C924 676 927 673 929 672C932 672 936 672 937 674C938 675 936 680 936 682C935 684 934 686 932 687Z"/>
<path d="M1030,908C1027 909 1022 908 1020 907C1018 906 1017 902 1017 900C1017 898 1019 896 1020 894C1021 893 1023 890 1025 890C1027 889 1030 889 1032 890C1034 891 1036 893 1037 895C1038 897 1039 900 1038 903C1037 905 1033 907 1030 908Z"/>
<path d="M1303,649C1303 651 1300 654 1298 655C1296 656 1292 656 1290 655C1288 653 1287 650 1287 648C1287 646 1288 643 1289 641C1290 640 1292 639 1294 639C1296 638 1297 639 1298 639C1300 640 1302 640 1303 642C1304 643 1304 647 1303 649Z"/>
<path d="M956,750C956 748 957 747 957 746C957 745 957 743 958 741C959 740 962 738 964 738C966 739 969 741 970 744C971 746 972 750 971 752C970 754 967 757 965 757C963 758 960 756 959 755C957 754 957 751 956 750Z"/>
<path d="M1157,585C1155 586 1153 587 1151 586C1150 585 1149 582 1149 580C1148 579 1149 576 1150 575C1151 573 1153 572 1155 572C1156 572 1158 573 1159 574C1161 575 1163 576 1163 578C1164 579 1162 581 1161 582C1160 584 1159 585 1157 585Z"/>
<path d="M1100,874C1099 871 1099 868 1100 866C1101 864 1104 862 1106 861C1109 861 1112 861 1114 863C1116 864 1118 867 1118 869C1119 872 1119 875 1118 877C1116 879 1114 882 1112 882C1109 883 1106 881 1104 880C1102 878 1101 876 1100 874Z"/>
<path d="M1011,822C1008 823 1003 825 1001 824C998 823 994 819 994 816C994 813 996 809 999 807C1001 805 1006 803 1009 802C1012 802 1017 804 1019 805C1021 807 1022 811 1022 813C1021 815 1018 817 1016 819C1015 820 1014 821 1011 822Z"/>
<path d="M1331,978C1330 978 1329 978 1328 977C1327 977 1327 976 1327 975C1326 975 1326 974 1326 973C1326 972 1325 970 1326 970C1327 969 1328 968 1329 969C1331 969 1333 970 1333 972C1334 973 1334 975 1334 976C1333 977 1332 978 1331 978Z" stroke-width="1.3"/>
<path d="M1113,743C1113 739 1116 735 1118 732C1120 730 1123 728 1126 727C1130 726 1133 726 1136 727C1140 728 1145 730 1147 733C1148 736 1148 741 1146 745C1144 749 1139 753 1135 754C1130 756 1122 757 1118 755C1115 753 1113 746 1113 743Z"/>
<path d="M1344,893C1344 892 1344 890 1345 890C1346 889 1348 888 1350 888C1351 888 1353 889 1354 889C1355 890 1357 891 1357 892C1357 893 1356 895 1355 896C1354 897 1352 897 1350 897C1349 897 1347 897 1346 897C1345 896 1344 895 1344 893Z" stroke-width="1.3"/>
<path d="M961,619C960 619 958 617 957 616C956 615 955 615 955 614C955 613 954 612 954 611C955 610 956 609 957 608C959 607 961 605 963 606C964 606 966 609 966 610C967 612 967 614 966 616C965 617 963 619 961 619Z"/>
<path d="M1282,960C1281 961 1280 962 1279 963C1277 963 1276 965 1274 965C1273 965 1270 964 1268 963C1267 962 1265 960 1265 958C1264 956 1266 953 1268 952C1269 951 1274 951 1276 951C1278 952 1281 953 1282 955C1283 956 1282 959 1282 960Z"/>
<path d="M1046,778C1045 779 1045 780 1043 781C1042 782 1040 785 1038 785C1036 786 1033 783 1032 782C1031 780 1031 778 1031 776C1031 774 1032 771 1033 770C1035 769 1039 768 1041 769C1043 769 1046 771 1047 773C1048 774 1047 777 1046 778Z"/>
<path d="M1381,710C1379 710 1377 709 1376 708C1376 707 1375 705 1375 704C1375 703 1376 701 1377 700C1377 699 1379 698 1380 698C1382 698 1384 698 1384 699C1385 700 1386 702 1386 704C1386 705 1385 706 1384 707C1383 708 1382 710 1381 710Z" stroke-width="1.3"/>
<path d="M1362,684C1360 685 1359 685 1358 684C1356 684 1354 683 1353 682C1352 680 1351 678 1351 676C1351 674 1352 671 1354 670C1356 669 1359 669 1361 669C1363 670 1365 673 1365 675C1366 677 1366 680 1365 681C1364 683 1363 684 1362 684Z"/>
<path d="M1210,976C1210 978 1209 980 1208 981C1207 982 1205 981 1204 981C1203 981 1203 980 1202 979C1201 978 1199 976 1199 975C1199 974 1201 972 1202 972C1203 971 1204 972 1205 972C1206 972 1207 971 1208 972C1209 972 1210 975 1210 976Z" stroke-width="1.3"/>
<path d="M962,916C962 917 960 918 958 918C957 919 955 918 954 918C952 917 951 916 950 914C949 913 949 911 950 909C951 908 952 907 954 906C955 906 958 906 959 907C960 908 962 909 962 911C963 912 963 914 962 916Z"/>
<path d="M1270,841C1267 841 1265 841 1263 839C1261 837 1258 833 1258 830C1257 827 1258 823 1259 820C1260 818 1263 815 1264 816C1266 816 1268 819 1270 821C1273 822 1277 822 1279 826C1280 829 1282 837 1280 840C1279 843 1273 841 1270 841Z"/>
<path d="M1279,934C1278 936 1276 938 1274 938C1273 938 1271 936 1269 934C1268 933 1267 932 1266 930C1266 928 1266 926 1267 925C1268 924 1271 924 1272 924C1274 924 1277 923 1278 924C1279 925 1280 928 1280 929C1280 931 1279 933 1279 934Z"/>
<path d="M1304,845C1302 845 1299 845 1298 843C1296 842 1294 838 1294 835C1294 832 1294 827 1296 824C1298 822 1303 819 1305 819C1307 820 1310 826 1311 828C1311 831 1310 833 1310 836C1310 838 1310 840 1309 841C1308 843 1306 844 1304 845Z"/>
<path d="M1222,913C1219 914 1214 915 1212 914C1209 912 1207 908 1206 906C1206 903 1208 900 1209 897C1210 895 1212 891 1215 890C1217 889 1222 890 1225 891C1227 892 1229 896 1230 898C1231 901 1231 905 1229 907C1228 909 1225 911 1222 913Z"/>
<path d="M960,847C958 848 958 849 956 849C954 849 950 850 948 848C946 846 943 841 943 838C943 835 947 832 950 831C952 831 956 834 958 835C960 836 961 837 962 839C963 840 964 843 963 844C963 846 961 846 960 847Z"/>
<path d="M1169,682C1168 680 1168 677 1169 675C1171 674 1174 672 1176 671C1178 670 1181 671 1183 672C1184 673 1184 675 1185 677C1185 678 1186 679 1185 681C1184 683 1183 686 1181 687C1179 688 1174 688 1172 687C1170 686 1169 684 1169 682Z"/>
<path d="M1046,802C1044 801 1041 797 1041 794C1041 792 1045 789 1047 788C1049 787 1051 787 1053 787C1055 787 1057 787 1058 788C1059 789 1059 791 1059 792C1059 794 1059 796 1058 797C1057 799 1056 801 1054 802C1052 803 1048 803 1046 802Z"/>
<path d="M1356,831C1355 832 1353 832 1351 832C1349 831 1347 830 1346 829C1344 827 1343 825 1342 823C1342 821 1343 819 1344 818C1345 817 1347 817 1349 817C1351 818 1353 819 1354 821C1356 822 1357 825 1358 826C1358 828 1357 831 1356 831Z"/>
<path d="M1262,746C1259 745 1254 743 1253 740C1252 736 1252 731 1254 727C1256 724 1260 721 1264 721C1267 720 1270 724 1272 726C1274 727 1275 729 1276 731C1277 734 1279 737 1278 739C1277 741 1274 743 1271 744C1269 745 1265 747 1262 746Z"/>
<path d="M1245,572C1244 572 1242 571 1242 570C1241 569 1241 566 1241 565C1242 563 1244 562 1245 562C1246 561 1248 561 1249 562C1250 562 1250 564 1250 565C1250 566 1250 567 1250 568C1249 569 1249 570 1248 571C1247 571 1246 572 1245 572Z" stroke-width="1.3"/>
<path d="M933,789C932 787 933 784 934 782C935 781 938 779 940 779C942 778 945 779 946 780C948 781 949 784 950 786C950 787 949 790 948 791C947 793 945 795 943 795C941 796 939 795 937 794C935 793 933 791 933 789Z"/>
<path d="M996,784C994 785 991 784 989 784C986 783 983 782 982 780C981 778 982 775 983 773C983 772 984 771 985 770C986 768 987 765 989 765C990 765 993 768 995 770C996 771 998 774 999 776C999 779 998 782 996 784Z"/>
<path d="M1156,556C1155 557 1153 558 1151 558C1150 559 1147 559 1146 558C1145 557 1144 555 1144 553C1144 552 1146 551 1147 550C1148 548 1149 547 1150 547C1151 546 1153 546 1155 546C1156 547 1157 549 1157 551C1157 552 1157 555 1156 556Z"/>
<path d="M1249,535C1248 534 1248 531 1249 530C1250 528 1252 527 1253 526C1254 525 1256 526 1257 526C1259 527 1260 527 1261 527C1262 528 1262 530 1262 531C1262 532 1260 534 1258 534C1257 535 1255 537 1254 537C1252 537 1250 536 1249 535Z" stroke-width="1.3"/>
<path d="M1085,826C1085 829 1084 835 1082 837C1079 838 1075 837 1072 836C1069 836 1066 836 1064 834C1062 832 1059 827 1059 824C1059 821 1063 818 1065 816C1068 814 1071 812 1073 812C1076 812 1079 814 1081 816C1083 819 1085 822 1085 826Z"/>
<path d="M1150,997C1150 998 1149 1000 1148 1001C1147 1001 1144 1001 1143 1001C1141 1000 1140 1000 1139 998C1138 997 1136 995 1136 994C1137 993 1139 992 1141 991C1142 991 1144 990 1145 991C1147 991 1149 992 1150 993C1151 994 1151 996 1150 997Z"/>
<path d="M1398,754C1397 754 1396 753 1395 752C1394 751 1395 750 1394 749C1394 748 1394 747 1394 746C1395 745 1397 744 1398 744C1400 744 1403 744 1404 745C1405 746 1407 748 1407 750C1407 751 1405 753 1404 754C1402 755 1400 755 1398 754Z" stroke-width="1.3"/>
<path d="M923,811C923 810 923 809 923 808C924 807 925 806 926 805C928 805 929 805 930 806C931 806 933 807 933 808C933 809 933 811 933 812C932 813 930 814 929 815C928 815 926 815 925 814C924 813 923 812 923 811Z" stroke-width="1.3"/>
<path d="M1426,836C1426 836 1426 838 1425 838C1425 839 1423 839 1422 839C1421 839 1420 838 1420 838C1419 837 1419 836 1419 835C1419 835 1419 834 1420 833C1421 833 1422 833 1423 833C1423 833 1424 833 1425 834C1425 834 1426 835 1426 836Z" stroke-width="1.3"/>
<path d="M1183,848C1182 852 1175 856 1171 857C1167 858 1164 856 1161 854C1158 852 1156 849 1156 846C1156 843 1159 839 1161 836C1163 833 1164 829 1166 827C1169 825 1173 824 1176 826C1179 827 1180 830 1181 834C1182 838 1185 844 1183 848Z"/>
<path d="M1122,1006C1121 1005 1121 1003 1122 1001C1122 1000 1125 999 1126 998C1128 998 1129 998 1131 999C1132 999 1134 999 1135 1000C1135 1002 1135 1004 1134 1005C1133 1006 1131 1006 1130 1007C1128 1007 1127 1007 1126 1007C1125 1007 1123 1007 1122 1006Z" stroke-width="1.3"/>
<path d="M1124,819C1119 819 1113 814 1111 811C1109 808 1111 804 1112 800C1112 797 1112 794 1115 792C1117 789 1121 785 1125 784C1129 784 1136 787 1138 790C1141 793 1140 798 1139 802C1139 805 1139 809 1136 812C1133 815 1128 819 1124 819Z"/>
<path d="M1271,1018C1270 1019 1269 1019 1268 1019C1268 1018 1267 1017 1267 1016C1266 1015 1267 1013 1268 1013C1268 1012 1269 1011 1270 1011C1271 1011 1271 1012 1272 1013C1272 1013 1273 1014 1273 1015C1273 1016 1273 1017 1273 1017C1272 1018 1272 1018 1271 1018Z" stroke-width="1.3"/>
<path d="M1073,520C1072 520 1071 520 1070 520C1069 519 1068 519 1068 519C1068 518 1068 517 1068 517C1068 516 1068 515 1069 515C1069 514 1070 513 1071 513C1072 512 1073 513 1074 514C1074 514 1075 516 1075 517C1075 518 1074 519 1073 520Z" stroke-width="1.3"/>
<path d="M1128,582C1127 584 1124 584 1123 585C1121 585 1119 584 1118 584C1116 583 1115 582 1114 581C1113 580 1113 578 1113 577C1114 576 1116 575 1117 575C1118 575 1119 575 1121 575C1123 575 1126 576 1127 577C1128 578 1128 581 1128 582Z"/>
<path d="M1422,818C1422 820 1420 823 1419 824C1417 824 1413 823 1411 822C1409 820 1407 818 1407 817C1406 815 1408 814 1409 813C1410 811 1410 811 1411 810C1413 810 1415 809 1416 809C1418 810 1418 812 1419 814C1420 815 1422 817 1422 818Z"/>
<path d="M1109,919C1107 919 1106 917 1106 915C1106 914 1107 912 1109 910C1110 909 1112 907 1114 907C1115 907 1118 908 1119 909C1120 910 1121 912 1121 914C1121 916 1119 918 1118 919C1117 920 1115 920 1113 920C1111 920 1110 920 1109 919Z"/>
<path d="M1016,874C1016 877 1017 881 1016 883C1015 886 1010 888 1007 887C1005 887 1001 884 1000 881C998 879 997 874 998 871C999 868 1002 864 1004 862C1006 860 1011 858 1013 859C1015 860 1016 866 1016 868C1017 871 1016 871 1016 874Z"/>
<path d="M1364,869C1362 868 1360 865 1360 863C1359 861 1360 858 1361 857C1362 855 1365 854 1367 854C1369 854 1371 856 1373 857C1374 859 1376 861 1376 863C1376 864 1375 866 1373 867C1372 868 1371 868 1369 869C1368 869 1365 870 1364 869Z"/>
<path d="M1077,997C1076 997 1074 998 1073 997C1072 996 1071 994 1071 992C1071 991 1072 989 1073 988C1074 987 1075 986 1077 987C1078 987 1078 988 1079 989C1080 990 1082 991 1082 992C1082 993 1081 996 1080 996C1079 997 1078 996 1077 997Z" stroke-width="1.3"/>
<path d="M1100,940C1099 942 1099 943 1098 944C1097 945 1096 945 1094 945C1093 945 1090 946 1089 945C1087 943 1085 939 1085 936C1086 934 1089 930 1091 928C1094 927 1097 926 1099 927C1100 928 1102 932 1102 934C1102 936 1101 938 1100 940Z"/>
<path d="M1353,935C1351 934 1349 931 1349 930C1348 928 1349 925 1350 924C1351 924 1353 924 1355 924C1356 924 1358 925 1359 926C1360 927 1361 928 1362 929C1362 931 1363 933 1363 934C1362 935 1361 937 1359 937C1357 937 1354 936 1353 935Z"/>
<path d="M1179,903C1178 905 1177 908 1174 908C1172 909 1168 907 1165 905C1163 903 1160 899 1160 896C1159 893 1160 889 1162 888C1164 886 1167 885 1171 885C1174 885 1179 886 1181 888C1183 890 1184 895 1183 898C1183 900 1181 902 1179 903Z"/>
<path d="M1170,967C1168 967 1165 966 1165 965C1164 964 1164 962 1165 960C1165 959 1166 958 1167 957C1168 957 1170 956 1171 957C1173 957 1175 957 1176 958C1178 959 1179 961 1179 962C1179 963 1176 964 1175 965C1173 966 1172 967 1170 967Z"/>
<path d="M1377,728C1376 727 1375 724 1375 723C1375 721 1377 719 1378 718C1379 717 1380 716 1381 715C1382 715 1384 715 1385 715C1386 716 1386 717 1386 718C1387 719 1387 721 1387 723C1386 725 1384 727 1383 728C1381 729 1378 729 1377 728Z"/>
<path d="M1248,952C1246 952 1243 954 1241 952C1240 951 1237 947 1237 945C1237 942 1240 939 1242 937C1244 936 1246 935 1249 935C1251 935 1254 935 1256 937C1258 939 1259 943 1259 945C1258 948 1255 950 1253 951C1251 952 1250 952 1248 952Z"/>
<path d="M1097,586C1096 588 1095 590 1093 590C1091 590 1087 589 1086 587C1084 586 1084 583 1084 581C1084 579 1086 578 1087 577C1088 576 1088 573 1090 573C1092 572 1096 572 1097 574C1099 575 1099 579 1099 581C1099 583 1098 585 1097 586Z"/>
<path d="M1245,552C1243 552 1241 553 1239 552C1238 552 1235 551 1235 550C1234 548 1234 546 1235 544C1236 543 1239 541 1241 541C1243 541 1245 541 1247 542C1248 542 1248 544 1249 545C1249 546 1248 547 1248 548C1247 549 1246 551 1245 552Z"/>
<path d="M934,866C933 866 931 866 930 866C929 865 928 863 928 862C928 861 929 860 929 859C930 859 931 858 933 857C934 857 936 857 937 857C938 858 939 859 939 860C939 861 938 862 937 863C937 864 936 866 934 866Z" stroke-width="1.3"/>
<path d="M1091,960C1091 962 1089 963 1087 964C1086 964 1083 963 1081 962C1080 962 1079 960 1078 959C1077 957 1076 955 1076 954C1076 952 1077 949 1079 948C1081 947 1085 948 1087 949C1089 950 1091 953 1091 955C1092 956 1092 959 1091 960Z"/>
<path d="M1188,884C1185 884 1182 883 1180 881C1178 879 1177 875 1177 873C1177 870 1179 868 1180 866C1181 864 1182 860 1185 860C1187 859 1191 859 1193 861C1195 863 1197 867 1198 870C1198 873 1198 878 1196 880C1195 882 1191 883 1188 884Z"/>
<path d="M1020,715C1018 714 1016 714 1015 712C1013 710 1011 707 1011 703C1011 699 1014 692 1016 690C1019 687 1025 688 1028 690C1030 691 1031 696 1032 699C1033 703 1034 707 1033 710C1032 713 1029 716 1027 717C1024 718 1022 716 1020 715Z"/>
<path d="M1306,714C1305 713 1304 711 1304 709C1303 707 1304 704 1305 702C1306 701 1309 699 1311 699C1313 698 1316 698 1317 699C1318 700 1318 703 1318 705C1318 707 1317 709 1316 711C1315 712 1314 715 1312 716C1310 716 1308 715 1306 714Z"/>
<path d="M1351,639C1351 638 1352 637 1352 636C1353 635 1354 634 1355 633C1357 632 1360 631 1361 631C1363 632 1365 634 1366 635C1366 637 1365 639 1363 641C1362 642 1360 643 1358 644C1356 644 1353 644 1352 643C1351 643 1351 641 1351 639Z"/>
<path d="M1402,871C1402 872 1400 874 1398 875C1397 876 1395 877 1393 877C1391 877 1388 876 1387 875C1386 874 1387 871 1387 870C1388 868 1390 868 1391 867C1392 866 1392 865 1394 865C1396 864 1399 864 1400 865C1401 866 1402 869 1402 871Z"/>
<path d="M1212,1031C1211 1030 1210 1029 1210 1028C1210 1027 1212 1025 1213 1025C1214 1024 1215 1025 1215 1025C1216 1025 1217 1025 1217 1025C1218 1025 1218 1026 1218 1027C1218 1028 1219 1029 1218 1030C1218 1031 1217 1032 1216 1032C1215 1033 1213 1032 1212 1031Z" stroke-width="1.3"/>
<path d="M1015,664C1013 667 1010 670 1007 671C1005 671 1001 669 1000 667C998 665 998 662 999 659C999 657 1001 654 1003 652C1005 650 1007 649 1010 648C1013 647 1017 647 1019 648C1020 650 1020 654 1020 657C1019 660 1017 662 1015 664Z"/>
<path d="M1305,601C1304 600 1304 598 1304 597C1305 596 1307 595 1308 594C1309 594 1310 595 1311 595C1312 595 1313 594 1314 595C1315 596 1317 597 1317 599C1317 600 1315 603 1313 603C1312 604 1309 604 1308 603C1307 603 1306 602 1305 601Z" stroke-width="1.3"/>
<path d="M1386,758C1386 760 1386 766 1384 768C1382 770 1377 769 1375 768C1373 767 1372 763 1371 760C1371 758 1370 755 1371 753C1372 751 1374 750 1376 749C1377 748 1379 749 1381 749C1382 750 1382 751 1383 753C1384 754 1386 755 1386 758Z"/>
<path d="M1266,890C1263 889 1259 886 1257 884C1256 881 1255 878 1256 876C1257 874 1261 872 1263 872C1266 871 1269 872 1271 873C1273 874 1275 875 1277 877C1278 878 1281 881 1281 883C1281 885 1279 889 1277 890C1274 891 1269 891 1266 890Z"/>
<path d="M1308,774C1306 773 1303 772 1303 769C1302 767 1303 763 1304 761C1306 760 1309 758 1312 758C1314 758 1317 759 1319 761C1320 763 1320 766 1320 768C1320 769 1318 771 1317 772C1316 774 1314 774 1313 775C1311 775 1309 775 1308 774Z"/>
<path d="M1175,594C1173 593 1172 591 1171 589C1170 588 1169 586 1169 585C1169 583 1170 581 1171 580C1172 579 1173 580 1174 580C1176 580 1177 579 1178 580C1179 581 1180 583 1180 585C1180 587 1180 589 1179 590C1178 592 1176 594 1175 594Z" stroke-width="1.3"/>
<path d="M973,599C972 598 970 595 970 594C970 592 972 591 973 590C975 589 976 589 977 589C978 589 980 588 981 588C982 589 983 591 984 592C985 594 986 597 985 599C984 600 981 603 979 603C977 603 974 601 973 599Z"/>
<path d="M984,566C984 567 982 567 981 567C979 567 977 566 976 565C975 564 975 562 975 561C975 560 974 559 974 558C975 557 977 557 977 557C978 557 979 559 980 560C981 561 982 561 983 562C984 563 984 565 984 566Z" stroke-width="1.3"/>
<path d="M931,751C930 750 930 749 930 748C930 746 929 745 929 743C930 741 932 739 934 738C936 738 939 739 941 741C943 743 945 746 945 748C945 751 943 754 941 755C939 757 935 756 934 755C932 755 931 752 931 751Z"/>
<path d="M1330,652C1329 653 1327 657 1325 658C1323 658 1321 656 1318 655C1316 654 1313 652 1312 650C1311 648 1311 643 1312 642C1313 640 1318 639 1320 639C1322 639 1324 641 1325 643C1326 644 1326 645 1326 647C1327 648 1330 650 1330 652Z"/>
<path d="M1004,734C1003 736 1003 738 1001 740C1000 741 998 742 996 741C995 741 994 739 993 737C992 735 991 732 992 730C992 728 995 726 997 725C998 724 1000 724 1002 725C1003 725 1005 727 1005 728C1006 730 1004 732 1004 734Z"/>
<path d="M982,900C980 901 976 901 974 900C973 899 972 897 971 895C971 894 971 891 972 890C973 888 976 887 978 887C980 886 983 887 984 887C986 888 988 889 988 891C989 892 988 894 987 896C986 897 984 899 982 900Z"/>
<path d="M1162,764C1159 762 1159 758 1158 755C1157 752 1155 749 1156 746C1156 744 1160 739 1162 738C1165 737 1169 738 1171 739C1174 741 1176 742 1178 745C1180 748 1183 753 1182 757C1181 761 1177 767 1173 769C1170 770 1164 766 1162 764Z"/>
<path d="M1120,560C1120 558 1120 556 1120 555C1121 554 1122 553 1123 552C1124 552 1125 551 1126 552C1128 552 1130 554 1130 556C1131 557 1131 560 1130 561C1130 562 1128 562 1127 563C1126 563 1125 562 1124 562C1123 561 1121 561 1120 560Z" stroke-width="1.3"/>
<path d="M1288,549C1287 548 1287 546 1288 544C1289 543 1291 542 1293 542C1294 542 1296 543 1297 543C1298 544 1300 544 1300 545C1300 546 1301 548 1300 549C1299 550 1296 551 1295 551C1294 551 1293 551 1292 550C1290 550 1288 550 1288 549Z" stroke-width="1.3"/>
<path d="M1242,890C1240 892 1236 893 1234 891C1232 890 1231 885 1229 882C1228 879 1227 876 1227 873C1228 870 1229 867 1231 865C1233 864 1237 864 1240 865C1242 867 1247 870 1248 874C1249 877 1247 882 1246 884C1245 887 1244 889 1242 890Z"/>
<path d="M979,712C979 714 977 715 975 716C974 717 971 716 970 716C968 716 968 716 965 715C963 714 958 713 957 711C956 709 957 704 959 702C961 700 967 700 970 700C974 701 977 703 979 705C980 707 980 710 979 712Z"/>
<path d="M1037,625C1037 626 1037 629 1036 630C1034 631 1031 631 1029 630C1027 629 1026 627 1025 626C1025 624 1024 622 1025 621C1026 620 1028 621 1029 620C1031 620 1031 619 1032 619C1033 620 1035 620 1036 621C1037 622 1037 623 1037 625Z" stroke-width="1.3"/>
<path d="M1351,972C1350 972 1350 971 1349 970C1349 969 1348 967 1349 967C1349 966 1351 966 1352 966C1353 966 1354 966 1355 966C1355 967 1356 968 1357 968C1357 969 1356 970 1356 971C1356 971 1355 973 1355 973C1354 973 1352 973 1351 972Z" stroke-width="1.3"/>
<path d="M1185,729C1182 728 1176 725 1175 722C1173 719 1173 713 1176 710C1178 708 1184 709 1187 709C1191 710 1194 709 1198 711C1201 712 1206 717 1207 719C1208 722 1205 726 1203 728C1200 730 1197 730 1195 730C1192 731 1189 731 1185 729Z"/>
<path d="M1423,803C1423 804 1420 805 1418 805C1417 804 1415 802 1415 801C1414 799 1414 799 1414 798C1414 797 1413 795 1414 794C1414 794 1416 794 1417 794C1418 794 1419 794 1420 795C1421 796 1422 796 1423 798C1423 799 1424 802 1423 803Z" stroke-width="1.3"/>
<path d="M1281,547C1281 548 1280 549 1279 549C1278 549 1276 549 1275 548C1274 548 1273 546 1273 545C1272 545 1273 544 1273 543C1273 543 1274 542 1274 541C1275 541 1277 541 1277 542C1278 542 1279 543 1280 544C1280 544 1281 546 1281 547Z" stroke-width="1.3"/>
<path d="M1353,657C1353 659 1352 660 1350 661C1349 662 1347 662 1346 662C1344 662 1341 662 1340 661C1338 660 1337 658 1337 656C1337 655 1338 653 1340 652C1341 651 1344 650 1346 651C1348 651 1351 652 1352 653C1353 654 1353 656 1353 657Z"/>
<path d="M1174,933C1172 933 1170 934 1168 932C1167 931 1164 927 1165 925C1165 922 1167 919 1169 918C1171 916 1174 917 1176 917C1178 918 1179 918 1181 920C1182 922 1184 925 1183 927C1183 929 1181 932 1180 933C1178 934 1176 934 1174 933Z"/>
<path d="M1125,960C1123 959 1122 957 1121 955C1121 953 1121 949 1121 947C1122 945 1124 942 1126 941C1128 940 1131 939 1134 940C1136 940 1138 942 1139 945C1140 947 1140 952 1138 954C1137 957 1134 959 1132 960C1130 961 1127 961 1125 960Z"/>
<path d="M1292,1011C1291 1011 1290 1011 1290 1011C1289 1010 1287 1010 1286 1009C1286 1008 1286 1006 1286 1006C1287 1005 1290 1004 1291 1004C1292 1004 1293 1005 1294 1006C1295 1007 1296 1007 1296 1008C1296 1009 1295 1010 1295 1010C1294 1011 1293 1011 1292 1011Z" stroke-width="1.3"/>
<path d="M1007,617C1006 617 1004 617 1002 617C1001 616 999 615 998 613C998 612 998 609 999 608C999 607 1001 606 1002 606C1003 605 1005 604 1006 605C1007 605 1008 608 1008 609C1008 610 1008 611 1008 613C1008 614 1008 616 1007 617Z" stroke-width="1.3"/>
<path d="M1313,915C1311 916 1308 918 1306 917C1304 916 1302 912 1301 910C1301 907 1301 905 1302 903C1303 901 1304 899 1305 898C1307 898 1309 898 1311 898C1313 899 1316 901 1317 902C1318 904 1318 908 1317 910C1316 912 1315 914 1313 915Z"/>
<path d="M978,862C977 861 975 859 975 857C974 855 975 851 977 849C978 847 982 844 984 844C986 843 990 843 991 844C993 846 994 849 993 851C993 853 990 856 989 857C987 859 986 860 984 861C982 861 980 862 978 862Z"/>
<path d="M1120,510C1120 511 1120 512 1120 513C1119 514 1118 516 1117 516C1116 517 1114 516 1113 515C1112 514 1112 511 1112 510C1112 509 1114 507 1115 507C1116 507 1117 507 1118 508C1118 508 1119 508 1119 509C1119 509 1120 510 1120 510Z" stroke-width="1.3"/>
<path d="M1313,874C1312 873 1311 870 1311 869C1311 867 1312 866 1312 865C1313 864 1313 862 1313 861C1314 860 1316 859 1317 859C1319 859 1322 859 1323 861C1324 862 1325 866 1324 868C1324 870 1321 872 1319 873C1318 874 1315 875 1313 874Z"/>
<path d="M1321,583C1320 582 1320 579 1320 578C1320 577 1321 576 1323 575C1324 574 1325 573 1326 573C1328 573 1331 574 1332 575C1333 576 1334 579 1333 581C1333 583 1332 585 1331 586C1329 587 1327 587 1325 587C1324 586 1322 585 1321 583Z"/>
<path d="M1275,672C1274 673 1271 675 1268 675C1266 676 1264 676 1261 675C1257 675 1251 675 1249 673C1247 671 1247 667 1248 664C1249 662 1253 661 1255 660C1258 659 1262 658 1265 659C1268 659 1271 662 1272 664C1274 667 1276 670 1275 672Z"/>
<path d="M1050,905C1048 903 1047 900 1047 897C1047 895 1048 892 1049 890C1051 888 1054 886 1057 885C1059 885 1063 886 1065 887C1067 889 1068 892 1068 895C1068 898 1067 902 1065 904C1064 906 1060 908 1057 908C1055 908 1051 906 1050 905Z"/>
<path d="M978,813C976 814 972 812 971 810C970 808 971 804 971 802C971 799 969 797 969 794C970 792 972 788 974 788C976 788 979 791 981 792C983 794 984 797 985 800C985 802 984 805 983 807C981 809 980 813 978 813Z"/>
<path d="M1206,826C1203 827 1200 826 1197 825C1195 824 1193 821 1192 819C1191 816 1191 812 1193 810C1195 808 1201 805 1205 805C1209 805 1215 807 1217 810C1219 812 1220 816 1220 818C1219 821 1217 823 1214 824C1212 826 1209 826 1206 826Z"/>
<path d="M1402,893C1401 892 1400 891 1400 890C1400 889 1401 888 1401 888C1402 887 1403 886 1404 886C1404 887 1406 888 1407 889C1407 890 1407 891 1407 892C1407 893 1407 894 1407 895C1406 895 1405 895 1404 895C1403 894 1402 894 1402 893Z" stroke-width="1.3"/>
<path d="M1110,987C1109 988 1105 987 1103 987C1101 987 1098 987 1096 986C1094 984 1090 981 1090 979C1089 976 1091 974 1093 972C1094 971 1097 969 1099 969C1101 970 1104 972 1106 974C1107 976 1108 978 1109 980C1110 982 1111 986 1110 987Z"/>
<path d="M1091,704C1090 705 1086 703 1084 702C1082 702 1079 704 1077 702C1075 701 1073 698 1073 695C1072 693 1073 689 1075 687C1076 685 1080 682 1083 682C1086 683 1089 686 1091 689C1093 691 1095 694 1095 696C1095 699 1093 703 1091 704Z"/>
<path d="M1364,649C1364 648 1365 646 1366 644C1367 643 1368 641 1370 641C1371 641 1373 643 1374 644C1375 646 1375 647 1375 649C1375 650 1375 652 1374 653C1374 654 1372 654 1370 654C1369 654 1368 654 1367 653C1366 652 1364 651 1364 649Z" stroke-width="1.3"/>
<path d="M1324,951C1323 950 1323 949 1323 948C1323 946 1322 944 1322 943C1323 942 1325 941 1327 941C1328 940 1330 941 1331 942C1332 943 1332 945 1332 946C1332 947 1332 949 1331 950C1330 951 1329 953 1327 954C1326 954 1324 952 1324 951Z" stroke-width="1.3"/>
<path d="M1073,777C1071 777 1069 776 1067 775C1066 774 1064 773 1063 772C1062 770 1060 766 1061 764C1062 761 1066 758 1069 757C1071 757 1075 760 1077 761C1079 763 1080 766 1080 768C1080 770 1079 772 1078 774C1077 775 1074 776 1073 777Z"/>
<path d="M1296,750C1294 750 1292 750 1291 749C1290 749 1288 748 1288 746C1287 745 1286 743 1287 741C1288 740 1291 737 1293 736C1296 736 1299 738 1300 739C1302 741 1303 742 1303 744C1304 745 1303 748 1302 749C1301 750 1298 750 1296 750Z"/>
<path d="M1287,589C1287 590 1285 592 1284 592C1282 592 1280 591 1279 590C1279 589 1279 587 1279 586C1280 585 1280 584 1281 583C1281 582 1282 581 1283 581C1284 581 1285 582 1286 582C1287 583 1287 584 1288 585C1288 586 1288 588 1287 589Z" stroke-width="1.3"/>
<path d="M1381,937C1381 938 1380 938 1379 939C1378 939 1377 940 1376 940C1375 939 1373 939 1373 937C1372 936 1372 934 1373 933C1374 931 1375 930 1377 929C1378 929 1380 929 1381 929C1382 930 1383 932 1383 933C1383 934 1382 936 1381 937Z" stroke-width="1.3"/>
<path d="M1097,607C1096 606 1093 603 1093 600C1093 598 1095 592 1098 591C1100 589 1106 588 1108 589C1111 590 1111 594 1112 596C1112 598 1113 599 1112 601C1112 602 1111 605 1110 606C1109 607 1106 608 1104 608C1102 608 1099 608 1097 607Z"/>
<path d="M1123,633C1121 635 1116 635 1113 635C1111 634 1109 630 1109 628C1109 626 1111 623 1112 621C1114 619 1115 617 1118 615C1120 614 1125 613 1127 613C1130 614 1132 618 1133 620C1133 622 1131 625 1130 627C1128 630 1126 632 1123 633Z"/>
<path d="M1319,738C1317 738 1314 737 1313 736C1312 735 1312 733 1312 731C1311 730 1311 728 1312 727C1312 725 1313 723 1315 722C1317 722 1320 722 1322 723C1323 724 1325 726 1325 728C1326 730 1325 733 1324 735C1323 736 1320 738 1319 738Z"/>
<path d="M1248,996C1246 995 1245 996 1243 995C1242 994 1239 992 1240 991C1240 989 1243 988 1244 987C1245 986 1246 984 1248 984C1250 983 1254 983 1255 984C1256 986 1256 989 1256 991C1256 993 1254 995 1253 996C1251 997 1249 996 1248 996Z"/>
<path d="M1144,710C1142 713 1138 718 1134 719C1130 720 1123 720 1121 717C1118 715 1119 708 1119 704C1120 700 1122 694 1125 692C1128 690 1133 689 1136 690C1139 690 1141 691 1143 693C1145 694 1149 696 1149 699C1149 702 1147 706 1144 710Z"/>
<path d="M992,828C992 830 991 832 989 833C988 834 985 835 984 834C982 834 980 833 978 832C977 831 975 828 975 827C975 825 976 822 978 820C980 819 983 818 985 818C988 819 991 821 992 822C993 824 993 827 992 828Z"/>
<path d="M1352,607C1351 607 1351 605 1351 604C1351 603 1350 602 1351 601C1351 601 1353 600 1354 600C1355 600 1356 601 1356 602C1357 603 1357 603 1358 604C1358 605 1359 606 1358 607C1358 608 1357 609 1356 609C1355 609 1353 608 1352 607Z" stroke-width="1.3"/>
<path d="M1104,892C1104 895 1103 898 1102 900C1100 901 1097 902 1095 901C1093 901 1092 898 1091 896C1090 895 1088 893 1088 891C1088 889 1090 885 1091 884C1092 883 1095 883 1097 884C1099 884 1101 885 1102 887C1103 888 1104 890 1104 892Z"/>
<path d="M1038,533C1037 533 1035 531 1035 530C1035 530 1037 528 1037 527C1038 527 1039 527 1041 526C1042 526 1043 526 1044 526C1045 527 1045 529 1045 530C1045 531 1045 533 1044 533C1043 534 1041 534 1040 534C1039 534 1039 534 1038 533Z" stroke-width="1.3"/>
<path d="M1179,564C1178 566 1176 566 1174 566C1172 567 1169 566 1169 565C1168 564 1169 561 1169 560C1169 558 1169 556 1169 555C1170 554 1172 552 1173 552C1175 552 1177 553 1178 554C1179 556 1182 557 1182 559C1182 560 1181 563 1179 564Z"/>
<path d="M1054,749C1053 748 1050 746 1050 745C1049 743 1049 739 1050 737C1052 735 1054 734 1056 733C1058 732 1060 732 1062 733C1064 733 1066 735 1067 737C1067 739 1066 743 1065 744C1064 746 1062 747 1060 748C1058 749 1056 749 1054 749Z"/>
<path d="M1347,625C1346 624 1345 622 1345 621C1345 620 1345 617 1346 616C1347 614 1349 613 1350 613C1352 612 1353 613 1355 614C1356 614 1357 616 1357 617C1357 619 1357 621 1356 623C1355 625 1352 626 1351 627C1349 627 1348 626 1347 625Z"/>
<path d="M1226,1003C1225 1004 1223 1006 1221 1007C1220 1007 1217 1007 1215 1006C1214 1005 1213 1002 1213 1000C1213 998 1215 995 1216 994C1218 992 1221 992 1222 992C1224 992 1226 993 1227 994C1228 995 1228 996 1228 998C1228 999 1228 1002 1226 1003Z"/>
<path d="M1137,665C1137 663 1137 662 1138 660C1138 659 1138 655 1139 654C1141 653 1144 653 1146 654C1148 655 1149 658 1150 661C1151 663 1153 666 1152 669C1151 671 1149 674 1146 675C1144 675 1140 673 1139 671C1137 670 1137 667 1137 665Z"/>
<path d="M1208,625C1206 627 1205 629 1203 630C1202 630 1199 631 1197 630C1196 629 1196 626 1196 624C1197 622 1198 619 1199 618C1200 617 1202 617 1204 616C1206 616 1208 615 1209 615C1210 616 1212 618 1212 620C1212 622 1209 624 1208 625Z"/>
<path d="M1183,539C1182 538 1181 537 1181 536C1180 535 1180 533 1180 531C1181 530 1182 529 1184 528C1186 528 1188 528 1189 528C1191 529 1193 532 1193 533C1193 535 1191 536 1190 538C1189 539 1188 539 1187 540C1186 540 1184 540 1183 539Z"/>
<path d="M1238,1014C1238 1014 1237 1013 1237 1012C1238 1011 1239 1010 1240 1009C1240 1009 1242 1010 1243 1010C1244 1011 1244 1012 1244 1012C1244 1013 1245 1014 1244 1015C1244 1016 1243 1017 1242 1018C1241 1018 1240 1017 1239 1017C1238 1016 1238 1015 1238 1014Z" stroke-width="1.3"/>
<path d="M1242,793C1240 790 1239 787 1239 785C1239 782 1240 778 1241 776C1243 775 1247 777 1250 778C1252 779 1255 780 1257 782C1258 785 1260 789 1259 791C1259 793 1256 794 1254 796C1252 797 1250 798 1248 798C1246 797 1243 795 1242 793Z"/>
<path d="M1131,520C1131 518 1133 517 1134 516C1136 515 1138 515 1139 515C1141 514 1143 515 1144 515C1146 516 1147 518 1147 519C1147 520 1146 522 1145 523C1143 524 1142 524 1140 525C1138 525 1135 525 1134 525C1132 524 1131 521 1131 520Z"/>
<path d="M992,558C991 558 990 558 989 557C988 557 987 556 987 555C987 554 988 552 989 552C990 551 991 551 992 551C993 551 994 552 995 553C996 553 996 554 997 555C997 556 996 557 995 557C995 558 993 558 992 558Z" stroke-width="1.3"/>
<path d="M1018,945C1017 945 1015 942 1015 941C1015 939 1016 937 1017 936C1019 935 1020 935 1021 935C1023 935 1024 936 1025 936C1026 937 1027 939 1027 940C1028 941 1027 942 1026 943C1025 944 1024 944 1023 945C1022 945 1019 946 1018 945Z" stroke-width="1.3"/>
<path d="M1302,671C1301 671 1298 671 1297 669C1295 668 1293 666 1293 664C1293 663 1295 660 1297 659C1299 658 1302 658 1304 659C1306 660 1308 661 1308 662C1309 664 1308 665 1307 666C1307 667 1306 667 1305 668C1305 669 1304 670 1302 671Z"/>
<path d="M1271,586C1269 587 1266 587 1265 587C1263 587 1262 586 1260 585C1259 584 1258 582 1258 581C1258 580 1259 578 1260 577C1261 576 1262 574 1263 574C1265 573 1267 574 1269 575C1270 575 1272 578 1272 580C1272 581 1272 585 1271 586Z"/>
<path d="M1105,1013C1104 1013 1102 1011 1101 1010C1100 1008 1098 1006 1098 1004C1098 1002 1100 1000 1102 998C1103 997 1105 996 1106 995C1108 995 1111 996 1112 998C1112 999 1111 1002 1111 1004C1111 1007 1111 1009 1110 1010C1109 1012 1107 1014 1105 1013Z"/>
<path d="M1045,596C1044 595 1043 593 1042 591C1042 589 1041 586 1042 583C1043 581 1046 580 1048 579C1050 578 1054 576 1056 577C1058 577 1062 580 1063 583C1063 585 1058 589 1056 591C1054 593 1053 594 1051 595C1049 596 1047 596 1045 596Z"/>
<path d="M1300,692C1299 694 1296 695 1294 695C1293 695 1292 693 1290 692C1289 692 1288 693 1287 692C1285 691 1283 689 1283 687C1283 685 1285 683 1287 682C1289 681 1292 679 1295 680C1297 681 1300 683 1301 685C1301 687 1301 691 1300 692Z"/>
<path d="M1411,873C1410 873 1409 874 1408 873C1407 873 1407 871 1407 869C1407 868 1408 867 1408 866C1409 865 1410 863 1411 863C1412 863 1414 864 1415 865C1416 866 1416 869 1416 870C1416 871 1414 873 1413 873C1413 874 1412 873 1411 873Z" stroke-width="1.3"/>
<path d="M1041,652C1040 651 1039 648 1038 646C1037 643 1035 640 1036 637C1037 634 1041 630 1043 630C1046 629 1048 630 1051 631C1053 632 1057 633 1057 636C1058 638 1057 643 1056 646C1054 649 1051 651 1049 652C1046 653 1043 653 1041 652Z"/>
<path d="M950,720C949 722 947 723 946 723C944 723 941 723 940 722C938 720 937 718 937 716C937 715 937 713 938 711C938 710 940 708 942 708C944 707 947 708 948 709C950 710 951 713 952 715C952 717 951 719 950 720Z"/>
<path d="M1318,994C1318 994 1317 995 1316 995C1315 996 1314 996 1313 996C1312 996 1310 995 1310 994C1309 993 1310 991 1310 990C1311 989 1311 987 1312 986C1313 986 1315 987 1316 988C1317 988 1318 990 1318 991C1318 992 1319 993 1318 994Z" stroke-width="1.3"/>
<path d="M1190,945C1188 943 1187 940 1187 938C1187 936 1187 933 1188 932C1189 931 1192 932 1194 932C1196 933 1199 934 1200 935C1201 937 1203 939 1203 941C1203 943 1201 944 1200 945C1199 946 1198 948 1196 948C1194 948 1191 946 1190 945Z"/>
<path d="M991,664C990 665 987 667 985 668C983 668 980 667 978 667C976 666 974 666 973 664C971 662 970 659 970 657C971 655 973 653 975 652C977 651 981 652 983 652C985 653 987 655 988 657C990 658 991 662 991 664Z"/>
<path d="M1332,842C1332 840 1332 838 1333 837C1333 836 1336 836 1337 836C1338 836 1339 837 1340 837C1341 838 1343 838 1343 839C1344 840 1345 843 1344 844C1344 845 1341 847 1340 847C1338 847 1337 846 1335 845C1334 844 1333 843 1332 842Z" stroke-width="1.3"/>
<path d="M1061,1003C1060 1004 1059 1005 1058 1005C1057 1006 1057 1006 1056 1006C1055 1006 1054 1006 1054 1005C1053 1004 1053 1003 1053 1002C1053 1001 1054 1000 1055 1000C1055 999 1056 998 1057 998C1058 997 1060 998 1061 999C1061 1000 1061 1002 1061 1003Z" stroke-width="1.3"/>
<path d="M1003,969C1003 970 1000 971 999 971C997 971 996 970 994 969C993 968 992 967 992 966C991 964 991 963 992 961C993 960 994 958 996 958C997 958 999 959 1000 960C1001 961 1001 962 1002 964C1002 965 1004 967 1003 969Z"/>
<path d="M1346,875C1345 875 1341 873 1340 872C1339 870 1339 867 1338 865C1337 863 1336 861 1336 859C1337 857 1339 855 1340 855C1342 854 1345 855 1346 856C1348 857 1349 860 1349 862C1350 864 1349 866 1349 868C1348 870 1348 874 1346 875Z"/>
<path d="M1158,977C1156 979 1152 978 1150 977C1147 977 1145 974 1144 972C1142 970 1143 967 1143 965C1144 962 1146 960 1148 960C1150 959 1152 960 1154 961C1155 962 1156 963 1157 965C1158 966 1161 968 1161 970C1161 972 1159 976 1158 977Z"/>
<path d="M1028,750C1026 750 1024 748 1023 746C1022 744 1022 741 1023 739C1023 737 1025 734 1027 733C1029 732 1031 731 1033 732C1035 732 1038 734 1038 736C1039 738 1040 741 1039 743C1039 746 1037 748 1035 750C1033 751 1030 751 1028 750Z"/>
<path d="M1244,912C1242 910 1242 908 1242 906C1241 904 1240 902 1241 900C1241 898 1243 895 1245 894C1247 894 1252 894 1255 896C1257 898 1258 901 1259 904C1260 907 1261 910 1260 913C1259 915 1255 918 1253 918C1250 918 1246 914 1244 912Z"/>
<path d="M1374,895C1372 895 1369 892 1368 890C1367 889 1368 887 1368 886C1368 885 1367 884 1367 883C1367 882 1366 879 1367 878C1368 877 1370 877 1372 878C1373 878 1375 881 1376 883C1377 885 1378 888 1378 890C1377 892 1375 895 1374 895Z"/>
<path d="M1142,1021C1142 1019 1143 1016 1144 1015C1145 1014 1147 1013 1148 1013C1150 1013 1151 1015 1152 1017C1152 1018 1153 1020 1153 1021C1153 1023 1152 1024 1151 1025C1150 1026 1150 1027 1149 1027C1147 1028 1145 1028 1144 1027C1143 1026 1142 1023 1142 1021Z"/>
<path d="M1025,562C1024 562 1022 562 1021 562C1019 562 1018 562 1017 561C1016 561 1016 559 1016 557C1017 556 1018 555 1020 554C1021 553 1023 553 1024 553C1025 553 1027 554 1027 554C1028 555 1028 557 1028 558C1028 559 1026 561 1025 562Z" stroke-width="1.3"/>
<path d="M1092,749C1090 749 1086 748 1084 746C1083 744 1081 741 1082 739C1082 736 1085 735 1087 733C1089 732 1092 730 1094 730C1097 729 1102 730 1104 732C1106 734 1107 739 1106 741C1106 744 1104 747 1101 749C1099 750 1095 750 1092 749Z"/>
<path d="M1215,705C1213 703 1212 698 1211 695C1211 692 1212 689 1214 687C1216 685 1220 684 1223 684C1226 685 1229 688 1232 691C1234 693 1236 697 1237 700C1237 704 1236 708 1234 709C1232 711 1228 712 1225 711C1222 710 1217 708 1215 705Z"/>
<path d="M1268,641C1266 641 1264 641 1263 639C1262 638 1262 637 1262 635C1262 634 1262 632 1262 630C1263 629 1265 628 1267 628C1268 628 1270 629 1271 630C1272 631 1273 633 1273 634C1273 636 1272 638 1272 639C1271 640 1269 641 1268 641Z"/>
<path d="M1086,1011C1085 1012 1085 1013 1083 1014C1082 1015 1080 1016 1079 1016C1078 1016 1077 1014 1076 1012C1076 1011 1077 1009 1077 1008C1078 1007 1079 1006 1079 1005C1080 1005 1081 1005 1082 1006C1083 1006 1084 1006 1085 1007C1085 1008 1086 1009 1086 1011Z" stroke-width="1.3"/>
<path d="M1252,707C1251 704 1251 701 1251 699C1252 697 1254 695 1256 694C1258 694 1261 695 1262 697C1263 699 1264 702 1264 704C1264 706 1262 706 1261 708C1261 710 1261 712 1260 713C1259 714 1256 715 1255 713C1253 712 1252 709 1252 707Z"/>
<path d="M1033,925C1032 927 1030 928 1028 929C1026 929 1023 928 1022 927C1020 927 1017 925 1016 924C1015 923 1016 920 1017 919C1017 917 1019 916 1020 915C1022 914 1025 912 1027 912C1030 913 1033 916 1034 918C1035 920 1034 923 1033 925Z"/>
<path d="M1237,609C1236 610 1233 609 1232 609C1230 609 1229 608 1228 607C1227 607 1226 606 1225 605C1224 603 1222 601 1222 600C1222 598 1224 595 1226 595C1228 594 1232 596 1234 597C1237 599 1239 602 1240 604C1240 606 1238 608 1237 609Z"/>
<path d="M1292,915C1290 916 1286 917 1284 916C1282 916 1279 914 1278 912C1277 911 1276 908 1276 907C1277 905 1278 905 1279 903C1279 902 1280 900 1281 899C1283 899 1286 899 1288 901C1290 902 1291 905 1292 907C1293 909 1293 913 1292 915Z"/>
<path d="M1164,603C1163 604 1160 604 1158 603C1157 603 1156 600 1155 599C1154 598 1154 597 1153 597C1153 596 1152 594 1153 593C1153 592 1154 590 1155 589C1157 589 1160 590 1162 591C1163 592 1164 595 1165 597C1165 599 1165 602 1164 603Z"/>
<path d="M1082,568C1081 569 1080 569 1079 569C1078 569 1075 569 1075 568C1074 567 1074 565 1075 563C1075 561 1077 559 1078 558C1080 558 1083 559 1084 560C1085 561 1084 563 1084 564C1084 565 1085 566 1084 567C1084 567 1083 568 1082 568Z" stroke-width="1.3"/>
<path d="M1024,583C1024 583 1023 584 1022 584C1020 584 1019 584 1017 584C1016 583 1013 582 1012 580C1011 578 1010 575 1010 573C1011 572 1014 570 1016 570C1019 570 1022 572 1024 573C1026 575 1027 578 1027 579C1027 581 1025 582 1024 583Z"/>
<path d="M1001,708C1001 710 999 712 998 712C997 713 995 712 994 712C993 712 991 713 990 712C989 711 988 709 988 707C988 705 989 703 990 702C991 700 993 698 995 698C996 698 999 700 1000 701C1001 703 1002 706 1001 708Z"/>
<path d="M1050,536C1050 535 1050 534 1051 533C1051 532 1051 530 1052 530C1053 529 1054 529 1055 530C1056 531 1057 532 1058 534C1058 535 1058 537 1057 538C1057 540 1055 540 1054 540C1054 540 1052 540 1052 539C1051 538 1051 537 1050 536Z" stroke-width="1.3"/>
<path d="M1066,552C1065 551 1063 549 1063 548C1062 547 1064 545 1065 545C1067 544 1068 545 1069 545C1070 546 1071 546 1072 546C1072 547 1072 548 1073 549C1073 550 1073 552 1073 552C1072 553 1070 553 1069 553C1068 553 1067 552 1066 552Z" stroke-width="1.3"/>
<path d="M1130,904C1129 903 1128 900 1128 898C1128 897 1129 895 1129 893C1130 890 1131 887 1133 886C1134 885 1137 884 1139 885C1141 885 1143 887 1143 890C1143 892 1141 895 1139 897C1138 899 1137 899 1135 900C1134 901 1132 904 1130 904Z"/>
<path d="M1303,955C1303 956 1301 957 1301 957C1300 957 1299 957 1298 957C1298 957 1296 957 1295 957C1295 956 1294 954 1294 953C1294 952 1295 950 1296 950C1297 949 1299 949 1300 949C1302 950 1303 951 1303 952C1304 953 1304 955 1303 955Z" stroke-width="1.3"/>
<path d="M997,918C996 917 996 915 996 914C997 912 997 911 998 909C999 908 1001 906 1002 906C1004 906 1006 906 1007 907C1008 909 1008 911 1008 912C1008 914 1008 916 1007 918C1006 919 1003 921 1002 921C1000 921 998 919 997 918Z"/>
<path d="M1052,865C1051 866 1049 868 1047 869C1045 870 1043 870 1042 869C1040 869 1038 869 1037 868C1036 867 1036 865 1036 864C1036 862 1036 861 1037 860C1038 858 1040 857 1042 856C1044 856 1048 856 1050 858C1052 859 1052 863 1052 865Z"/>
<path d="M1011,544C1011 543 1011 540 1011 539C1012 538 1014 537 1015 537C1017 536 1019 537 1020 538C1021 540 1022 542 1022 544C1021 545 1019 547 1018 547C1018 548 1017 548 1016 548C1015 548 1014 548 1013 547C1012 547 1012 545 1011 544Z" stroke-width="1.3"/>
<path d="M1247,844C1246 845 1245 848 1243 848C1241 849 1238 849 1236 847C1234 846 1232 843 1232 841C1232 839 1232 837 1234 835C1235 834 1237 834 1239 833C1241 833 1243 833 1244 834C1246 835 1247 837 1248 839C1248 840 1247 842 1247 844Z"/>
<path d="M1382,956C1381 957 1379 956 1378 956C1378 955 1378 954 1378 953C1378 952 1378 951 1379 951C1379 950 1381 949 1382 949C1383 949 1384 950 1385 951C1385 951 1384 952 1384 953C1384 953 1384 954 1384 954C1384 955 1383 956 1382 956Z" stroke-width="1.3"/>
<path d="M1117,660C1115 659 1114 656 1114 654C1113 651 1112 649 1112 647C1113 646 1115 643 1117 642C1119 642 1122 643 1125 644C1128 645 1132 647 1133 649C1134 651 1133 655 1131 657C1130 659 1127 660 1125 661C1122 661 1118 661 1117 660Z"/>
<path d="M1335,696C1334 698 1332 701 1330 702C1328 703 1326 702 1324 701C1323 700 1322 698 1321 696C1320 694 1318 691 1319 688C1320 686 1323 683 1326 682C1328 681 1331 682 1332 684C1334 685 1335 687 1335 689C1336 691 1335 694 1335 696Z"/>
<path d="M1327,758C1326 756 1327 753 1328 751C1330 750 1332 750 1334 750C1335 749 1337 750 1338 751C1339 751 1342 752 1343 754C1343 756 1344 759 1343 761C1342 763 1340 765 1338 766C1336 767 1333 766 1331 765C1329 763 1327 760 1327 758Z"/>
<path d="M996,652C995 653 991 652 989 650C987 649 985 646 984 643C983 641 983 637 984 636C984 634 987 633 988 633C990 633 992 635 993 636C994 637 995 637 996 639C997 640 999 642 999 645C999 647 998 651 996 652Z"/>
<path d="M1263,985C1262 985 1260 985 1259 984C1259 984 1258 981 1259 980C1259 979 1261 977 1262 976C1263 975 1265 975 1266 975C1268 975 1270 977 1270 978C1270 980 1270 983 1269 984C1268 985 1266 985 1265 985C1264 985 1263 985 1263 985Z" stroke-width="1.3"/>
<path d="M1355,586C1355 587 1352 587 1351 586C1350 586 1350 585 1349 584C1348 583 1346 583 1345 582C1345 581 1346 579 1347 578C1347 577 1349 577 1350 577C1352 578 1353 578 1354 579C1355 580 1355 581 1355 583C1355 584 1356 586 1355 586Z" stroke-width="1.3"/>
<path d="M1136,587C1135 587 1132 586 1132 584C1131 583 1133 582 1133 580C1134 579 1135 578 1136 578C1138 578 1140 578 1142 578C1143 579 1144 582 1144 583C1145 585 1146 587 1145 588C1145 589 1142 590 1141 590C1139 589 1138 588 1136 587Z"/>
<path d="M1321,549C1320 550 1319 551 1317 551C1316 552 1315 551 1314 551C1312 550 1311 550 1311 549C1310 549 1310 547 1310 546C1310 546 1312 546 1313 545C1314 545 1314 543 1315 543C1317 543 1319 544 1320 545C1321 546 1321 548 1321 549Z" stroke-width="1.3"/>
<path d="M1090,922C1088 922 1087 921 1085 920C1084 919 1080 919 1080 917C1079 915 1079 911 1080 909C1082 908 1087 907 1090 907C1092 908 1095 909 1097 911C1099 913 1101 915 1101 917C1101 919 1099 922 1097 923C1095 924 1092 923 1090 922Z"/>
<path d="M932,658C931 658 930 659 929 659C928 659 926 659 925 659C924 658 924 656 924 655C924 653 926 651 927 651C928 650 930 650 932 650C933 651 934 652 934 653C935 654 934 655 934 656C934 657 932 657 932 658Z" stroke-width="1.3"/>
<path d="M1052,941C1050 942 1046 942 1044 941C1042 941 1042 940 1040 939C1039 938 1037 938 1037 936C1036 934 1037 931 1038 928C1039 926 1043 923 1045 922C1048 922 1051 924 1052 926C1054 928 1055 931 1055 933C1055 936 1053 940 1052 941Z"/>
<path d="M1202,909C1202 911 1200 912 1199 913C1197 914 1195 915 1193 914C1192 914 1190 912 1190 910C1189 909 1189 907 1189 906C1189 904 1190 902 1191 901C1192 900 1195 900 1197 900C1198 900 1201 902 1202 903C1202 905 1203 907 1202 909Z"/>
<path d="M933,622C933 621 933 620 934 619C935 618 936 617 937 617C939 617 940 617 941 617C942 617 942 619 942 620C943 621 944 622 944 623C943 624 942 627 940 627C939 628 936 626 935 626C934 625 933 623 933 622Z" stroke-width="1.3"/>
<path d="M1385,899C1384 898 1384 896 1385 895C1385 894 1386 893 1387 892C1388 891 1389 890 1390 890C1391 891 1393 892 1394 894C1395 896 1396 898 1396 900C1396 902 1395 904 1393 904C1392 905 1390 904 1388 903C1387 902 1385 901 1385 899Z"/>
<path d="M1359,767C1358 768 1356 769 1355 769C1353 769 1352 768 1351 767C1350 766 1349 765 1349 763C1349 762 1349 760 1350 759C1351 758 1352 757 1354 757C1355 757 1357 758 1359 759C1360 760 1361 762 1361 763C1361 765 1360 766 1359 767Z"/>
<path d="M1247,618C1245 616 1243 612 1243 610C1244 607 1246 605 1248 604C1250 603 1252 603 1254 604C1256 605 1257 607 1258 608C1260 610 1262 611 1263 613C1264 616 1266 622 1265 623C1264 625 1258 624 1255 623C1252 622 1249 620 1247 618Z"/>
<path d="M982,620C981 622 977 622 975 622C973 622 970 620 969 618C969 617 971 614 972 612C973 611 974 611 975 610C976 609 977 606 979 606C981 606 983 607 985 608C986 609 986 612 986 614C986 616 984 619 982 620Z"/>
<path d="M995,688C994 686 996 683 997 681C998 679 1000 677 1002 676C1004 675 1007 674 1009 674C1012 675 1015 677 1016 679C1016 681 1016 685 1014 687C1013 689 1011 690 1009 691C1007 692 1004 694 1002 693C999 693 996 690 995 688Z"/>
<path d="M1209,531C1209 530 1208 528 1209 527C1210 527 1212 526 1213 526C1214 526 1215 526 1216 527C1217 528 1219 529 1219 530C1219 531 1218 533 1217 534C1216 534 1215 534 1214 533C1213 533 1213 533 1212 532C1211 532 1210 532 1209 531Z" stroke-width="1.3"/>
<path d="M951,884C950 885 948 885 947 884C946 884 945 883 944 882C944 881 943 880 942 878C942 877 943 875 944 874C945 874 947 873 948 874C949 874 952 875 953 876C953 877 954 879 954 881C953 882 952 883 951 884Z" stroke-width="1.3"/>
<path d="M1164,1021C1163 1020 1162 1019 1161 1017C1161 1016 1160 1014 1160 1014C1161 1013 1163 1012 1164 1012C1165 1012 1166 1012 1167 1013C1168 1013 1169 1013 1170 1014C1170 1015 1170 1016 1170 1017C1170 1018 1169 1019 1168 1020C1167 1021 1165 1021 1164 1021Z" stroke-width="1.3"/>
<path d="M906,746C905 745 904 744 905 743C905 741 908 740 909 739C911 738 915 737 916 738C917 738 918 741 918 742C918 743 915 744 914 745C913 746 913 748 912 748C911 749 909 749 908 749C907 748 906 747 906 746Z" stroke-width="1.3"/>
<path d="M1209,767C1206 767 1203 765 1200 763C1198 761 1195 760 1193 757C1192 754 1190 748 1191 746C1192 743 1197 744 1199 743C1202 742 1204 739 1207 740C1210 741 1218 743 1219 746C1221 750 1220 758 1219 761C1217 765 1212 767 1209 767Z"/>
<path d="M962,868C961 868 962 871 961 871C959 872 956 873 954 872C952 871 950 867 949 865C948 863 949 859 951 859C952 858 956 859 958 860C959 860 961 861 962 862C963 863 965 865 965 866C965 867 962 867 962 868Z"/>
<path d="M1063,881C1061 880 1060 876 1059 874C1058 872 1056 869 1057 867C1057 865 1060 863 1062 862C1064 862 1067 864 1070 865C1072 866 1076 866 1077 868C1079 870 1080 874 1079 876C1079 879 1076 882 1073 882C1070 883 1066 882 1063 881Z"/>
<path d="M1200,532C1199 532 1198 532 1197 531C1196 531 1195 530 1194 528C1194 527 1194 525 1194 524C1195 523 1196 522 1197 522C1198 522 1200 522 1200 523C1201 524 1201 525 1201 526C1202 527 1202 528 1201 529C1201 530 1201 531 1200 532Z" stroke-width="1.3"/>
<path d="M1352,800C1350 800 1348 799 1347 797C1347 796 1346 793 1347 792C1347 790 1349 789 1350 789C1351 788 1352 788 1354 787C1356 787 1360 786 1361 787C1363 788 1364 792 1363 794C1363 796 1359 798 1358 799C1356 800 1354 801 1352 800Z"/>
<path d="M1279,808C1278 809 1275 812 1274 812C1272 811 1270 806 1269 803C1268 800 1268 796 1269 793C1270 791 1273 790 1275 790C1277 789 1279 791 1281 792C1283 794 1286 797 1286 799C1286 801 1283 803 1282 805C1281 806 1281 806 1279 808Z"/>
<path d="M932,841C932 839 932 837 933 836C933 835 935 835 936 835C938 835 939 835 940 835C941 836 943 838 944 840C944 842 943 845 942 846C941 847 938 847 937 846C936 846 935 845 934 844C933 843 932 842 932 841Z" stroke-width="1.3"/>
<path d="M957,642C957 644 956 646 954 647C953 648 950 647 948 647C946 647 944 646 942 645C941 644 941 642 941 640C941 639 943 637 944 636C946 635 948 634 950 634C952 634 954 636 955 638C956 639 957 641 957 642Z"/>
<path d="M996,576C994 575 994 573 994 571C994 570 994 568 995 567C996 566 997 563 999 563C1001 563 1003 565 1005 566C1006 568 1006 570 1006 571C1006 573 1006 575 1005 576C1004 577 1002 578 1000 578C999 578 997 577 996 576Z"/>
<path d="M1320,1009C1320 1009 1318 1008 1317 1008C1316 1008 1316 1008 1315 1007C1314 1007 1313 1006 1312 1006C1312 1005 1312 1003 1312 1003C1313 1002 1314 1001 1315 1001C1316 1001 1318 1002 1319 1002C1320 1003 1322 1005 1322 1006C1322 1007 1321 1008 1320 1009Z" stroke-width="1.3"/>
<path d="M1065,733C1062 732 1060 727 1059 724C1058 722 1057 719 1058 717C1058 714 1059 711 1061 709C1063 708 1065 706 1068 706C1070 706 1074 708 1075 710C1077 712 1078 716 1078 719C1078 723 1077 728 1075 731C1073 733 1067 734 1065 733Z"/>
<path d="M1327,628C1326 626 1325 625 1325 624C1324 622 1324 618 1325 617C1326 615 1330 615 1332 615C1333 615 1335 615 1336 616C1338 617 1339 619 1340 621C1340 622 1338 625 1337 627C1336 628 1333 631 1332 631C1330 631 1328 629 1327 628Z"/>
<path d="M1123,991C1121 991 1118 990 1117 990C1115 989 1114 987 1114 985C1114 984 1115 982 1116 981C1118 980 1121 980 1123 980C1124 980 1126 981 1127 982C1128 983 1128 984 1128 985C1128 986 1128 988 1127 989C1126 990 1124 991 1123 991Z"/>
<path d="M1303,799C1302 798 1301 795 1301 793C1302 791 1303 788 1305 787C1306 786 1309 786 1311 786C1313 787 1315 787 1316 789C1318 790 1318 793 1318 795C1318 796 1316 798 1315 800C1313 801 1311 802 1309 802C1307 802 1304 801 1303 799Z"/>
<path d="M956,702C955 701 953 699 953 698C953 696 954 695 954 694C955 693 956 693 957 692C957 691 959 689 960 689C961 689 964 691 965 692C965 693 965 695 964 697C964 698 963 699 961 700C960 701 958 702 956 702Z" stroke-width="1.3"/>
<path d="M1308,575C1308 576 1307 577 1307 577C1306 577 1305 577 1304 577C1303 576 1303 576 1302 575C1301 575 1300 574 1300 573C1300 572 1301 571 1302 570C1303 570 1305 569 1306 569C1307 569 1309 570 1309 572C1310 573 1309 574 1308 575Z" stroke-width="1.3"/>
<path d="M1024,978C1023 976 1022 974 1022 973C1022 971 1023 969 1025 968C1026 967 1029 966 1030 967C1032 967 1033 969 1034 970C1035 971 1035 973 1035 975C1035 976 1035 979 1034 980C1032 981 1029 982 1028 982C1026 981 1025 979 1024 978Z"/>
<path d="M1176,997C1175 998 1173 999 1171 999C1170 999 1169 997 1168 996C1167 995 1167 994 1167 993C1167 991 1168 989 1170 988C1171 987 1173 986 1175 987C1176 987 1177 988 1178 989C1179 990 1179 991 1179 993C1179 994 1178 996 1176 997Z"/>
<path d="M1214,552C1213 552 1212 550 1211 549C1210 548 1209 547 1208 546C1208 545 1207 542 1207 541C1207 540 1210 539 1211 539C1212 538 1214 539 1215 540C1216 541 1216 542 1217 544C1217 545 1217 547 1217 548C1216 549 1215 552 1214 552Z" stroke-width="1.3"/>
<path d="M1204,574C1202 574 1200 572 1199 570C1199 569 1200 567 1200 566C1201 565 1202 563 1203 563C1205 562 1208 564 1209 565C1211 566 1211 567 1212 569C1213 570 1215 573 1214 574C1214 575 1211 575 1209 575C1207 576 1205 575 1204 574Z"/>
<path d="M918,831C917 831 914 830 913 829C912 828 911 826 911 825C911 823 912 822 913 821C914 819 915 817 916 817C918 816 921 816 922 818C923 819 922 822 922 823C922 825 922 826 921 827C921 828 919 830 918 831Z"/>
<path d="M1285,636C1284 636 1281 635 1280 634C1279 633 1278 631 1278 629C1278 628 1279 626 1280 625C1281 624 1281 624 1282 623C1283 623 1285 622 1286 623C1287 623 1288 625 1289 626C1289 628 1289 630 1289 632C1288 633 1287 635 1285 636Z" stroke-width="1.3"/>
<path d="M1288,713C1287 714 1286 715 1284 715C1283 716 1280 717 1278 717C1277 716 1274 714 1274 712C1274 710 1276 707 1277 706C1278 705 1280 704 1281 704C1283 703 1285 703 1287 704C1288 705 1290 707 1290 708C1290 710 1289 712 1288 713Z"/>
<path d="M1333,965C1332 964 1332 962 1332 961C1332 959 1332 958 1333 957C1334 957 1335 957 1336 957C1337 957 1339 956 1340 957C1341 958 1342 960 1342 961C1343 963 1342 964 1342 965C1341 966 1340 969 1338 969C1337 969 1334 966 1333 965Z" stroke-width="1.3"/>
<path d="M1072,677C1070 677 1066 675 1064 674C1063 672 1063 669 1064 667C1065 666 1068 666 1070 666C1072 665 1072 664 1074 664C1076 663 1079 663 1081 664C1082 665 1081 668 1081 669C1080 671 1080 673 1079 674C1078 675 1075 677 1072 677Z"/>
<path d="M1013,858C1011 858 1009 856 1008 854C1008 852 1010 849 1011 847C1012 846 1015 846 1016 846C1017 845 1018 846 1019 846C1021 847 1023 847 1024 848C1024 849 1024 853 1023 854C1022 855 1019 856 1018 857C1016 857 1014 859 1013 858Z"/>
<path d="M1352,854C1351 854 1349 853 1348 852C1348 851 1347 849 1348 848C1348 846 1349 845 1350 844C1352 843 1354 841 1355 841C1356 841 1358 844 1358 845C1359 847 1358 848 1357 850C1357 851 1357 852 1356 853C1355 854 1353 854 1352 854Z" stroke-width="1.3"/>
<path d="M926,770C924 771 921 772 919 772C918 772 916 770 915 769C915 767 914 765 915 763C915 762 919 760 921 760C923 759 924 760 926 760C928 760 932 760 933 761C934 762 932 765 931 767C930 768 927 769 926 770Z"/>
<path d="M949,901C947 901 947 900 946 900C945 899 945 899 945 898C944 897 944 896 945 895C945 894 947 893 948 893C949 892 951 893 952 894C953 894 955 896 955 897C955 898 954 900 953 900C952 901 950 901 949 901Z" stroke-width="1.3"/>
<path d="M1229,584C1229 583 1229 582 1229 581C1230 579 1229 577 1230 576C1231 575 1234 574 1236 575C1237 575 1238 578 1239 580C1239 582 1240 584 1239 585C1239 587 1237 588 1236 589C1235 589 1233 588 1232 587C1231 587 1230 585 1229 584Z"/>
<path d="M1375,834C1375 835 1373 834 1371 834C1370 833 1370 832 1369 831C1368 830 1367 829 1366 828C1366 827 1366 824 1366 824C1367 823 1369 824 1371 824C1372 824 1374 825 1375 826C1376 827 1377 829 1377 830C1377 832 1376 833 1375 834Z" stroke-width="1.3"/>
<path d="M1237,684C1236 685 1233 685 1231 684C1228 683 1225 680 1224 678C1223 675 1225 672 1226 670C1227 668 1228 668 1229 667C1230 667 1232 668 1233 668C1234 669 1234 671 1236 672C1237 674 1239 676 1239 678C1240 680 1239 683 1237 684Z"/>
<path d="M1036,831C1034 831 1032 832 1030 831C1028 831 1024 830 1023 828C1021 826 1020 822 1022 819C1023 817 1028 814 1032 813C1035 813 1039 815 1042 816C1044 817 1046 820 1046 822C1046 824 1045 827 1043 829C1042 830 1039 830 1036 831Z"/>
<path d="M1365,950C1365 951 1364 953 1362 953C1361 953 1358 953 1357 952C1356 951 1355 949 1355 948C1354 947 1354 946 1355 945C1355 944 1356 944 1357 944C1358 944 1360 944 1361 944C1362 945 1363 945 1363 946C1364 947 1365 949 1365 950Z" stroke-width="1.3"/>
<path d="M1194,674C1192 673 1190 672 1190 671C1189 669 1189 664 1191 662C1193 660 1197 657 1200 657C1202 657 1204 660 1205 662C1206 664 1206 666 1205 668C1204 670 1203 672 1202 673C1200 674 1199 674 1197 674C1196 674 1195 674 1194 674Z"/>
<path d="M957,590C956 590 956 589 955 588C955 587 955 585 956 584C956 583 958 583 959 582C960 582 962 581 963 582C964 582 964 584 964 585C964 586 963 588 962 589C961 590 960 592 959 592C958 592 957 591 957 590Z" stroke-width="1.3"/>
<path d="M1074,928C1073 929 1071 929 1069 929C1068 929 1066 928 1065 927C1063 926 1062 925 1062 923C1061 922 1061 921 1062 919C1062 918 1063 916 1065 915C1066 915 1070 916 1072 918C1073 919 1074 922 1075 924C1075 926 1075 927 1074 928Z"/>
<path d="M1246,730C1243 731 1239 731 1237 730C1235 729 1233 726 1233 724C1232 722 1233 720 1234 718C1235 716 1237 714 1240 713C1242 712 1246 710 1248 711C1250 711 1253 715 1253 717C1254 719 1252 722 1251 724C1250 726 1248 729 1246 730Z"/>
<path d="M1282,613C1281 614 1279 615 1278 615C1276 614 1275 612 1273 610C1272 608 1269 605 1269 603C1268 600 1269 595 1270 595C1272 594 1277 597 1279 599C1281 600 1282 602 1283 603C1284 605 1285 607 1284 609C1284 610 1284 612 1282 613Z"/>
<path d="M1195,964C1195 965 1193 966 1192 967C1191 967 1189 967 1189 967C1188 966 1187 965 1187 964C1187 962 1186 960 1187 959C1187 957 1189 954 1191 954C1192 953 1195 954 1196 955C1197 956 1197 958 1197 959C1197 961 1196 962 1195 964Z" stroke-width="1.3"/>
<path d="M1312,981C1310 981 1308 980 1307 979C1306 977 1305 975 1305 974C1305 972 1307 970 1308 970C1309 969 1311 970 1313 970C1314 971 1315 971 1316 971C1317 972 1319 973 1319 975C1320 976 1319 979 1318 980C1317 981 1314 982 1312 981Z"/>
<path d="M1124,687C1123 690 1120 692 1117 692C1114 693 1109 693 1107 691C1104 690 1102 687 1101 684C1100 682 1101 680 1102 678C1103 676 1105 674 1107 674C1109 673 1112 672 1115 673C1117 674 1121 676 1123 678C1125 680 1125 685 1124 687Z"/>
<path d="M1190,634C1190 636 1191 640 1189 642C1187 644 1182 645 1179 645C1176 645 1172 642 1170 640C1168 637 1168 632 1169 630C1169 627 1173 625 1176 624C1178 623 1181 623 1183 623C1186 624 1188 626 1189 627C1190 629 1190 631 1190 634Z"/>
<path d="M1413,848C1411 849 1409 848 1408 848C1406 847 1405 846 1404 845C1404 844 1403 842 1404 841C1404 840 1405 838 1407 838C1408 837 1410 836 1411 836C1413 836 1415 837 1416 839C1416 840 1416 842 1416 844C1415 845 1414 847 1413 848Z"/>
<path d="M1328,894C1326 894 1324 892 1323 891C1321 889 1320 887 1321 885C1321 883 1321 881 1323 879C1324 878 1326 878 1328 878C1330 877 1333 877 1335 878C1337 879 1340 882 1340 885C1340 887 1337 891 1335 892C1333 894 1330 894 1328 894Z"/>
<path d="M1381,792C1381 791 1381 790 1382 789C1382 788 1383 786 1384 786C1386 785 1389 785 1391 786C1393 787 1395 789 1396 790C1396 792 1395 795 1393 796C1392 798 1388 798 1386 798C1383 798 1382 796 1381 795C1380 794 1381 793 1381 792Z"/>
<path d="M1163,937C1163 939 1164 941 1163 942C1163 944 1160 945 1158 945C1156 945 1154 943 1153 942C1152 940 1152 938 1152 937C1152 935 1152 933 1154 932C1155 931 1157 930 1158 930C1160 931 1161 933 1162 934C1162 935 1163 936 1163 937Z"/>
<path d="M1365,745C1363 745 1359 745 1357 744C1355 742 1354 739 1354 737C1354 735 1355 732 1357 730C1359 729 1363 729 1365 729C1368 729 1370 731 1371 733C1372 734 1373 736 1373 737C1373 739 1372 740 1370 742C1369 743 1367 744 1365 745Z"/>
<path d="M1374,671C1374 669 1373 666 1373 664C1374 662 1376 660 1378 659C1379 658 1383 659 1385 661C1386 662 1387 666 1387 668C1387 670 1386 671 1385 672C1384 673 1383 674 1382 674C1381 675 1379 675 1378 674C1377 673 1375 673 1374 671Z"/>
<path d="M1197,610C1195 610 1192 605 1191 603C1191 600 1193 595 1195 592C1196 590 1199 588 1201 587C1203 586 1204 587 1207 587C1209 588 1213 588 1214 590C1215 592 1214 597 1212 600C1211 602 1208 603 1205 604C1203 606 1200 610 1197 610Z"/>
<path d="M975,943C975 941 977 940 978 938C979 937 981 936 982 936C983 936 984 938 985 938C987 939 989 939 990 940C991 942 991 945 990 946C989 948 986 948 984 948C982 948 979 949 978 948C976 947 975 945 975 943Z"/>
<path d="M1272,574C1271 574 1271 571 1271 569C1272 567 1273 566 1274 565C1275 564 1277 563 1279 563C1280 563 1282 565 1283 566C1284 567 1284 569 1284 570C1283 571 1281 571 1280 572C1279 573 1279 573 1278 574C1276 574 1273 575 1272 574Z" stroke-width="1.3"/>
<path d="M1056,960C1055 961 1053 962 1052 961C1050 961 1047 959 1046 957C1046 955 1047 951 1048 950C1049 948 1051 948 1053 948C1054 948 1056 948 1057 949C1058 949 1060 951 1060 953C1061 954 1060 956 1060 958C1059 959 1058 960 1056 960Z"/>
<path d="M1076,984C1074 985 1071 986 1069 985C1067 984 1065 980 1064 978C1063 976 1062 975 1061 973C1061 971 1061 968 1062 966C1063 965 1066 964 1068 964C1070 965 1073 968 1074 970C1075 972 1075 974 1075 977C1076 979 1077 983 1076 984Z"/>
<path d="M1299,998C1298 997 1297 997 1296 996C1296 995 1296 993 1296 993C1297 992 1298 992 1299 992C1300 992 1301 993 1302 993C1302 994 1303 994 1303 995C1304 995 1305 997 1305 997C1305 998 1303 999 1302 999C1301 999 1300 998 1299 998Z" stroke-width="1.3"/>
<path d="M1404,826C1403 827 1404 828 1403 828C1402 829 1400 831 1399 831C1398 831 1396 828 1396 827C1395 826 1396 824 1397 823C1397 822 1399 821 1400 821C1401 821 1402 822 1403 822C1404 823 1405 824 1405 824C1405 825 1404 826 1404 826Z" stroke-width="1.3"/>
<path d="M1385,917C1384 917 1383 917 1382 916C1382 916 1381 915 1380 914C1380 913 1379 910 1379 909C1380 908 1381 908 1383 908C1384 908 1385 907 1386 908C1387 909 1389 910 1389 912C1389 913 1388 915 1387 916C1386 917 1386 917 1385 917Z" stroke-width="1.3"/>
<path d="M965,773C964 773 963 772 962 771C961 770 960 769 960 767C960 765 960 762 961 761C962 760 964 759 966 759C967 759 970 759 971 761C972 762 972 765 971 767C971 769 970 770 969 771C968 772 966 773 965 773Z"/>
<path d="M994,757C994 755 994 753 995 751C995 750 997 747 998 747C1000 747 1002 748 1003 749C1005 751 1005 753 1005 755C1006 757 1008 760 1007 761C1007 763 1003 764 1002 764C1000 764 999 762 998 761C996 759 995 759 994 757Z"/>
<path d="M1162,513C1162 514 1161 516 1160 516C1159 517 1157 516 1157 516C1156 515 1155 514 1155 513C1155 512 1155 510 1156 509C1157 509 1158 508 1159 507C1160 507 1161 508 1162 508C1162 509 1162 510 1162 511C1162 512 1162 512 1162 513Z" stroke-width="1.3"/>
<path d="M1237,532C1236 530 1237 529 1237 528C1236 527 1235 525 1236 524C1236 523 1238 522 1240 522C1241 522 1243 524 1243 524C1244 525 1245 527 1245 528C1245 529 1245 530 1244 531C1244 532 1243 534 1241 534C1240 534 1238 533 1237 532Z" stroke-width="1.3"/>
<path d="M1352,729C1351 732 1349 734 1347 735C1345 736 1343 735 1342 734C1341 733 1341 732 1340 731C1338 730 1335 730 1334 728C1333 727 1335 722 1336 721C1337 719 1340 719 1343 719C1345 719 1349 718 1350 720C1352 722 1352 727 1352 729Z"/>
<path d="M1252,1017C1251 1016 1250 1015 1250 1014C1250 1014 1250 1012 1251 1011C1251 1010 1252 1009 1253 1009C1254 1008 1255 1008 1255 1008C1256 1009 1257 1010 1257 1011C1257 1012 1257 1013 1257 1014C1256 1015 1255 1016 1254 1017C1254 1017 1252 1017 1252 1017Z" stroke-width="1.3"/>
<path d="M1079,622C1076 622 1072 618 1070 615C1069 612 1069 609 1069 606C1069 603 1070 598 1072 597C1074 596 1078 599 1081 600C1083 601 1083 602 1084 604C1086 605 1089 606 1089 608C1090 610 1089 614 1088 616C1086 619 1081 623 1079 622Z"/>
<path d="M952,680C951 679 950 676 950 674C950 673 951 671 953 670C954 669 956 668 957 668C959 669 961 670 962 671C963 673 965 675 965 677C965 679 963 681 962 681C961 682 959 682 957 682C956 682 953 681 952 680Z"/>
<path d="M1416,856C1415 855 1414 855 1414 854C1414 853 1414 851 1415 850C1416 850 1418 849 1419 850C1420 850 1420 851 1421 852C1421 853 1421 854 1421 855C1421 855 1420 856 1419 857C1419 857 1418 857 1417 857C1417 857 1416 856 1416 856Z" stroke-width="1.3"/>
<path d="M1321,930C1321 931 1321 933 1320 934C1319 935 1316 937 1314 937C1311 937 1307 936 1306 935C1305 933 1305 931 1305 929C1305 927 1306 925 1308 924C1309 923 1313 923 1315 924C1316 924 1317 926 1318 927C1319 928 1321 929 1321 930Z"/>
<path d="M1184,575C1184 574 1185 573 1186 572C1187 572 1189 572 1190 572C1192 572 1194 572 1195 572C1197 573 1200 574 1200 575C1200 576 1197 578 1196 579C1194 580 1192 580 1191 580C1189 580 1187 579 1186 579C1185 578 1184 576 1184 575Z" stroke-width="1.3"/>
<path d="M1120,526C1120 526 1120 524 1120 523C1121 522 1122 521 1123 520C1124 520 1124 520 1125 520C1126 520 1127 519 1128 520C1129 520 1129 521 1129 522C1129 523 1128 524 1127 525C1126 526 1125 527 1124 527C1123 527 1121 527 1120 526Z" stroke-width="1.3"/>
<path d="M1091,546C1089 546 1086 547 1085 546C1083 545 1083 542 1083 540C1083 538 1084 536 1085 535C1086 533 1088 532 1089 532C1091 532 1092 535 1093 536C1094 537 1095 538 1095 539C1095 540 1094 541 1094 542C1093 544 1092 545 1091 546Z"/>
<path d="M1340,935C1339 935 1337 934 1336 933C1336 933 1336 931 1337 930C1338 929 1339 929 1340 929C1341 929 1343 928 1343 928C1344 929 1346 930 1346 931C1346 932 1346 934 1346 935C1345 936 1344 936 1343 936C1342 937 1341 936 1340 935Z" stroke-width="1.3"/>
<path d="M1034,993C1034 992 1034 992 1035 991C1035 990 1035 988 1036 988C1037 987 1039 986 1040 986C1041 986 1044 987 1045 988C1046 989 1046 992 1046 994C1045 996 1043 998 1041 999C1040 1000 1036 999 1035 998C1034 997 1034 995 1034 993Z"/>
<path d="M978,915C979 916 979 918 978 919C977 920 974 921 973 921C971 920 970 919 969 918C969 917 968 916 968 914C969 913 969 912 970 912C971 911 972 910 973 910C974 910 976 911 976 911C977 912 978 913 978 915Z" stroke-width="1.3"/>
<path d="M1168,659C1166 659 1165 659 1163 657C1161 656 1159 654 1158 651C1158 649 1160 645 1161 644C1162 643 1165 644 1166 644C1168 644 1169 644 1170 645C1171 646 1173 648 1174 650C1174 652 1174 656 1173 657C1172 659 1170 659 1168 659Z"/>
<path d="M1136,865C1133 865 1129 865 1127 863C1124 862 1123 860 1123 858C1122 856 1124 854 1125 852C1126 850 1127 847 1130 846C1133 844 1137 842 1140 843C1144 844 1148 847 1149 849C1150 852 1149 857 1146 860C1144 862 1139 864 1136 865Z"/>
<path d="M1306,632C1305 632 1304 631 1303 629C1303 628 1301 625 1302 622C1303 620 1307 616 1309 616C1312 615 1316 617 1317 619C1319 621 1320 624 1319 627C1319 629 1316 631 1314 632C1313 633 1311 633 1309 633C1308 633 1307 633 1306 632Z"/>
<path d="M1044,699C1042 697 1041 693 1042 691C1042 688 1045 685 1047 683C1049 681 1051 679 1053 679C1055 678 1058 680 1059 681C1061 682 1062 684 1062 686C1063 689 1063 693 1061 695C1059 697 1055 699 1052 700C1050 700 1046 700 1044 699Z"/>
<path d="M1091,809C1089 809 1087 807 1086 805C1084 803 1081 799 1082 797C1083 795 1086 792 1089 791C1092 790 1096 792 1098 793C1100 795 1102 797 1102 799C1102 801 1100 802 1099 804C1098 805 1099 807 1097 808C1096 809 1093 810 1091 809Z"/>
<path d="M1344,991C1343 992 1341 993 1340 992C1338 992 1336 990 1336 989C1335 987 1336 985 1337 984C1338 983 1340 983 1341 983C1342 983 1342 984 1343 984C1344 984 1345 984 1346 985C1346 985 1347 987 1346 988C1346 989 1345 990 1344 991Z" stroke-width="1.3"/>
<path d="M1284,860C1284 859 1284 858 1284 857C1285 855 1285 852 1287 851C1289 850 1294 849 1296 850C1298 850 1301 853 1301 855C1301 857 1299 859 1297 861C1295 863 1294 864 1292 864C1290 865 1286 866 1285 866C1284 865 1284 862 1284 860Z"/>
<path d="M1343,914C1343 915 1339 916 1337 916C1335 917 1332 916 1331 915C1329 914 1328 913 1327 911C1327 909 1325 907 1326 905C1327 903 1329 899 1331 899C1333 899 1336 902 1337 903C1339 905 1340 905 1342 907C1343 909 1344 912 1343 914Z"/>
<path d="M1378,622C1377 623 1375 624 1374 624C1373 624 1373 623 1372 622C1371 622 1370 622 1369 622C1369 621 1369 619 1370 618C1370 617 1371 616 1372 615C1373 614 1375 613 1376 613C1377 613 1378 616 1378 617C1378 618 1378 620 1378 622Z" stroke-width="1.3"/>
<path d="M1044,618C1042 617 1040 615 1039 612C1039 610 1039 605 1041 603C1042 601 1046 599 1049 599C1051 599 1055 602 1056 603C1056 605 1054 608 1054 610C1053 612 1054 611 1053 613C1053 614 1052 618 1051 619C1049 620 1046 619 1044 618Z"/>
<path d="M1146,927C1144 927 1142 927 1141 926C1140 924 1140 921 1140 919C1140 916 1141 914 1142 912C1143 911 1144 910 1146 910C1147 910 1148 912 1150 913C1151 915 1152 917 1152 919C1152 921 1151 923 1150 925C1149 926 1147 927 1146 927Z"/>
<path d="M973,740C971 739 969 738 968 736C967 735 967 733 967 731C968 730 969 728 971 728C972 727 975 728 977 728C978 729 980 731 980 732C981 733 981 735 981 736C981 737 980 739 979 740C977 740 975 741 973 740Z"/>
<path d="M1092,785C1089 782 1088 775 1088 771C1089 768 1094 766 1096 764C1099 763 1101 763 1104 763C1107 763 1110 763 1112 765C1114 767 1116 771 1117 773C1117 776 1116 779 1114 781C1112 784 1110 788 1106 788C1103 789 1095 788 1092 785Z"/>
<path d="M1405,922C1405 923 1404 925 1402 926C1401 926 1399 926 1397 925C1396 924 1395 923 1395 922C1394 921 1394 920 1394 919C1395 918 1395 916 1396 916C1397 915 1399 915 1401 916C1402 916 1403 918 1403 919C1404 920 1405 921 1405 922Z" stroke-width="1.3"/>
<path d="M1383,692C1383 690 1386 689 1387 688C1388 688 1388 687 1389 686C1390 686 1391 686 1392 687C1393 687 1395 687 1395 688C1396 689 1398 691 1397 693C1396 694 1394 695 1392 696C1390 697 1387 697 1385 696C1384 696 1383 693 1383 692Z" stroke-width="1.3"/>
<path d="M1332,565C1332 565 1331 565 1330 565C1329 565 1328 564 1328 563C1327 563 1326 561 1326 560C1326 560 1327 559 1328 558C1328 558 1329 558 1330 558C1331 558 1332 559 1333 560C1333 561 1334 562 1333 563C1333 564 1333 565 1332 565Z" stroke-width="1.3"/>
<path d="M1117,1021C1116 1020 1115 1019 1116 1018C1117 1016 1118 1014 1120 1014C1121 1014 1123 1015 1124 1015C1125 1016 1125 1017 1126 1018C1126 1019 1126 1020 1126 1021C1126 1022 1125 1024 1124 1025C1122 1025 1120 1025 1119 1025C1118 1024 1117 1023 1117 1021Z" stroke-width="1.3"/>
<path d="M1355,912C1354 911 1352 911 1352 909C1352 908 1352 906 1353 905C1354 903 1356 901 1358 901C1359 901 1362 902 1362 904C1363 905 1362 907 1362 908C1361 910 1361 911 1361 912C1360 913 1358 914 1357 914C1356 914 1356 912 1355 912Z" stroke-width="1.3"/>
<path d="M1389,946C1389 946 1389 945 1389 944C1389 943 1389 943 1390 942C1390 941 1391 940 1392 940C1393 940 1394 942 1395 942C1396 943 1397 945 1397 946C1397 947 1396 949 1395 949C1394 950 1393 949 1392 948C1391 948 1390 947 1389 946Z" stroke-width="1.3"/>
<path d="M1004,593C1004 595 1003 596 1002 597C1000 598 999 600 997 600C995 600 992 600 990 599C989 598 988 594 988 592C989 590 991 588 993 587C995 585 997 583 999 583C1001 583 1004 585 1005 586C1006 588 1005 591 1004 593Z"/>
<path d="M1407,860C1406 861 1405 862 1404 862C1402 862 1400 861 1399 861C1398 860 1398 858 1398 857C1398 856 1399 856 1399 855C1400 854 1400 853 1401 853C1401 853 1403 853 1404 854C1405 854 1405 855 1406 856C1406 857 1407 859 1407 860Z" stroke-width="1.3"/>
<path d="M1194,998C1194 996 1195 994 1195 993C1196 992 1198 994 1200 994C1201 994 1201 993 1202 993C1203 993 1205 994 1206 995C1207 996 1206 999 1206 1001C1205 1002 1203 1004 1202 1004C1201 1005 1199 1003 1198 1002C1196 1001 1195 1000 1194 998Z" stroke-width="1.3"/>
<path d="M1271,999C1270 999 1269 998 1268 996C1268 995 1267 993 1268 992C1268 991 1270 989 1271 989C1272 989 1274 989 1275 990C1276 991 1277 992 1277 993C1277 994 1277 995 1276 996C1276 997 1276 998 1275 999C1274 999 1272 1000 1271 999Z" stroke-width="1.3"/>
<path d="M1127,540C1127 539 1127 538 1128 536C1129 534 1130 532 1132 531C1134 530 1137 531 1139 532C1140 533 1140 535 1140 537C1140 539 1141 540 1140 542C1139 543 1137 544 1135 544C1133 544 1132 544 1130 543C1129 543 1127 542 1127 540Z"/>
<path d="M1174,710C1172 712 1168 713 1166 712C1164 711 1162 706 1161 703C1161 701 1163 699 1164 697C1164 695 1165 693 1166 692C1168 692 1170 692 1172 693C1173 694 1174 695 1176 697C1177 699 1178 701 1178 703C1178 706 1176 709 1174 710Z"/>
<path d="M1269,562C1268 563 1266 562 1264 562C1263 561 1262 561 1261 560C1260 559 1259 557 1259 556C1259 555 1261 555 1262 554C1263 554 1264 553 1265 553C1266 553 1268 553 1269 554C1270 555 1271 557 1271 558C1271 560 1270 562 1269 562Z" stroke-width="1.3"/>
<path d="M918,799C917 800 917 801 916 802C915 803 913 805 912 805C910 805 908 804 907 802C906 801 907 798 908 797C908 796 910 796 911 795C912 794 913 793 914 793C915 793 917 794 918 795C918 796 918 798 918 799Z" stroke-width="1.3"/>
<path d="M1142,778C1141 780 1138 782 1135 782C1132 782 1127 781 1125 778C1123 776 1121 771 1121 768C1122 766 1125 763 1127 762C1129 761 1132 762 1134 762C1136 763 1138 763 1140 765C1141 766 1143 768 1144 771C1144 773 1144 776 1142 778Z"/>
<path d="M974,578C973 578 971 578 970 577C970 577 969 575 969 575C969 574 969 572 970 572C971 571 973 571 973 571C974 571 975 571 976 572C977 572 977 573 977 574C977 575 977 576 976 576C976 577 975 578 974 578Z" stroke-width="1.3"/>
<path d="M1291,678C1289 680 1287 681 1285 680C1283 679 1280 676 1279 674C1278 673 1279 670 1279 668C1280 667 1281 666 1282 665C1283 665 1284 665 1285 666C1287 666 1288 667 1289 668C1290 669 1292 671 1293 673C1293 675 1292 677 1291 678Z"/>
<path d="M1015,603C1014 602 1013 601 1013 599C1013 598 1013 597 1014 596C1015 595 1015 595 1016 594C1017 594 1018 593 1019 593C1021 593 1023 594 1024 595C1025 596 1024 599 1023 600C1022 601 1021 601 1019 602C1018 603 1016 603 1015 603Z" stroke-width="1.3"/>
<path d="M1328,832C1327 832 1325 832 1324 832C1322 832 1320 831 1319 829C1319 828 1318 826 1318 824C1319 822 1321 820 1323 819C1324 818 1327 817 1330 818C1332 819 1334 821 1335 823C1336 824 1334 828 1333 829C1332 831 1330 831 1328 832Z"/>
<path d="M1008,792C1006 791 1005 788 1005 786C1005 785 1007 784 1007 783C1008 781 1008 780 1009 780C1011 779 1013 779 1015 780C1016 780 1019 782 1019 784C1020 785 1020 787 1020 789C1019 790 1018 792 1016 793C1014 793 1010 794 1008 792Z"/>
<path d="M1299,976C1299 977 1297 980 1296 981C1295 982 1292 983 1291 982C1290 981 1289 979 1289 977C1288 976 1288 975 1289 974C1289 973 1289 971 1290 970C1291 970 1292 971 1293 972C1294 972 1295 971 1296 972C1297 973 1299 974 1299 976Z" stroke-width="1.3"/>
<path d="M1237,816C1235 817 1233 818 1231 818C1228 819 1222 820 1220 818C1219 816 1220 810 1221 808C1223 805 1226 805 1229 803C1232 802 1234 800 1236 800C1238 800 1241 803 1242 805C1243 807 1242 810 1241 812C1241 814 1238 815 1237 816Z"/>
<path d="M925,639C925 638 926 637 927 636C928 635 929 634 930 634C931 634 932 635 932 635C933 636 934 636 934 637C935 637 936 639 935 640C935 641 933 642 931 643C930 643 927 643 925 643C924 642 925 640 925 639Z" stroke-width="1.3"/>
<path d="M1230,1024C1229 1023 1229 1023 1228 1022C1228 1022 1228 1021 1228 1020C1228 1019 1228 1018 1228 1017C1229 1016 1230 1014 1231 1014C1232 1014 1233 1016 1233 1018C1234 1019 1234 1020 1234 1021C1233 1022 1233 1024 1232 1024C1232 1025 1230 1024 1230 1024Z" stroke-width="1.3"/>
<path d="M1184,1028C1184 1027 1185 1026 1186 1025C1187 1024 1189 1024 1190 1024C1192 1024 1193 1024 1194 1025C1195 1025 1195 1026 1195 1027C1195 1027 1195 1028 1194 1029C1193 1029 1193 1030 1192 1030C1190 1031 1188 1031 1187 1031C1186 1031 1184 1029 1184 1028Z" stroke-width="1.3"/>
<path d="M1233,563C1233 565 1231 567 1229 567C1228 568 1226 569 1224 568C1222 568 1220 566 1219 565C1219 563 1219 561 1219 559C1220 558 1221 556 1222 555C1224 554 1226 554 1227 554C1229 554 1231 556 1232 557C1233 559 1234 561 1233 563Z"/>
<path d="M1125,607C1124 606 1121 602 1122 601C1122 599 1125 597 1126 597C1128 596 1130 597 1131 598C1133 599 1134 599 1134 600C1135 601 1136 603 1136 604C1136 605 1136 607 1135 608C1134 609 1132 609 1131 608C1129 608 1127 608 1125 607Z"/>
<path d="M1088,522C1088 521 1088 520 1088 519C1088 519 1088 518 1088 517C1088 516 1089 514 1090 514C1091 513 1093 513 1093 514C1094 515 1094 516 1094 517C1094 518 1094 520 1093 521C1093 521 1091 522 1090 523C1089 523 1088 522 1088 522Z" stroke-width="1.3"/>
<path d="M1342,574C1341 574 1339 574 1339 573C1338 573 1337 571 1338 570C1338 569 1339 568 1340 567C1340 566 1341 566 1342 566C1343 566 1345 565 1346 566C1348 567 1350 569 1350 570C1350 572 1347 574 1346 575C1345 575 1343 575 1342 574Z" stroke-width="1.3"/>
<path d="M1208,1015C1207 1016 1205 1015 1204 1015C1203 1014 1202 1013 1202 1012C1201 1011 1201 1009 1202 1008C1203 1008 1205 1007 1206 1007C1208 1007 1209 1007 1210 1008C1211 1008 1211 1010 1211 1010C1211 1011 1211 1012 1210 1013C1210 1013 1209 1015 1208 1015Z" stroke-width="1.3"/>
<path d="M1163,874C1162 876 1161 880 1159 880C1158 881 1155 879 1154 878C1152 877 1152 878 1151 877C1150 876 1147 875 1146 873C1146 871 1146 868 1148 865C1149 863 1152 860 1155 860C1157 860 1161 863 1162 865C1163 868 1163 872 1163 874Z"/>
<path d="M1203,559C1202 561 1199 564 1197 564C1194 565 1191 564 1189 562C1188 561 1187 558 1187 556C1187 554 1187 553 1188 551C1189 550 1190 548 1191 547C1193 546 1196 545 1197 546C1199 547 1202 548 1203 551C1203 553 1204 556 1203 559Z"/>
<path d="M1364,978C1363 978 1361 979 1360 978C1359 978 1359 976 1359 975C1359 974 1360 973 1361 973C1362 972 1364 972 1365 972C1366 972 1368 973 1368 974C1369 974 1369 976 1369 977C1368 977 1367 977 1366 978C1365 978 1365 978 1364 978Z" stroke-width="1.3"/>
<path d="M1222,927C1221 925 1222 922 1222 920C1223 919 1224 917 1225 916C1227 915 1229 915 1231 916C1232 917 1234 919 1235 921C1235 923 1236 925 1236 927C1236 929 1234 931 1232 932C1231 932 1229 932 1227 931C1225 930 1223 929 1222 927Z"/>
<path d="M1186,517C1185 517 1184 519 1183 519C1181 519 1180 517 1179 516C1179 515 1180 514 1181 513C1181 512 1181 510 1182 510C1183 509 1185 509 1186 509C1187 509 1188 511 1188 512C1188 512 1188 513 1188 514C1188 515 1187 516 1186 517Z" stroke-width="1.3"/>
<path d="M1378,968C1378 969 1377 969 1376 970C1375 970 1373 971 1372 971C1371 971 1370 969 1370 968C1370 967 1370 966 1371 965C1372 964 1373 964 1373 963C1374 963 1375 963 1376 963C1377 963 1379 963 1379 964C1380 965 1379 967 1378 968Z" stroke-width="1.3"/>
<path d="M1173,544C1172 545 1171 545 1169 546C1168 546 1165 546 1164 545C1163 544 1163 542 1163 540C1164 539 1166 538 1167 537C1168 536 1169 536 1171 536C1172 535 1174 535 1175 536C1176 537 1177 539 1177 540C1176 542 1174 543 1173 544Z" stroke-width="1.3"/>
<path d="M1058,521C1058 521 1057 522 1056 522C1055 522 1054 522 1053 522C1052 521 1051 520 1051 519C1050 518 1050 517 1050 517C1050 516 1051 515 1052 515C1053 515 1055 515 1056 516C1057 517 1057 517 1058 518C1058 519 1059 520 1058 521Z" stroke-width="1.3"/>
<path d="M1071,583C1071 584 1068 583 1067 583C1066 583 1064 582 1063 581C1062 580 1062 578 1062 577C1062 576 1063 575 1064 574C1065 573 1066 572 1067 572C1069 572 1069 574 1070 576C1071 577 1072 578 1072 579C1072 580 1072 582 1071 583Z" stroke-width="1.3"/>
<path d="M1156,534C1156 534 1154 535 1153 535C1152 536 1152 536 1151 536C1149 536 1147 536 1146 535C1145 534 1145 532 1146 531C1146 530 1148 530 1149 529C1150 528 1151 527 1153 528C1154 528 1156 529 1156 530C1157 531 1157 533 1156 534Z" stroke-width="1.3"/>
<path d="M1288,894C1287 893 1287 891 1287 890C1287 888 1288 886 1289 885C1291 884 1293 883 1294 883C1296 883 1297 884 1298 885C1299 886 1301 888 1301 890C1301 891 1299 893 1298 894C1297 895 1295 895 1293 895C1292 895 1289 895 1288 894Z"/>
<path d="M1014,978C1014 979 1014 982 1013 983C1012 983 1010 983 1009 982C1008 982 1007 981 1007 980C1006 979 1007 978 1007 976C1007 975 1007 974 1007 972C1008 971 1010 969 1011 969C1012 969 1013 972 1013 973C1014 975 1014 976 1014 978Z" stroke-width="1.3"/>
<path d="M965,647C963 646 962 642 962 640C961 638 962 635 963 634C964 632 966 631 968 630C970 629 972 627 974 628C976 628 978 631 978 633C979 635 977 637 976 639C975 642 974 644 972 645C971 647 967 647 965 647Z"/>
<path d="M1256,972C1256 973 1255 974 1253 975C1252 975 1250 977 1249 976C1247 976 1245 974 1245 973C1244 971 1245 969 1245 968C1246 966 1246 964 1248 963C1249 963 1252 965 1253 966C1254 967 1254 968 1254 969C1255 970 1256 971 1256 972Z" stroke-width="1.3"/>
<path d="M1403,906C1403 907 1402 908 1401 908C1400 908 1399 906 1399 905C1399 904 1400 903 1400 902C1401 901 1402 900 1403 900C1404 900 1405 901 1406 902C1407 902 1407 904 1407 905C1407 906 1406 907 1405 907C1404 907 1404 906 1403 906Z" stroke-width="1.3"/>
<path d="M1102,1023C1102 1022 1103 1020 1103 1020C1104 1019 1105 1018 1105 1017C1106 1017 1107 1018 1108 1018C1109 1018 1111 1019 1111 1020C1112 1021 1112 1023 1112 1024C1111 1025 1109 1025 1108 1026C1107 1026 1105 1026 1104 1026C1103 1025 1102 1024 1102 1023Z" stroke-width="1.3"/>
<path d="M1238,986C1237 987 1235 989 1233 989C1232 989 1229 988 1228 987C1227 986 1226 984 1225 983C1225 981 1224 979 1225 978C1225 977 1228 977 1229 977C1230 977 1232 978 1233 978C1234 979 1236 980 1237 981C1238 982 1238 984 1238 986Z"/>
<path d="M980,761C978 760 976 760 974 758C973 757 973 755 973 753C973 752 975 751 977 750C978 749 979 748 981 748C982 748 985 748 986 749C988 750 988 753 988 755C988 756 987 758 985 759C984 760 982 761 980 761Z"/>
<path d="M1008,958C1007 957 1006 954 1007 953C1007 951 1008 950 1009 949C1010 949 1012 949 1013 950C1015 951 1016 952 1016 953C1017 955 1016 956 1016 957C1016 958 1016 959 1015 959C1015 960 1014 961 1012 961C1011 961 1009 960 1008 958Z" stroke-width="1.3"/>
<path d="M1396,937C1395 937 1395 936 1395 935C1395 934 1395 933 1396 932C1396 931 1398 931 1398 930C1399 930 1400 931 1400 931C1401 931 1401 932 1401 933C1401 934 1401 935 1401 936C1400 936 1399 937 1398 937C1397 938 1396 938 1396 937Z" stroke-width="1.3"/>
<path d="M998,939C997 939 996 937 995 935C994 934 993 932 993 930C994 929 995 927 997 927C999 926 1002 926 1004 926C1005 927 1008 929 1009 931C1009 933 1009 935 1008 936C1007 938 1007 940 1005 940C1003 941 1000 940 998 939Z"/>
<path d="M1290,926C1289 924 1288 922 1288 920C1288 919 1291 917 1292 917C1293 917 1295 918 1296 920C1298 921 1301 922 1302 924C1302 926 1301 930 1300 931C1298 933 1296 933 1294 932C1293 932 1292 930 1291 929C1290 928 1290 927 1290 926Z"/>
<path d="M1290,813C1290 811 1289 808 1290 806C1291 805 1294 803 1296 803C1298 803 1299 806 1301 807C1302 808 1302 809 1303 810C1303 812 1304 813 1304 815C1303 817 1302 819 1300 820C1298 820 1296 819 1294 818C1292 817 1291 815 1290 813Z"/>
<path d="M1261,863C1260 864 1259 865 1257 865C1256 866 1254 867 1253 866C1251 866 1248 864 1248 863C1247 861 1247 858 1248 856C1249 853 1252 850 1254 850C1256 849 1259 850 1261 852C1262 853 1262 856 1262 858C1262 860 1262 861 1261 863Z"/>
<path d="M1401,807C1400 807 1399 807 1399 806C1398 806 1397 805 1397 804C1397 803 1398 802 1399 802C1399 801 1400 801 1401 801C1402 800 1404 799 1405 800C1406 800 1407 803 1407 804C1407 805 1406 807 1405 807C1404 808 1402 808 1401 807Z" stroke-width="1.3"/>
<path d="M1062,633C1061 633 1059 633 1058 632C1057 631 1056 628 1057 626C1057 624 1058 620 1059 619C1061 618 1064 619 1065 619C1067 620 1067 623 1067 625C1068 626 1068 627 1068 628C1068 630 1067 631 1066 632C1065 632 1063 633 1062 633Z"/>
<path d="M1375,639C1374 638 1375 637 1376 636C1376 635 1378 635 1379 634C1380 634 1381 634 1382 634C1383 634 1384 635 1384 635C1385 636 1385 637 1384 638C1384 639 1382 641 1381 641C1380 642 1378 642 1377 641C1376 641 1375 640 1375 639Z" stroke-width="1.3"/>
<path d="M979,694C977 693 975 690 975 688C975 686 976 685 976 683C977 681 977 678 978 677C980 677 982 677 983 678C985 679 986 680 987 681C987 682 988 685 988 686C987 688 986 689 984 691C983 692 980 694 979 694Z"/>
<path d="M1050,551C1049 551 1047 551 1046 551C1045 550 1044 549 1044 549C1043 548 1043 548 1043 547C1042 546 1041 545 1041 544C1042 543 1043 541 1044 541C1045 541 1047 542 1048 543C1050 544 1051 546 1051 547C1051 548 1051 550 1050 551Z" stroke-width="1.3"/>
<path d="M1022,995C1022 995 1020 994 1020 994C1019 993 1019 991 1019 990C1019 989 1020 988 1021 988C1021 987 1023 986 1024 986C1025 986 1026 987 1027 988C1027 989 1026 991 1026 991C1025 992 1025 993 1025 993C1024 994 1023 995 1022 995Z" stroke-width="1.3"/>
<path d="M1292,612C1291 611 1291 609 1291 607C1291 605 1293 603 1294 602C1296 602 1298 604 1299 604C1301 605 1301 605 1302 607C1303 608 1305 610 1305 611C1304 613 1302 614 1301 615C1299 616 1297 616 1295 615C1294 615 1293 613 1292 612Z"/>
<path d="M1188,986C1187 987 1185 988 1184 987C1182 987 1181 984 1181 982C1180 980 1180 978 1180 977C1180 975 1181 972 1182 972C1183 971 1186 972 1187 973C1188 975 1189 977 1190 978C1190 980 1190 982 1190 983C1190 984 1189 986 1188 986Z"/>
<path d="M1389,845C1387 844 1385 843 1384 841C1383 840 1382 837 1383 836C1384 834 1387 834 1389 834C1391 834 1393 835 1394 836C1396 837 1398 838 1399 840C1399 841 1400 844 1399 845C1398 846 1396 847 1394 847C1392 847 1390 846 1389 845Z"/>
<path d="M949,668C947 669 945 668 944 668C943 668 942 668 941 668C940 667 939 666 939 665C939 664 939 663 940 662C941 660 941 659 943 658C944 657 947 656 949 657C950 657 952 660 952 662C952 664 950 666 949 668Z" stroke-width="1.3"/>
<path d="M1334,673C1334 674 1333 676 1331 677C1330 677 1327 676 1326 675C1324 675 1322 673 1322 671C1321 670 1323 669 1324 668C1325 667 1325 666 1326 666C1327 665 1330 665 1331 665C1332 666 1333 668 1333 669C1334 670 1335 672 1334 673Z" stroke-width="1.3"/>
<path d="M1329,805C1328 804 1327 802 1327 801C1327 800 1328 798 1329 797C1331 796 1332 796 1334 796C1335 796 1339 796 1340 797C1341 798 1342 802 1341 804C1341 806 1339 808 1338 809C1336 810 1333 810 1332 810C1330 809 1329 807 1329 805Z"/>
<path d="M1174,1033C1173 1033 1172 1033 1171 1033C1170 1032 1169 1032 1168 1031C1168 1031 1167 1029 1167 1028C1168 1027 1168 1026 1169 1025C1170 1025 1171 1024 1172 1024C1173 1025 1173 1027 1174 1028C1175 1029 1175 1030 1175 1031C1175 1031 1175 1033 1174 1033Z" stroke-width="1.3"/>
<path d="M1346,712C1345 713 1343 714 1341 714C1340 714 1339 712 1338 711C1338 710 1338 709 1339 708C1339 707 1338 706 1339 705C1340 704 1341 701 1342 701C1344 700 1346 701 1347 702C1348 703 1348 705 1348 707C1348 708 1347 710 1346 712Z" stroke-width="1.3"/>
<path d="M1028,767C1027 769 1025 770 1023 770C1021 770 1018 771 1016 770C1014 769 1012 765 1012 763C1012 761 1014 758 1015 757C1017 756 1019 756 1021 756C1023 756 1025 755 1027 756C1029 757 1032 760 1032 762C1032 764 1029 766 1028 767Z"/>
<path d="M1097,960C1097 959 1097 957 1098 956C1099 954 1100 952 1102 951C1103 950 1107 950 1108 950C1110 950 1111 952 1111 954C1112 955 1111 957 1110 958C1109 960 1108 962 1107 963C1105 963 1102 964 1100 964C1098 963 1098 961 1097 960Z"/>
<path d="M951,826C951 827 950 828 949 829C948 830 946 830 944 830C943 829 942 828 941 827C940 826 938 825 938 824C938 823 939 821 941 821C942 820 944 821 946 821C948 822 950 822 951 823C951 824 952 825 951 826Z" stroke-width="1.3"/>
<path d="M1375,784C1374 785 1371 785 1370 784C1368 784 1366 783 1365 782C1365 781 1364 779 1364 778C1364 776 1365 775 1366 774C1367 773 1369 772 1370 772C1372 772 1373 773 1374 774C1375 775 1377 777 1377 778C1377 780 1376 783 1375 784Z"/>
<path d="M971,929C971 931 972 932 971 933C970 934 969 936 967 937C966 937 964 936 963 935C962 934 961 931 961 929C961 927 963 926 964 925C965 924 967 924 968 924C969 924 970 925 971 926C971 927 971 928 971 929Z" stroke-width="1.3"/>
<path d="M968,886C967 886 966 886 965 886C964 886 962 887 960 886C959 885 958 883 958 882C958 880 959 879 960 878C961 877 963 876 964 876C965 876 967 877 968 878C970 879 971 881 971 882C971 883 969 885 968 886Z" stroke-width="1.3"/>
<path d="M1029,644C1028 645 1027 646 1026 647C1024 647 1023 646 1022 646C1021 645 1019 645 1019 644C1018 643 1017 641 1017 639C1017 638 1019 635 1020 634C1022 633 1025 633 1026 634C1028 635 1028 637 1029 639C1029 640 1030 642 1029 644Z"/>
<path d="M1179,613C1178 614 1176 614 1174 615C1173 615 1170 616 1169 615C1167 614 1166 612 1166 610C1165 608 1166 606 1167 605C1168 603 1170 602 1171 602C1173 602 1175 604 1176 605C1178 606 1180 607 1180 609C1181 610 1180 612 1179 613Z"/>
<path d="M1051,668C1050 667 1050 666 1049 665C1048 664 1046 662 1046 661C1046 660 1048 658 1049 657C1051 657 1054 658 1056 658C1058 659 1061 660 1063 662C1064 664 1065 667 1064 669C1063 670 1059 671 1057 670C1055 670 1053 669 1051 668Z"/>
<path d="M1004,842C1003 842 1001 842 1000 842C999 841 999 839 998 837C998 836 998 834 998 833C998 831 998 827 1000 826C1001 825 1004 827 1006 828C1008 829 1009 832 1009 834C1009 836 1009 839 1008 840C1007 841 1005 842 1004 842Z"/>
<path d="M1315,566C1314 566 1313 567 1312 567C1311 566 1311 565 1311 564C1310 563 1310 562 1311 561C1311 560 1313 558 1314 558C1315 558 1316 559 1317 560C1318 561 1319 562 1319 562C1319 563 1318 564 1317 565C1316 565 1316 566 1315 566Z" stroke-width="1.3"/>
<path d="M1292,732C1290 731 1289 728 1288 727C1288 726 1289 725 1290 723C1290 722 1290 721 1292 720C1293 719 1296 718 1298 718C1300 719 1301 722 1302 724C1302 726 1301 727 1301 729C1300 730 1299 732 1298 733C1296 733 1293 733 1292 732Z"/>
<path d="M1394,737C1393 738 1392 738 1391 737C1390 737 1389 736 1388 735C1388 734 1387 733 1387 732C1387 731 1388 730 1389 729C1389 729 1391 728 1392 728C1393 728 1395 730 1395 730C1396 731 1396 733 1396 734C1395 735 1395 737 1394 737Z" stroke-width="1.3"/>
<path d="M1371,815C1370 816 1368 818 1367 818C1365 818 1363 816 1362 815C1361 814 1359 813 1359 811C1359 810 1359 808 1360 806C1361 805 1363 804 1364 804C1366 804 1368 805 1369 806C1370 807 1370 809 1370 810C1370 811 1371 813 1371 815Z"/>
<path d="M1328,599C1327 599 1326 599 1326 598C1325 598 1325 597 1325 596C1324 595 1323 594 1323 593C1324 591 1326 590 1327 590C1328 590 1330 591 1331 591C1332 592 1333 594 1333 595C1333 596 1332 597 1331 598C1330 598 1329 598 1328 599Z" stroke-width="1.3"/>
<path d="M1370,958C1368 958 1367 957 1366 957C1365 956 1366 955 1366 954C1367 953 1367 953 1368 953C1369 952 1370 952 1370 952C1371 952 1372 953 1372 953C1373 954 1374 954 1375 955C1375 956 1374 957 1373 958C1372 958 1371 958 1370 958Z" stroke-width="1.3"/>
<path d="M1066,538C1065 537 1064 537 1064 536C1063 535 1064 533 1064 532C1065 531 1067 532 1068 532C1069 532 1070 532 1071 532C1072 532 1073 533 1073 535C1074 536 1073 537 1073 538C1072 539 1070 540 1069 540C1068 540 1067 538 1066 538Z" stroke-width="1.3"/>
<path d="M1097,715C1096 712 1097 708 1097 706C1098 704 1101 703 1103 702C1105 701 1107 702 1109 703C1111 704 1114 705 1115 708C1117 710 1117 715 1116 717C1115 719 1112 719 1110 720C1108 720 1106 721 1104 720C1102 719 1098 717 1097 715Z"/>
<path d="M1234,521C1234 522 1233 523 1232 523C1231 524 1230 523 1229 523C1228 522 1227 522 1226 521C1226 521 1225 520 1225 519C1225 518 1225 516 1226 516C1227 516 1229 516 1230 516C1231 517 1232 518 1232 519C1233 520 1234 520 1234 521Z" stroke-width="1.3"/>
<path d="M1278,536C1278 536 1277 535 1277 534C1277 533 1277 532 1278 531C1279 530 1280 529 1280 530C1281 530 1282 531 1282 531C1283 532 1283 532 1284 533C1284 534 1284 535 1284 536C1284 536 1282 537 1281 537C1280 537 1279 537 1278 536Z" stroke-width="1.3"/>
<path d="M1128,974C1127 973 1126 971 1126 970C1127 968 1128 966 1129 966C1130 965 1132 965 1134 965C1135 965 1138 965 1139 966C1140 967 1140 970 1139 971C1139 972 1136 973 1135 974C1134 974 1133 975 1132 975C1131 975 1129 975 1128 974Z" stroke-width="1.3"/>
<path d="M1143,572C1141 572 1139 572 1138 572C1137 571 1136 569 1136 568C1136 567 1137 566 1138 565C1138 564 1140 563 1141 562C1142 562 1144 563 1145 563C1146 564 1148 565 1148 566C1149 567 1149 570 1148 571C1147 571 1144 572 1143 572Z" stroke-width="1.3"/>
<path d="M1286,942C1286 941 1285 940 1286 939C1287 938 1289 937 1291 937C1292 937 1294 938 1295 939C1296 940 1297 941 1297 942C1297 943 1297 944 1296 946C1295 947 1293 948 1291 948C1290 948 1287 947 1286 946C1286 945 1286 944 1286 942Z" stroke-width="1.3"/>
<path d="M1414,783C1413 782 1413 781 1413 780C1413 779 1413 777 1413 776C1414 776 1416 776 1417 776C1418 777 1418 777 1419 778C1420 779 1421 780 1421 781C1421 781 1420 783 1420 784C1419 784 1417 785 1416 785C1415 784 1414 783 1414 783Z" stroke-width="1.3"/>
<path d="M1288,993C1287 993 1286 992 1285 991C1284 990 1283 989 1283 988C1284 987 1285 986 1286 986C1287 985 1289 985 1290 986C1291 986 1292 988 1293 989C1293 989 1292 990 1292 991C1292 992 1292 993 1291 993C1291 994 1289 994 1288 993Z" stroke-width="1.3"/>
<path d="M1368,606C1368 605 1368 604 1369 603C1369 602 1370 601 1371 601C1372 601 1373 601 1374 602C1374 602 1375 603 1375 604C1375 605 1374 605 1374 606C1373 606 1373 607 1373 608C1372 608 1371 609 1370 609C1369 608 1368 607 1368 606Z" stroke-width="1.3"/>
<path d="M1329,1002C1328 1002 1326 1002 1325 1002C1324 1001 1325 998 1325 997C1325 995 1326 994 1327 993C1328 993 1329 993 1330 993C1331 993 1332 994 1333 994C1334 995 1335 997 1335 998C1335 999 1333 1000 1332 1001C1331 1002 1330 1002 1329 1002Z" stroke-width="1.3"/>
<path d="M939,770C938 770 937 769 937 769C937 768 937 766 938 765C938 764 939 762 940 762C942 761 944 760 945 761C946 761 947 763 948 765C948 766 948 769 947 770C946 771 944 772 942 772C941 772 940 771 939 770Z" stroke-width="1.3"/>
<path d="M904,778C904 777 902 775 903 774C904 773 907 772 909 772C911 772 913 772 915 773C916 774 917 776 916 777C916 778 914 779 913 780C912 781 911 781 910 781C909 781 907 780 907 780C906 779 905 779 904 778Z" stroke-width="1.3"/>
<path d="M1047,977C1046 977 1045 976 1044 975C1044 974 1043 973 1043 972C1043 971 1043 968 1044 968C1045 967 1048 967 1049 968C1051 968 1052 970 1053 971C1054 972 1053 974 1053 974C1052 975 1051 976 1050 976C1049 977 1048 977 1047 977Z" stroke-width="1.3"/>
<path d="M1309,1014C1309 1015 1306 1014 1305 1014C1304 1014 1304 1014 1303 1014C1302 1013 1301 1012 1301 1012C1301 1011 1302 1010 1302 1010C1302 1009 1303 1008 1303 1008C1304 1008 1305 1008 1306 1009C1307 1009 1308 1010 1308 1011C1309 1011 1310 1013 1309 1014Z" stroke-width="1.3"/>
<path d="M1068,563C1068 564 1066 566 1065 567C1065 567 1064 567 1063 567C1062 568 1060 568 1060 567C1059 566 1058 564 1058 563C1058 561 1059 560 1060 559C1061 558 1062 557 1063 557C1064 557 1066 557 1066 558C1067 560 1068 562 1068 563Z" stroke-width="1.3"/>
<path d="M1051,989C1051 987 1052 986 1052 985C1053 984 1054 984 1055 984C1056 984 1057 985 1058 986C1058 986 1060 987 1060 988C1061 989 1061 991 1060 992C1060 993 1058 994 1057 995C1055 995 1053 995 1052 994C1051 993 1051 990 1051 989Z" stroke-width="1.3"/>
<path d="M1139,833C1137 832 1135 832 1134 831C1133 829 1130 827 1130 825C1130 822 1132 819 1134 818C1136 817 1139 817 1142 818C1144 818 1146 819 1148 821C1150 823 1151 826 1151 829C1150 831 1147 834 1145 835C1143 835 1141 834 1139 833Z"/>
<path d="M1376,907C1375 908 1375 910 1374 910C1373 910 1371 910 1370 909C1369 908 1368 907 1368 906C1368 905 1369 904 1370 904C1370 903 1371 903 1372 903C1372 903 1373 901 1374 902C1375 902 1377 903 1377 904C1377 905 1376 906 1376 907Z" stroke-width="1.3"/>
<path d="M1374,925C1373 925 1372 925 1371 924C1371 923 1371 922 1371 921C1371 920 1370 919 1371 918C1371 917 1372 916 1373 916C1374 916 1375 917 1375 918C1376 918 1377 920 1377 921C1377 922 1376 923 1375 923C1375 924 1374 925 1374 925Z" stroke-width="1.3"/>
<path d="M1320,957C1319 958 1319 959 1318 960C1318 961 1316 962 1315 962C1314 962 1313 960 1312 959C1312 958 1311 957 1311 956C1311 955 1312 954 1313 953C1314 953 1315 952 1316 952C1317 952 1319 952 1320 953C1320 953 1320 955 1320 957Z" stroke-width="1.3"/>
<path d="M1398,792C1398 791 1397 790 1397 789C1398 789 1398 787 1399 787C1400 786 1401 787 1403 787C1404 788 1405 788 1406 789C1406 790 1407 792 1406 793C1406 794 1404 795 1402 795C1401 795 1400 795 1399 794C1399 794 1398 793 1398 792Z" stroke-width="1.3"/>
<path d="M955,604C954 605 952 605 951 605C949 605 947 605 946 604C945 603 944 600 944 599C944 598 946 597 947 597C948 596 948 596 949 596C950 596 952 596 953 596C954 597 956 599 956 600C957 602 956 603 955 604Z" stroke-width="1.3"/>
<path d="M1035,545C1034 546 1033 547 1033 547C1032 547 1030 547 1029 547C1028 547 1026 546 1025 545C1025 544 1024 542 1024 541C1025 540 1026 539 1027 538C1028 538 1031 539 1032 539C1033 540 1034 541 1034 542C1035 543 1035 544 1035 545Z" stroke-width="1.3"/>
<path d="M919,854C918 853 917 851 917 850C916 849 917 847 918 846C919 845 921 845 921 844C922 844 923 844 924 845C925 845 925 846 926 847C926 848 927 849 927 850C927 851 926 854 924 855C923 855 921 855 919 854Z" stroke-width="1.3"/>
<path d="M1361,593C1361 592 1360 591 1360 591C1361 590 1361 589 1362 589C1362 588 1363 588 1363 588C1364 588 1366 588 1366 588C1367 589 1367 591 1368 592C1368 593 1367 594 1367 594C1366 595 1365 595 1364 595C1363 595 1362 594 1361 593Z" stroke-width="1.3"/>
<path d="M1409,761C1409 760 1409 759 1409 758C1409 757 1409 755 1410 755C1411 754 1413 754 1413 755C1414 755 1415 757 1416 758C1416 760 1416 761 1416 763C1416 764 1415 766 1414 766C1413 766 1411 766 1410 765C1409 764 1409 762 1409 761Z" stroke-width="1.3"/>
<path d="M990,925C990 925 987 924 986 924C985 924 984 923 983 922C983 921 981 920 981 918C981 917 983 916 985 915C986 915 987 915 988 915C989 916 990 917 991 918C991 919 992 920 992 921C992 922 991 924 990 925Z" stroke-width="1.3"/>
<path d="M1248,763C1248 762 1247 759 1247 758C1248 756 1251 753 1253 753C1255 753 1258 755 1259 756C1261 758 1263 758 1264 760C1265 761 1266 765 1265 767C1264 768 1259 769 1257 769C1255 769 1253 768 1252 767C1250 766 1249 765 1248 763Z"/>
<path d="M1200,925C1200 923 1200 922 1201 921C1201 919 1202 917 1204 917C1205 916 1208 916 1209 917C1211 917 1212 919 1212 921C1213 922 1213 924 1212 926C1211 928 1210 930 1208 930C1206 931 1203 930 1202 929C1201 928 1201 926 1200 925Z"/>
<path d="M1161,1007C1160 1008 1159 1008 1158 1007C1157 1007 1155 1006 1155 1005C1154 1004 1154 1002 1155 1001C1155 1000 1156 1000 1157 1000C1158 1000 1158 999 1159 999C1160 999 1162 999 1163 1000C1164 1001 1164 1004 1164 1005C1164 1006 1163 1007 1161 1007Z" stroke-width="1.3"/>
<path d="M1167,728C1165 730 1163 731 1160 732C1158 732 1154 733 1152 732C1150 731 1148 727 1148 724C1148 722 1151 719 1153 717C1155 715 1157 714 1160 714C1162 714 1165 713 1167 714C1169 716 1171 719 1171 721C1171 723 1168 726 1167 728Z"/>
<path d="M1394,722C1393 721 1392 719 1393 717C1393 716 1395 715 1396 714C1397 713 1399 714 1400 714C1401 714 1402 716 1402 716C1403 717 1402 718 1402 719C1402 720 1401 721 1401 721C1400 722 1398 723 1397 723C1396 723 1394 722 1394 722Z" stroke-width="1.3"/>
<path d="M1104,516C1104 516 1102 517 1101 516C1101 516 1100 515 1099 514C1099 513 1098 512 1098 511C1098 510 1098 508 1099 508C1100 507 1102 508 1103 508C1103 509 1104 510 1104 511C1105 512 1104 512 1104 513C1104 514 1104 515 1104 516Z" stroke-width="1.3"/>
<path d="M992,895C992 893 994 892 995 891C996 889 997 888 998 888C1000 887 1002 887 1003 888C1005 889 1006 890 1006 892C1007 893 1008 896 1007 897C1006 898 1003 899 1001 900C999 900 997 900 995 899C994 898 992 896 992 895Z"/>
<path d="M1285,1020C1285 1021 1285 1022 1284 1023C1283 1024 1282 1025 1281 1025C1280 1025 1279 1023 1278 1023C1277 1022 1277 1021 1277 1020C1277 1019 1278 1018 1279 1017C1279 1017 1280 1018 1281 1018C1282 1018 1283 1018 1283 1018C1284 1019 1284 1020 1285 1020Z" stroke-width="1.3"/>
<path d="M1071,942C1070 941 1069 940 1069 938C1069 936 1070 933 1072 932C1073 932 1076 932 1078 932C1079 933 1080 935 1080 936C1081 937 1080 939 1080 940C1080 941 1080 942 1079 943C1078 944 1076 945 1075 945C1074 944 1072 943 1071 942Z" stroke-width="1.3"/>
<path d="M1373,844C1373 845 1372 847 1371 847C1370 848 1369 848 1368 847C1367 847 1367 846 1366 846C1366 845 1365 844 1365 843C1364 842 1365 840 1366 839C1366 838 1368 837 1369 837C1370 837 1372 838 1373 839C1374 840 1374 842 1373 844Z" stroke-width="1.3"/>
<path d="M1330,720C1329 720 1327 721 1326 721C1325 721 1322 720 1321 719C1321 717 1320 715 1321 713C1321 711 1323 709 1324 708C1326 708 1328 709 1330 710C1331 711 1331 712 1332 714C1332 715 1333 716 1333 717C1333 718 1331 719 1330 720Z" stroke-width="1.3"/>
<path d="M1054,853C1052 853 1049 852 1047 850C1045 849 1042 846 1042 844C1042 842 1045 840 1047 839C1049 837 1051 836 1054 836C1056 836 1060 836 1061 837C1063 838 1063 842 1063 844C1063 846 1062 848 1061 850C1059 851 1056 853 1054 853Z"/>
<path d="M1228,541C1227 541 1227 540 1227 539C1226 538 1226 538 1226 537C1225 536 1225 534 1226 533C1227 532 1229 530 1230 531C1231 531 1233 533 1234 534C1234 535 1235 537 1234 538C1234 540 1233 542 1232 542C1231 543 1229 542 1228 541Z" stroke-width="1.3"/>
<path d="M1358,881C1357 882 1356 883 1355 883C1354 883 1353 883 1352 882C1351 882 1349 881 1349 880C1349 879 1350 877 1351 876C1352 874 1354 873 1355 873C1356 872 1358 872 1359 873C1360 874 1359 876 1359 877C1359 879 1358 880 1358 881Z" stroke-width="1.3"/>
<path d="M1099,627C1097 627 1096 627 1095 626C1093 625 1091 624 1090 623C1090 621 1090 618 1091 616C1092 615 1094 614 1096 614C1097 614 1099 614 1101 615C1102 616 1105 617 1105 619C1106 621 1106 624 1105 626C1103 627 1101 627 1099 627Z"/>
<path d="M1414,886C1413 886 1412 887 1411 887C1410 886 1409 884 1410 883C1410 882 1411 881 1412 881C1412 880 1413 879 1413 879C1414 879 1415 879 1415 880C1416 881 1416 882 1416 883C1416 884 1416 885 1415 885C1415 886 1414 886 1414 886Z" stroke-width="1.3"/>
<path d="M1017,630C1016 630 1014 630 1013 630C1012 629 1010 629 1009 628C1008 626 1008 624 1008 623C1008 621 1010 620 1011 619C1012 618 1015 617 1016 617C1018 618 1018 621 1018 623C1019 624 1018 625 1017 626C1017 627 1018 629 1017 630Z" stroke-width="1.3"/>
<path d="M956,739C954 739 952 736 951 735C950 733 950 731 950 729C950 727 951 725 952 724C953 724 956 725 957 726C958 727 958 727 958 728C959 728 960 729 961 730C961 731 961 733 961 735C960 736 957 739 956 739Z" stroke-width="1.3"/>
<path d="M936,707C935 708 933 707 932 707C930 706 929 705 929 704C928 703 928 702 928 701C928 700 928 699 929 698C929 697 930 697 932 697C933 696 935 697 936 698C937 698 939 701 939 702C939 704 938 706 936 707Z" stroke-width="1.3"/>
<path d="M1183,1007C1183 1006 1183 1004 1183 1004C1183 1003 1184 1002 1185 1001C1185 1001 1186 1000 1187 1000C1188 1000 1190 1001 1190 1002C1191 1002 1192 1004 1192 1005C1192 1007 1191 1008 1190 1009C1189 1010 1187 1010 1186 1010C1185 1009 1184 1008 1183 1007Z" stroke-width="1.3"/>
<path d="M1029,812C1027 811 1025 807 1025 804C1025 802 1028 800 1028 799C1029 797 1028 796 1028 795C1029 793 1031 791 1032 791C1034 791 1037 792 1038 793C1039 795 1041 798 1041 801C1040 803 1039 806 1037 808C1035 810 1031 813 1029 812Z"/>
<path d="M1341,596C1340 596 1339 596 1339 595C1338 594 1338 593 1338 592C1338 591 1338 589 1339 588C1340 587 1342 586 1343 587C1344 587 1344 589 1344 590C1345 592 1345 593 1344 594C1344 595 1344 596 1343 597C1342 597 1341 597 1341 596Z" stroke-width="1.3"/>
<path d="M1129,936C1127 936 1126 935 1124 934C1123 933 1121 932 1121 931C1121 930 1122 929 1123 927C1123 926 1123 925 1124 924C1125 923 1127 921 1129 921C1130 922 1133 924 1134 926C1135 928 1136 932 1135 934C1134 936 1130 936 1129 936Z"/>
</g>
<path d="M1485,636 C1506,636 1520,660 1523,684 C1526,714 1510,734 1486,734 C1463,734 1448,716 1448,690 C1448,660 1464,636 1485,636Z" fill="#efe8f2" stroke="#5d717c" stroke-width="4"/>
<line x1="504.5" y1="266" x2="504.5" y2="473" stroke="#1e1a1b" stroke-width="2.6"/>
<circle cx="504.5" cy="473" r="6.3" fill="#1e1a1b"/>
<line x1="861.5" y1="266" x2="861.5" y2="563" stroke="#1e1a1b" stroke-width="2.6"/>
<circle cx="861.5" cy="563" r="6.3" fill="#1e1a1b"/>
<line x1="1140.5" y1="266" x2="1140.5" y2="664" stroke="#1e1a1b" stroke-width="2.6"/>
<circle cx="1140.5" cy="664" r="6.3" fill="#1e1a1b"/>
<line x1="504.8" y1="867.5" x2="504.8" y2="1074.5" stroke="#1e1a1b" stroke-width="2.6"/>
<circle cx="504.8" cy="867.5" r="6.3" fill="#1e1a1b"/>
<text x="546" y="110" font-size="48" font-weight="bold" font-style="italic" fill="#1f1b1c" letter-spacing="0.22"><tspan stroke="#1f1b1c" stroke-width="0.7">Normal anatomy </tspan><tspan font-weight="normal">(cross section)</tspan></text>
<g font-size="25.5" font-style="italic" fill="#1f1b1c" stroke="#1f1b1c" stroke-width="0.3" letter-spacing="0.1">
<text x="381" y="244">Subscapularis muscle</text>
<text x="811" y="244">Scapula</text>
<text x="1089" y="244">Humerus</text>
<text x="385" y="1107">Infraspinatus muscle</text>
</g>
<g fill="#231f20">
<path d="M174,1233.2 C168,1230.5 158,1230.5 152.2,1233.9 C148.5,1236 146,1238.5 144.7,1241.4 C148,1240.5 151.5,1241.5 154.4,1243.2 C155.5,1240 157,1238.3 158.9,1237.4 C162,1235.2 167,1233.8 174,1233.2Z"/>
<path d="M129.6,1237.9 C128,1242 127.2,1247 127.3,1252.1 L137.1,1251.7 C134,1247.5 131.5,1243 129.6,1237.9Z"/>
<path d="M158.9,1260.6 C158.5,1264.5 157.8,1267.5 156.7,1270.3 C159,1272 161,1272.3 163.3,1272.1 C168,1271.8 172,1270 174.5,1267.5 C176.5,1265.8 178,1264.5 179.3,1263.2 C176,1264.5 173,1265.2 170,1265 C167,1265 165,1264.8 163.3,1264.1 C161.5,1263.3 160.2,1262.3 158.9,1260.6Z"/>
</g>
<path d="M119.8,1251.2 C122.5,1252.8 125,1253.4 127.8,1253.4 C131,1253.5 134,1253.3 136.7,1252.6 C139.5,1251.8 141.8,1250.2 143.3,1248.1 C144.6,1246.3 145.2,1244.6 146.4,1243.7 C147.6,1242.6 148.8,1242.2 150,1242.3 C152,1242.5 153.6,1243.4 154.4,1245 C155.8,1247 156.3,1249.4 156.2,1251.7 C156.3,1255 156.5,1258 155.8,1260.6 C155,1264 154,1267.4 152.7,1269.4 C150.5,1271.5 148,1272 145.6,1271.7 C142,1271.5 139,1270.8 136.7,1269.4 C134,1268 132,1266 130,1263.7 C127.5,1261 125.5,1258.6 123.3,1256.1 C122,1254.6 120.8,1253 119.8,1251.2Z" fill="#8cc74a"/>
<path d="M133.5,1268.3 C140,1269 148,1266.5 156,1257" fill="none" stroke="#e9f7d6" stroke-width="0.9"/>
<circle cx="164.4" cy="1249.2" r="6.2" fill="#8cc74a"/>
<text x="83.5" y="1289.6" font-size="15" font-weight="bold" font-style="italic" fill="#231f20" stroke="#231f20" stroke-width="0.9" textLength="87" lengthAdjust="spacingAndGlyphs">SHOULDER</text>
<text x="173.5" y="1289.6" font-size="15" font-weight="bold" font-style="italic" fill="#8cc74a" stroke="#8cc74a" stroke-width="0.9" textLength="41.5" lengthAdjust="spacingAndGlyphs">BUZZ</text>
<text x="122" y="1295.8" font-size="5.2" fill="#7d7d7d" textLength="54.7" lengthAdjust="spacingAndGlyphs">www.shoulderbuzz.com</text>
<path d="M1231,1292 L1800,1292 L1800,1350 L1213,1350 Z" fill="#fdd6e2"/>
<text x="1295" y="1327.5" font-size="25.4" font-style="italic" fill="#4a4546">Section 8: <tspan font-weight="bold" fill="#d4108c" stroke="#d4108c" stroke-width="0.6" letter-spacing="0.5">Glenohumeral Instability</tspan></text>
</svg></body></html>
